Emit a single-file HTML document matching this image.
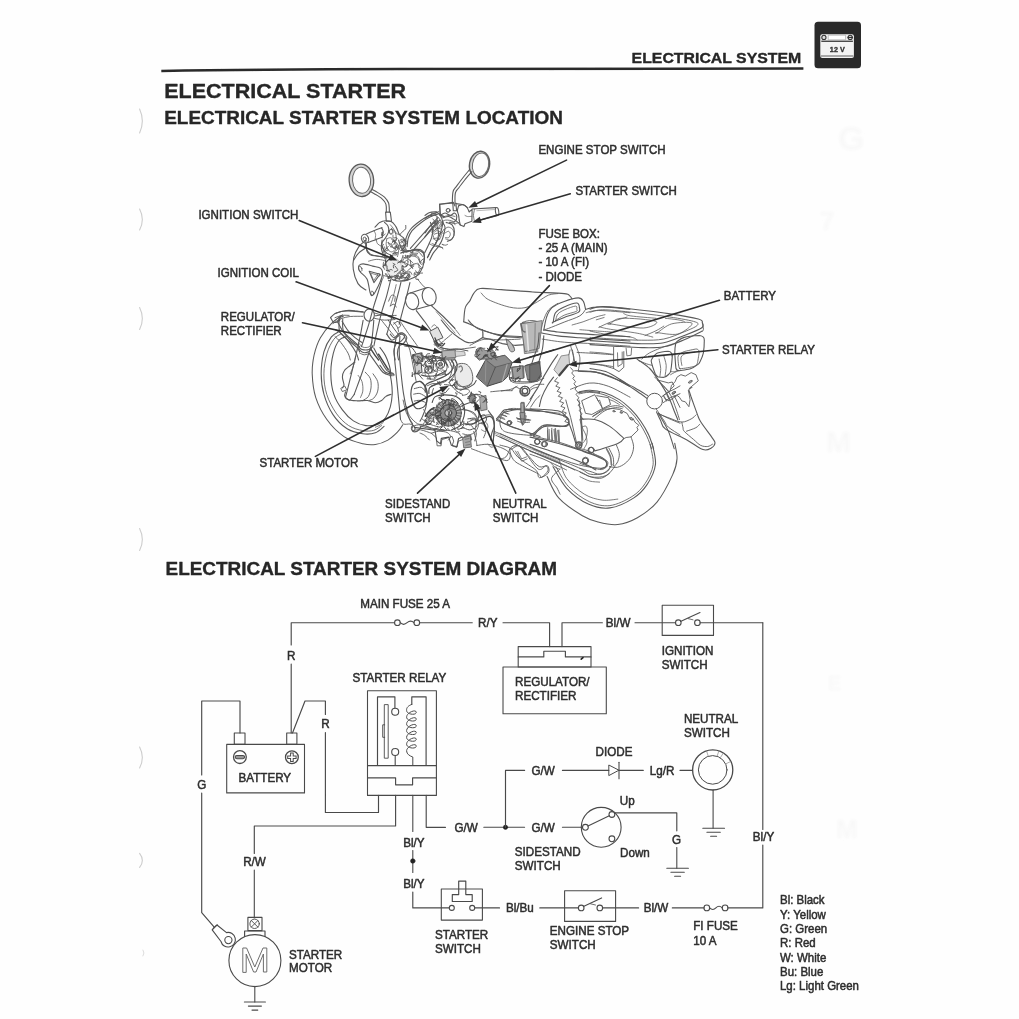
<!DOCTYPE html>
<html><head><meta charset="utf-8"><title>Electrical Starter</title>
<style>
html,body{margin:0;padding:0;background:#fff;}
body{width:1019px;height:1019px;overflow:hidden;font-family:"Liberation Sans",sans-serif;}
svg{display:block;font-family:"Liberation Sans",sans-serif;}
svg *{stroke-linecap:round;stroke-linejoin:round;}
</style></head><body>
<svg width="1019" height="1019" viewBox="0 0 1019 1019">
<defs><filter id="soft" x="-5%" y="-5%" width="110%" height="110%"><feGaussianBlur stdDeviation="0.35"/></filter><filter id="ghost" x="-30%" y="-30%" width="160%" height="160%"><feGaussianBlur stdDeviation="1.8"/></filter></defs>
<rect x="0" y="0" width="1019" height="1019" fill="#fefefe"/>
<g filter="url(#soft)">
<path d="M161.3,70.9 Q250,69.5 400,69.1 T803.4,68.5" stroke="#2a2a2a" stroke-width="2.5" fill="none" style="stroke-linecap:butt"/>
<text transform="translate(631.6,63.1) scale(1.0575,1)" font-size="15.0" font-weight="bold" fill="#262626" stroke="#262626" stroke-width="0.35" text-anchor="start">ELECTRICAL SYSTEM</text>
<text transform="translate(164.2,97.5) scale(1.0873,1)" font-size="19.8" font-weight="bold" fill="#262626" stroke="#262626" stroke-width="0.35" text-anchor="start">ELECTRICAL STARTER</text>
<text transform="translate(164.2,123.7) scale(1.0412,1)" font-size="18.2" font-weight="bold" fill="#262626" stroke="#262626" stroke-width="0.35" text-anchor="start">ELECTRICAL STARTER SYSTEM LOCATION</text>
<rect x="814.5" y="21.8" width="46.5" height="46.5" rx="3.5" fill="#2b2b2b"/>
<rect x="820.3" y="34.3" width="33.6" height="23.6" rx="2" fill="#f4f4f4"/>
<rect x="821.3" y="40.6" width="31.6" height="1.3" fill="#3a3a3a"/>
<rect x="820.8" y="55.4" width="32.6" height="1.2" fill="#777"/>
<rect x="828.6" y="35.2" width="17" height="4.6" fill="#fff" stroke="#999" stroke-width="0.6"/>
<circle cx="823.9" cy="37.4" r="2.1" fill="#ddd" stroke="#333" stroke-width="1.1"/>
<circle cx="850.2" cy="37.4" r="2.1" fill="#ddd" stroke="#333" stroke-width="1.1"/>
<rect x="847.5" y="36.9" width="5.4" height="1.1" fill="#333"/>
<text transform="translate(837.3,52.3) scale(0.95,1)" font-size="7.6" font-weight="bold" fill="#333" stroke="#333" stroke-width="0.35" text-anchor="middle">12 V</text>
<text transform="translate(165.5,575.0) scale(1.0407,1)" font-size="18.2" font-weight="bold" fill="#262626" stroke="#262626" stroke-width="0.35" text-anchor="start">ELECTRICAL STARTER SYSTEM DIAGRAM</text>
<path d="M139.6,109 q5.5,12 0,24" stroke="#cdcdcd" stroke-width="1.1" fill="none"/>
<path d="M139.6,209.0 q5.5,10.5 0,21.0" stroke="#cdcdcd" stroke-width="1.1" fill="none"/>
<path d="M139.6,307.5 q5.5,11 0,22" stroke="#cdcdcd" stroke-width="1.1" fill="none"/>
<path d="M139.6,528.5 q5.5,11 0,22" stroke="#cdcdcd" stroke-width="1.1" fill="none"/>
<path d="M139.6,747.0 q5.5,10.5 0,21.0" stroke="#cdcdcd" stroke-width="1.1" fill="none"/>
<path d="M139.6,853.4 q5.5,7 0,14" stroke="#cdcdcd" stroke-width="1.1" fill="none"/>
<path d="M143,950 q2,3 0,6" stroke="#dcdcdc" stroke-width="1" fill="none"/>
<text x="838" y="150" font-size="34" font-weight="bold" fill="#f8f8f8" filter="url(#ghost)">G</text>
<text x="820" y="230" font-size="26" font-weight="bold" fill="#f8f8f8" filter="url(#ghost)">7</text>
<text x="826" y="452" font-size="30" font-weight="bold" fill="#f8f8f8" filter="url(#ghost)">M</text>
<text x="836" y="838" font-size="26" font-weight="bold" fill="#f8f8f8" filter="url(#ghost)">M</text>
<text x="828" y="690" font-size="20" font-weight="bold" fill="#f8f8f8" filter="url(#ghost)">E</text>
<ellipse cx="361.5" cy="180.3" rx="10.6" ry="14.6" transform="rotate(-4 361.5 180.3)" stroke="#d4d4d4" stroke-width="3.2" fill="none"/>
<ellipse cx="361.4" cy="180.3" rx="12.25" ry="16.25" transform="rotate(-4 361.4 180.3)" stroke="#5a5a5a" stroke-width="1.3" fill="none"/>
<ellipse cx="361.6" cy="180.3" rx="9.07" ry="13.07" transform="rotate(-4 361.6 180.3)" stroke="#6a6a6a" stroke-width="1.0" fill="none"/>
<path d="M369.9,191.3 C370.7,191.8 373.0,192.9 375.0,194.2 C377.1,195.4 380.3,197.2 382.1,198.9 C383.9,200.5 385.2,202.0 385.9,204.2 C386.6,206.4 386.3,210.8 386.3,212.1" stroke="#5a5a5a" stroke-width="1.1" fill="none" />
<path d="M372.2,189.5 C373.1,190.0 375.4,191.1 377.4,192.4 C379.4,193.7 382.6,195.3 384.5,197.1 C386.3,198.9 387.8,200.5 388.6,203.0 C389.4,205.5 389.3,210.6 389.4,212.1" stroke="#5a5a5a" stroke-width="1.1" fill="none" />
<path d="M385.6,212.1 L386.3,221.3 L391.5,221.3 L390.3,212.1 L385.6,212.1" stroke="#5a5a5a" stroke-width="1.1" fill="none" />
<path d="M365.9,234.2 C367.2,233.6 371.2,231.8 373.9,230.7 C376.6,229.6 380.7,228.2 382.1,227.7" stroke="#5a5a5a" stroke-width="1.1" fill="none" />
<path d="M368.0,242.5 C369.2,242.0 372.8,240.7 375.0,239.9 C377.3,239.0 380.4,237.9 381.5,237.5" stroke="#5a5a5a" stroke-width="1.1" fill="none" />
<ellipse cx="365.0" cy="238.7" rx="3.53" ry="4.47" transform="rotate(-20 365.0 238.7)" stroke="#5a5a5a" stroke-width="1.1" fill="none"/>
<ellipse cx="364.7" cy="238.9" rx="1.53" ry="1.88" transform="rotate(-20 364.7 238.9)" stroke="#5a5a5a" stroke-width="0.8" fill="none"/>
<path d="M381.5,227.7 C381.8,228.4 383.2,230.2 383.3,231.9 C383.4,233.5 382.3,236.8 382.1,237.7" stroke="#5a5a5a" stroke-width="1.1" fill="none" />
<path d="M373.9,230.7 C374.2,231.3 375.4,232.7 375.6,234.2 C375.8,235.7 375.1,238.9 375.0,239.9" stroke="#5a5a5a" stroke-width="0.7" fill="none" />
<path d="M375.0,227.1 C375.8,226.4 378.0,223.5 379.7,222.4 C381.5,221.4 383.7,220.8 385.6,220.7 C387.6,220.6 389.8,220.8 391.5,221.8 C393.3,222.9 395.0,225.1 396.2,227.1 C397.5,229.2 398.0,232.4 399.2,234.2 C400.4,236.0 402.2,236.4 403.3,237.7 C404.4,239.1 405.5,240.9 405.7,242.5 C405.9,244.0 405.3,245.8 404.5,247.2 C403.7,248.5 401.5,250.1 400.9,250.7" stroke="#5a5a5a" stroke-width="1.1" fill="none" />
<path d="M384.5,222.4 C385.0,223.0 387.3,224.4 388.0,226.0 C388.7,227.5 389.0,229.9 388.6,231.9 C388.2,233.8 386.7,236.0 385.6,237.7 C384.6,239.5 382.6,240.7 382.1,242.5 C381.6,244.2 381.9,246.6 382.7,248.3 C383.5,250.1 385.1,251.8 386.8,253.1 C388.5,254.3 391.7,255.5 392.7,256.0" stroke="#5a5a5a" stroke-width="1.1" fill="none" />
<path d="M390.3,224.8 C390.9,225.6 392.9,227.5 393.9,229.5 C394.9,231.5 396.0,234.4 396.2,236.6 C396.4,238.7 395.8,240.9 395.1,242.5 C394.3,244.0 392.1,245.4 391.5,246.0" stroke="#5a5a5a" stroke-width="0.8" fill="none" />
<path d="M386.8,238.9 C387.4,238.7 389.2,237.5 390.3,237.7 C391.5,237.9 392.9,238.9 393.9,240.1 C394.9,241.3 396.0,243.2 396.2,244.8 C396.4,246.4 395.8,248.3 395.1,249.5 C394.3,250.7 392.7,251.9 391.5,251.9 C390.3,251.9 388.9,250.7 388.0,249.5 C387.1,248.3 386.4,246.6 386.2,244.8 C386.0,243.0 386.7,239.9 386.8,238.9" stroke="#5a5a5a" stroke-width="0.8" fill="none" />
<path d="M389.2,230.7 C389.6,230.5 390.8,229.3 391.5,229.5 C392.2,229.7 393.2,231.1 393.3,231.9 C393.4,232.6 392.7,233.9 392.1,234.2 C391.5,234.5 390.3,234.2 389.8,233.6 C389.3,233.0 389.3,231.2 389.2,230.7" stroke="#5a5a5a" stroke-width="0.7" fill="none" />
<path d="M376.2,238.9 C376.4,239.7 376.6,242.5 377.4,243.6 C378.2,244.8 380.3,245.6 380.9,246.0" stroke="#5a5a5a" stroke-width="0.8" fill="none" />
<path d="M382.1,246.0 C382.5,246.8 383.9,248.9 384.5,250.7 C385.0,252.5 385.0,255.0 385.6,256.6 C386.2,258.1 387.6,259.4 388.0,260.0" stroke="#5a5a5a" stroke-width="0.8" fill="none" />
<path d="M396.2,246.0 C396.6,246.8 398.4,248.9 398.6,250.7 C398.8,252.5 397.6,255.6 397.4,256.6" stroke="#5a5a5a" stroke-width="0.8" fill="none" />
<path d="M353.8,260.0 C354.6,258.8 356.6,255.1 358.6,253.1 C360.5,251.0 364.3,249.3 365.6,247.8 C366.9,246.2 366.1,244.3 366.2,243.6" stroke="#5a5a5a" stroke-width="1.1" fill="none" />
<path d="M366.2,243.6 C366.3,244.8 366.1,248.8 366.8,250.7 C367.5,252.6 368.8,253.9 370.3,254.8 C371.9,255.7 374.3,255.7 376.2,256.0 C378.2,256.3 381.1,256.5 382.1,256.6" stroke="#5a5a5a" stroke-width="1.1" fill="none" />
<path d="M405.2,246.0 C405.4,244.6 405.4,240.5 406.2,237.7 C407.1,235.0 408.1,232.2 410.4,229.5 C412.6,226.8 416.6,223.6 419.8,221.3 C422.9,218.9 426.1,216.9 429.2,215.4 C432.4,213.8 437.1,212.4 438.6,211.8" stroke="#5a5a5a" stroke-width="1.1" fill="none" />
<path d="M407.1,246.6 C407.3,245.2 407.4,241.0 408.2,238.3 C409.1,235.7 410.0,233.3 412.1,230.7 C414.3,228.1 417.9,225.0 421.0,222.7 C424.0,220.4 427.3,218.3 430.4,216.8 C433.4,215.3 437.7,214.1 439.2,213.6" stroke="#5a5a5a" stroke-width="1.1" fill="none" />
<path d="M402.7,250.7 C402.9,249.5 403.5,245.6 403.9,243.6 C404.3,241.7 405.0,239.7 405.2,238.9" stroke="#5a5a5a" stroke-width="0.8" fill="none" />
<path d="M410.4,248.3 C411.9,246.6 416.6,241.3 419.8,237.7 C422.9,234.2 426.3,230.1 429.2,227.1 C432.2,224.2 436.1,221.3 437.5,220.1" stroke="#5a5a5a" stroke-width="1.1" fill="none" />
<path d="M413.3,250.1 C414.9,248.3 419.7,242.9 422.7,239.5 C425.8,236.1 428.8,232.3 431.6,229.5 C434.3,226.7 437.9,223.6 439.2,222.4" stroke="#5a5a5a" stroke-width="1.1" fill="none" />
<path d="M439.6,204.2 L453.4,202.4 L455.0,205.9" stroke="#5a5a5a" stroke-width="1.1" fill="none" />
<path d="M439.6,204.2 L440.4,215.4 L444.5,216.5" stroke="#5a5a5a" stroke-width="1.1" fill="none" />
<circle cx="448.3" cy="210.4" r="1.88" stroke="#5a5a5a" stroke-width="0.8" fill="none"/>
<path d="M435.1,215.4 C435.7,215.8 437.6,216.5 438.6,217.7 C439.6,218.9 441.0,220.9 441.0,222.4 C441.0,224.0 439.0,226.4 438.6,227.1" stroke="#5a5a5a" stroke-width="0.8" fill="none" />
<path d="M444.5,216.5 C445.3,216.3 447.5,215.4 449.2,215.4 C451.0,215.4 454.0,216.3 455.0,216.5" stroke="#5a5a5a" stroke-width="0.8" fill="none" />
<path d="M441.0,222.4 C441.8,222.0 443.7,220.3 445.7,220.1 C447.7,219.9 451.2,220.5 452.8,221.3 C454.3,222.0 454.6,224.2 455.0,224.8" stroke="#5a5a5a" stroke-width="0.8" fill="none" />
<path d="M432.7,234.2 C433.3,233.6 434.9,230.9 436.3,230.7 C437.6,230.5 440.4,231.7 441.0,233.0 C441.6,234.4 440.8,237.7 439.8,238.9 C438.8,240.1 436.3,240.9 435.1,240.1 C433.9,239.3 433.1,235.2 432.7,234.2" stroke="#5a5a5a" stroke-width="0.8" fill="none" />
<path d="M429.2,243.6 C430.0,244.0 432.0,245.4 433.9,246.0 C435.9,246.6 439.5,246.7 441.0,247.2 C442.5,247.7 442.5,248.6 442.8,248.9" stroke="#5a5a5a" stroke-width="0.8" fill="none" />
<path d="M444.5,229.5 C445.1,229.1 446.7,227.1 448.1,227.1 C449.4,227.1 451.8,228.1 452.8,229.5 C453.7,230.9 454.3,233.6 453.9,235.4 C453.5,237.2 451.8,239.5 450.4,240.1 C449.0,240.7 446.5,239.1 445.7,238.9" stroke="#5a5a5a" stroke-width="0.8" fill="none" />
<path d="M430.4,222.4 C430.8,223.6 432.5,226.9 432.7,229.5 C432.9,232.1 432.4,235.0 431.6,237.7 C430.8,240.5 429.2,243.4 428.0,246.0 C426.9,248.5 425.1,251.9 424.5,253.1" stroke="#5a5a5a" stroke-width="1.1" fill="none" />
<path d="M437.5,227.1 C437.6,228.3 438.8,231.7 438.6,234.2 C438.4,236.8 437.5,239.9 436.3,242.5 C435.1,245.0 432.9,247.2 431.6,249.5 C430.2,251.9 428.6,255.4 428.0,256.6" stroke="#5a5a5a" stroke-width="1.1" fill="none" />
<path d="M400.9,253.1 C402.1,252.7 405.3,251.2 408.0,250.7 C410.8,250.2 414.9,249.7 417.4,250.1 C420.0,250.5 422.1,251.4 423.3,253.1 C424.5,254.7 424.3,258.8 424.5,260.0" stroke="#5a5a5a" stroke-width="1.1" fill="none" />
<path d="M405.7,256.6 C406.6,256.3 409.6,254.9 411.5,254.8 C413.5,254.7 416.1,255.1 417.4,256.0 C418.8,256.9 419.4,259.3 419.8,260.0" stroke="#5a5a5a" stroke-width="0.8" fill="none" />
<path d="M387.4,256.4 C387.0,256.7 385.5,257.9 384.6,257.8 C383.7,257.7 381.9,256.5 382.1,255.9 C382.3,255.2 385.2,254.0 385.9,253.7" stroke="#5a5a5a" stroke-width="0.9" fill="none" />
<path d="M397.2,238.7 C397.2,238.6 397.3,238.2 396.9,238.6 C396.4,239.0 395.5,241.0 394.5,241.1 C393.6,241.2 392.0,239.4 391.5,239.1" stroke="#5a5a5a" stroke-width="0.9" fill="none" />
<path d="M382.6,231.9 C382.5,232.4 382.2,234.9 382.1,234.9 C382.0,234.9 382.1,231.8 382.1,232.0 C382.1,232.1 382.1,235.1 382.1,235.7" stroke="#5a5a5a" stroke-width="0.9" fill="none" />
<path d="M383.6,244.3 C383.4,244.5 382.9,245.1 382.7,245.6 C382.4,246.0 382.2,246.6 382.1,247.0 C382.0,247.4 382.1,247.9 382.1,248.1" stroke="#5a5a5a" stroke-width="0.9" fill="none" />
<path d="M403.3,243.0 C402.9,242.4 400.5,240.3 400.6,239.7 C400.7,239.1 403.8,239.1 404.0,239.6 C404.2,240.2 402.1,242.4 401.7,243.0" stroke="#5a5a5a" stroke-width="0.9" fill="none" />
<path d="M395.7,248.2 C396.2,247.9 398.3,246.4 398.6,246.6 C398.9,246.8 398.2,248.6 397.5,249.4 C396.9,250.2 395.2,251.1 394.8,251.4" stroke="#5a5a5a" stroke-width="0.9" fill="none" />
<path d="M384.4,246.8 C384.7,247.4 385.2,249.6 385.9,250.2 C386.6,250.8 388.5,250.7 388.5,250.2 C388.6,249.8 386.6,248.0 386.2,247.6" stroke="#5a5a5a" stroke-width="0.9" fill="none" />
<path d="M394.6,240.4 C394.0,241.0 391.9,242.7 391.3,243.5 C390.8,244.2 391.7,245.1 391.4,245.0 C391.0,244.9 389.6,243.4 389.3,243.1" stroke="#5a5a5a" stroke-width="0.9" fill="none" />
<path d="M382.4,234.6 C382.3,234.5 382.2,233.7 382.1,234.0 C382.1,234.3 381.6,236.5 382.1,236.5 C382.6,236.5 384.6,234.5 385.1,234.1" stroke="#5a5a5a" stroke-width="0.9" fill="none" />
<path d="M391.4,228.3 C391.6,228.9 392.8,231.0 392.7,231.9 C392.5,232.8 391.0,234.2 390.4,233.9 C389.8,233.6 389.2,230.8 388.9,230.2" stroke="#5a5a5a" stroke-width="0.9" fill="none" />
<path d="M400.1,234.5 C399.7,234.4 398.4,234.2 397.6,234.0 C396.9,233.8 396.0,233.6 395.6,233.3 C395.2,233.1 395.3,232.8 395.2,232.7" stroke="#5a5a5a" stroke-width="0.9" fill="none" />
<path d="M396.0,232.6 C395.5,232.1 393.9,230.0 392.9,229.5 C391.9,229.0 390.6,229.3 389.9,229.7 C389.3,230.1 389.1,231.6 388.9,232.0" stroke="#5a5a5a" stroke-width="0.9" fill="none" />
<path d="M394.0,247.5 C394.6,246.9 397.6,245.2 397.6,244.2 C397.6,243.2 394.7,241.8 394.0,241.4 C393.2,241.1 393.3,241.9 393.1,242.0" stroke="#5a5a5a" stroke-width="0.9" fill="none" />
<path d="M399.6,234.8 C400.2,234.2 402.1,232.1 403.1,231.1 C404.1,230.1 405.2,229.9 405.7,228.9 C406.1,228.0 405.7,226.0 405.7,225.4" stroke="#5a5a5a" stroke-width="0.9" fill="none" />
<path d="M404.8,249.3 C405.0,249.4 405.9,249.2 405.7,249.9 C405.4,250.6 403.7,253.3 403.2,253.4 C402.8,253.5 402.9,250.8 402.8,250.3" stroke="#5a5a5a" stroke-width="0.9" fill="none" />
<path d="M396.4,240.0 C396.3,239.6 396.7,237.7 396.2,237.4 C395.7,237.1 393.8,238.4 393.3,238.0 C392.8,237.6 393.0,235.7 393.0,235.2" stroke="#5a5a5a" stroke-width="0.9" fill="none" />
<path d="M441.9,225.3 C441.5,225.8 440.3,227.6 439.2,228.1 C438.1,228.5 435.6,228.6 435.5,228.1 C435.4,227.6 438.0,225.5 438.5,224.9" stroke="#5a5a5a" stroke-width="0.9" fill="none" />
<path d="M444.0,233.3 C443.4,233.2 440.8,232.6 440.5,232.4 C440.2,232.2 441.5,232.6 442.0,232.1 C442.6,231.6 443.5,229.9 443.7,229.5" stroke="#5a5a5a" stroke-width="0.9" fill="none" />
<path d="M436.9,216.7 C436.9,217.2 436.8,219.0 436.9,219.9 C437.1,220.7 437.7,221.3 437.6,221.9 C437.6,222.6 436.9,223.5 436.7,223.8" stroke="#5a5a5a" stroke-width="0.9" fill="none" />
<path d="M433.8,222.6 C434.1,222.9 435.0,224.5 435.2,224.3 C435.3,224.1 435.0,222.1 434.6,221.2 C434.2,220.3 433.1,219.4 432.8,219.0" stroke="#5a5a5a" stroke-width="0.9" fill="none" />
<path d="M437.9,239.7 C437.5,240.2 435.5,242.7 435.6,242.6 C435.7,242.5 438.1,239.8 438.5,239.3 C438.8,238.7 437.7,239.2 437.5,239.2" stroke="#5a5a5a" stroke-width="0.9" fill="none" />
<path d="M432.1,227.0 C432.6,226.5 434.5,225.1 435.2,224.1 C435.8,223.1 435.7,221.2 435.9,221.2 C436.1,221.3 436.4,223.7 436.5,224.2" stroke="#5a5a5a" stroke-width="0.9" fill="none" />
<path d="M436.1,213.3 C435.6,213.3 433.7,213.6 433.0,213.6 C432.2,213.5 431.8,212.6 431.6,213.0 C431.3,213.4 431.6,215.7 431.6,216.2" stroke="#5a5a5a" stroke-width="0.9" fill="none" />
<path d="M441.0,226.1 C441.1,225.6 441.7,224.0 442.0,223.1 C442.3,222.2 442.4,220.4 442.6,220.6 C442.8,220.8 443.3,223.5 443.4,224.1" stroke="#5a5a5a" stroke-width="0.9" fill="none" />
<path d="M432.8,231.3 C432.9,230.9 433.7,228.5 433.6,228.7 C433.4,228.9 431.5,232.3 431.8,232.4 C432.2,232.5 435.0,230.0 435.6,229.5" stroke="#5a5a5a" stroke-width="0.9" fill="none" />
<path d="M447.4,244.4 C447.0,244.5 446.3,245.2 445.4,245.2 C444.5,245.2 442.3,244.3 441.9,244.2 C441.6,244.1 443.0,244.8 443.2,244.9" stroke="#5a5a5a" stroke-width="0.9" fill="none" />
<ellipse cx="480.0" cy="164.7" rx="9.19" ry="12.84" transform="rotate(10 480.0 164.7)" stroke="#d4d4d4" stroke-width="2.6" fill="none"/>
<ellipse cx="479.5" cy="164.7" rx="10.01" ry="13.54" transform="rotate(10 479.5 164.7)" stroke="#5a5a5a" stroke-width="1.3" fill="none"/>
<ellipse cx="480.6" cy="164.7" rx="8.13" ry="11.89" transform="rotate(10 480.6 164.7)" stroke="#6a6a6a" stroke-width="1.0" fill="none"/>
<path d="M469.7,169.4 C468.8,170.6 466.0,173.8 463.9,176.5 C461.7,179.3 458.6,183.4 456.8,185.9 C455.0,188.5 453.8,188.9 453.0,191.8 C452.3,194.8 452.4,201.6 452.3,203.6" stroke="#5a5a5a" stroke-width="1.1" fill="none" />
<path d="M471.9,171.6 C470.8,172.8 467.8,176.2 465.6,178.9 C463.5,181.6 460.6,185.3 458.9,187.7 C457.2,190.0 456.0,190.3 455.4,193.0 C454.7,195.6 455.1,201.8 455.0,203.6" stroke="#5a5a5a" stroke-width="1.1" fill="none" />
<path d="M452.8,203.0 L453.3,210.7 L456.6,210.7 L455.9,203.0" stroke="#5a5a5a" stroke-width="1.1" fill="none" />
<path d="M439.7,204.2 L453.3,203.0" stroke="#5a5a5a" stroke-width="1.1" fill="none" />
<path d="M439.7,204.2 L440.1,215.4 L443.8,216.5" stroke="#5a5a5a" stroke-width="1.1" fill="none" />
<path d="M455.9,203.6 L463.9,204.8 L467.4,207.7" stroke="#5a5a5a" stroke-width="1.1" fill="none" />
<circle cx="448.0" cy="210.3" r="1.88" stroke="#5a5a5a" stroke-width="0.8" fill="none"/>
<path d="M458.6,205.9 C459.2,205.8 461.3,204.6 462.7,204.8 C464.1,205.0 465.7,205.9 466.8,207.1 C467.9,208.3 468.8,211.1 469.2,211.8" stroke="#5a5a5a" stroke-width="1.1" fill="none" />
<path d="M469.2,211.8 L472.1,209.5 L471.9,221.3 L465.0,223.8 L463.9,226.6 L460.3,225.0 L459.2,220.1" stroke="#5a5a5a" stroke-width="1.1" fill="none" />
<path d="M458.6,205.9 C458.4,206.7 457.4,209.1 457.4,210.7 C457.4,212.2 458.3,213.8 458.6,215.4 C458.9,216.9 459.1,219.3 459.2,220.1" stroke="#5a5a5a" stroke-width="1.1" fill="none" />
<path d="M465.0,215.4 C465.4,215.6 466.3,216.4 467.4,216.5 C468.5,216.7 471.1,216.3 471.9,216.3" stroke="#5a5a5a" stroke-width="0.7" fill="none" />
<path d="M472.1,209.0 L495.7,207.6" stroke="#5a5a5a" stroke-width="1.1" fill="none" />
<path d="M474.5,221.5 L497.1,215.6" stroke="#5a5a5a" stroke-width="1.1" fill="none" />
<ellipse cx="497.1" cy="211.5" rx="1.65" ry="4.0" transform="rotate(-8 497.1 211.5)" stroke="#5a5a5a" stroke-width="1.1" fill="none"/>
<path d="M476.8,210.7 L494.5,209.5" stroke="#888" stroke-width="0.6" fill="none" />
<path d="M474.5,209.5 C474.3,210.5 473.5,213.4 473.5,215.4 C473.5,217.4 474.3,220.5 474.5,221.5" stroke="#5a5a5a" stroke-width="0.8" fill="none" />
<path d="M440.3,215.4 C441.1,215.0 443.4,213.0 445.0,213.0 C446.7,213.0 448.7,215.4 450.3,215.4 C451.9,215.4 453.4,212.8 454.4,213.0 C455.5,213.2 456.7,215.2 456.8,216.5 C456.9,217.9 456.2,220.3 455.0,221.3 C453.9,222.2 450.6,222.2 449.7,222.4" stroke="#5a5a5a" stroke-width="1.1" fill="none" />
<path d="M442.7,217.7 C443.6,217.5 446.8,216.3 448.6,216.5 C450.3,216.7 451.7,217.9 453.3,218.9 C454.8,219.9 456.8,221.4 458.0,222.4 C459.2,223.5 459.9,224.6 460.3,225.0" stroke="#5a5a5a" stroke-width="1.1" fill="none" />
<path d="M436.2,211.8 C436.9,212.4 439.2,213.6 440.3,215.4 C441.4,217.1 442.5,220.1 442.7,222.4 C442.9,224.8 442.1,227.1 441.5,229.5 C440.9,231.9 440.1,234.2 439.1,236.6 C438.2,238.9 437.0,241.3 435.6,243.6 C434.2,246.0 432.3,248.3 430.9,250.7 C429.5,253.1 427.9,256.6 427.4,257.8" stroke="#5a5a5a" stroke-width="1.1" fill="none" />
<path d="M442.7,222.4 C443.1,223.2 444.8,225.2 445.0,227.1 C445.2,229.1 444.4,231.9 443.8,234.2 C443.3,236.6 442.5,239.1 441.5,241.3 C440.5,243.4 439.3,245.2 438.0,247.2 C436.6,249.1 434.6,250.9 433.2,253.1 C431.9,255.2 430.3,258.8 429.7,260.0" stroke="#5a5a5a" stroke-width="1.1" fill="none" />
<path d="M446.2,222.4 C447.2,222.8 450.7,223.2 452.1,224.8 C453.5,226.4 454.4,229.5 454.4,231.9 C454.4,234.2 453.3,237.4 452.1,238.9 C450.9,240.5 448.2,240.9 447.4,241.3" stroke="#5a5a5a" stroke-width="1.1" fill="none" />
<path d="M445.0,233.0 C445.6,232.7 447.7,231.1 448.6,231.3 C449.4,231.5 450.3,233.1 450.3,234.2 C450.3,235.3 449.3,237.2 448.6,237.7 C447.8,238.3 446.1,237.5 445.6,237.5" stroke="#5a5a5a" stroke-width="0.8" fill="none" />
<path d="M435.6,229.5 C436.2,229.3 438.2,228.3 439.1,228.3 C440.1,228.3 441.1,229.3 441.5,229.5" stroke="#5a5a5a" stroke-width="0.8" fill="none" />
<path d="M434.4,234.2 C435.0,234.0 436.9,233.0 438.0,233.0 C439.0,233.0 440.4,234.0 440.9,234.2" stroke="#5a5a5a" stroke-width="0.8" fill="none" />
<path d="M433.2,238.9 C433.8,238.8 435.7,237.9 436.8,238.0 C437.9,238.0 439.2,239.0 439.7,239.2" stroke="#5a5a5a" stroke-width="0.8" fill="none" />
<path d="M432.1,243.6 C432.9,243.9 435.0,244.7 436.8,245.4 C438.5,246.1 441.7,247.4 442.7,247.8" stroke="#5a5a5a" stroke-width="0.9" fill="none" />
<path d="M425.0,215.4 C425.8,214.9 427.8,213.0 429.7,212.4 C431.6,211.8 435.1,211.9 436.2,211.8" stroke="#5a5a5a" stroke-width="1.1" fill="none" />
<path d="M425.0,218.3 C425.9,217.8 428.3,216.0 430.3,215.4 C432.3,214.8 435.7,214.9 436.8,214.8" stroke="#5a5a5a" stroke-width="1.1" fill="none" />
<path d="M425.0,233.0 C426.0,231.7 428.7,227.3 430.9,224.8 C433.0,222.2 436.8,218.9 438.0,217.7" stroke="#5a5a5a" stroke-width="1.1" fill="none" />
<path d="M425.0,236.6 C426.2,235.1 429.6,230.5 432.1,227.7 C434.5,225.0 438.4,221.4 439.7,220.1" stroke="#5a5a5a" stroke-width="1.1" fill="none" />
<path d="M449.7,222.4 C450.5,222.6 452.9,223.6 454.4,223.6 C456.0,223.6 458.4,222.6 459.2,222.4" stroke="#5a5a5a" stroke-width="0.8" fill="none" />
<path d="M365.9,240.0 C364.6,241.2 360.6,244.1 358.6,247.1 C356.6,250.0 354.7,253.9 353.8,257.7 C353.0,261.4 352.6,265.1 353.3,269.4 C353.9,273.8 355.9,280.1 358.0,283.6 C360.1,287.0 364.5,289.0 365.9,290.0" stroke="#5a5a5a" stroke-width="1.1" fill="none" />
<path d="M365.9,240.0 C365.9,241.4 365.5,245.9 366.2,248.2 C367.0,250.6 368.1,252.8 370.3,254.1 C372.6,255.5 376.8,255.9 379.7,256.5 C382.7,257.1 386.6,257.5 388.0,257.7" stroke="#5a5a5a" stroke-width="1.1" fill="none" />
<path d="M368.6,261.2 C369.8,260.9 373.6,259.5 376.2,259.4 C378.9,259.3 382.3,259.9 384.5,260.6 C386.6,261.3 388.4,263.1 389.2,263.6" stroke="#5a5a5a" stroke-width="0.8" fill="none" />
<path d="M359.1,265.3 C359.9,264.6 361.0,263.8 363.3,263.9 C365.5,264.0 369.8,265.4 372.7,266.1 C375.6,266.9 379.1,266.7 380.7,268.3 C382.3,269.8 383.2,271.5 382.3,275.3 C381.5,279.2 377.4,287.9 375.6,291.2 C373.9,294.6 372.7,295.5 371.7,295.6 C370.8,295.7 370.6,294.6 369.9,291.8 C369.1,289.0 368.6,282.2 367.0,278.9 C365.4,275.6 361.7,273.8 360.3,272.0 C358.9,270.3 358.7,269.4 358.6,268.3 C358.4,267.1 358.4,266.0 359.1,265.3Z" stroke="#5a5a5a" stroke-width="1.1" fill="none" />
<path d="M369.2,271.2 L380.0,274.2 L373.9,282.6Z" stroke="#5a5a5a" stroke-width="1.1" fill="none" />
<path d="M370.9,273.2 L377.4,275.1 L373.9,280.3Z" stroke="#5a5a5a" stroke-width="0.7" fill="none" />
<ellipse cx="360.3" cy="269.0" rx="1.65" ry="2.59" transform="rotate(-15 360.3 269.0)" stroke="#5a5a5a" stroke-width="0.8" fill="none"/>
<circle cx="378.7" cy="274.9" r="1.41" stroke="#5a5a5a" stroke-width="0.8" fill="none"/>
<ellipse cx="372.2" cy="293.2" rx="1.41" ry="2.12" transform="rotate(-10 372.2 293.2)" stroke="#5a5a5a" stroke-width="0.8" fill="none"/>
<path d="M382.1,240.0 C382.0,241.6 380.9,246.1 381.5,249.4 C382.1,252.8 384.6,256.5 385.6,260.0 C386.7,263.6 387.0,267.5 388.0,270.6 C389.0,273.8 389.4,277.1 391.5,278.9 C393.7,280.6 397.8,281.2 400.9,281.2 C404.1,281.2 407.6,279.8 410.4,278.9 C413.1,277.9 415.4,277.3 417.4,275.3 C419.5,273.4 421.6,270.2 422.7,267.1 C423.9,263.9 424.6,259.2 424.5,256.5 C424.4,253.7 423.7,251.8 422.1,250.6 C420.6,249.4 417.8,249.2 415.1,249.4 C412.3,249.6 408.0,252.2 405.7,251.8 C403.3,251.4 402.1,249.0 400.9,247.1 C399.8,245.1 399.0,241.2 398.6,240.0" stroke="#5a5a5a" stroke-width="1.1" fill="none" />
<path d="M398.7,270.1 C399.1,270.8 400.5,272.8 401.3,274.1 C402.1,275.4 403.8,277.3 403.5,277.9 C403.1,278.5 400.0,277.6 399.3,277.6" stroke="#555" stroke-width="0.9" fill="none" />
<path d="M406.6,266.4 C406.8,265.8 407.8,263.9 408.0,262.9 C408.2,261.9 407.7,260.9 407.7,260.6 C407.7,260.4 408.0,261.2 408.0,261.3" stroke="#555" stroke-width="0.9" fill="none" />
<path d="M383.6,248.8 C383.6,249.4 382.9,252.4 383.3,252.5 C383.6,252.6 384.8,250.5 385.7,249.5 C386.5,248.4 387.9,246.8 388.3,246.3" stroke="#555" stroke-width="0.9" fill="none" />
<path d="M398.6,245.1 C397.8,245.7 395.3,248.3 394.1,248.5 C392.9,248.6 391.2,245.8 391.5,245.9 C391.8,246.1 395.1,248.7 395.8,249.3" stroke="#555" stroke-width="0.9" fill="none" />
<path d="M390.4,279.1 C390.5,279.3 391.2,280.4 390.8,280.6 C390.4,280.9 388.3,280.6 388.1,280.6 C388.0,280.6 389.6,280.6 389.9,280.6" stroke="#555" stroke-width="0.9" fill="none" />
<path d="M405.4,252.1 C405.2,251.6 404.9,250.3 404.1,249.1 C403.4,248.0 401.8,245.8 401.0,245.3 C400.1,244.8 399.5,246.0 399.2,246.2" stroke="#555" stroke-width="0.9" fill="none" />
<path d="M383.4,267.5 C383.4,267.3 382.8,266.2 383.3,265.8 C383.7,265.5 385.9,265.7 386.1,265.7 C386.3,265.6 384.8,265.5 384.5,265.5" stroke="#555" stroke-width="0.9" fill="none" />
<path d="M400.7,242.3 C401.4,241.9 403.9,239.9 405.0,240.0 C406.0,240.1 407.5,242.1 407.2,243.1 C406.9,244.0 403.6,245.2 402.9,245.7" stroke="#555" stroke-width="0.9" fill="none" />
<path d="M392.3,263.5 C391.6,262.8 389.2,259.4 387.9,259.4 C386.7,259.5 385.9,262.5 385.1,263.5 C384.3,264.6 383.6,265.4 383.3,265.8" stroke="#555" stroke-width="0.9" fill="none" />
<path d="M406.3,278.3 C406.0,278.1 405.1,276.8 404.9,277.0 C404.7,277.2 405.6,278.8 405.1,279.4 C404.6,280.0 402.2,280.4 401.6,280.6" stroke="#555" stroke-width="0.9" fill="none" />
<path d="M403.0,274.9 C402.3,275.6 400.2,278.5 398.9,278.9 C397.6,279.3 395.6,277.2 395.2,277.5 C394.7,277.8 396.0,280.1 396.2,280.6" stroke="#555" stroke-width="0.9" fill="none" />
<path d="M391.7,277.5 C391.8,277.3 392.3,276.6 392.1,275.9 C391.9,275.1 391.4,274.0 390.5,273.0 C389.6,272.0 387.3,270.4 386.7,269.8" stroke="#555" stroke-width="0.9" fill="none" />
<path d="M400.3,280.5 C399.8,279.8 397.1,277.1 397.3,276.5 C397.5,275.8 401.1,277.1 401.7,276.8 C402.2,276.4 401.0,274.8 400.8,274.4" stroke="#555" stroke-width="0.9" fill="none" />
<path d="M398.0,273.6 C397.9,273.5 398.3,272.4 397.6,272.9 C396.8,273.4 395.0,276.0 393.6,276.6 C392.2,277.2 390.1,276.5 389.4,276.5" stroke="#555" stroke-width="0.9" fill="none" />
<path d="M404.0,245.3 C404.4,246.0 405.6,248.2 406.1,249.3 C406.6,250.4 407.6,251.6 407.3,251.9 C406.9,252.2 404.3,251.4 403.7,251.3" stroke="#555" stroke-width="0.9" fill="none" />
<path d="M387.0,274.3 C386.7,274.3 384.7,273.4 385.1,273.9 C385.6,274.4 388.2,276.6 389.6,277.1 C391.1,277.5 393.2,276.7 393.9,276.6" stroke="#555" stroke-width="0.9" fill="none" />
<path d="M395.4,269.6 C395.3,269.3 395.3,268.6 395.2,267.8 C395.0,266.9 394.6,264.4 394.3,264.6 C394.0,264.8 393.4,268.2 393.2,269.0" stroke="#555" stroke-width="0.9" fill="none" />
<path d="M407.0,265.5 C407.0,265.2 407.6,264.6 407.0,264.0 C406.4,263.4 403.5,261.8 403.3,262.0 C403.1,262.2 405.4,264.7 405.9,265.3" stroke="#555" stroke-width="0.9" fill="none" />
<path d="M392.2,271.9 C392.6,272.2 394.0,273.0 394.7,273.7 C395.3,274.4 396.1,275.3 396.1,276.0 C396.2,276.7 395.1,277.5 394.9,277.8" stroke="#555" stroke-width="0.9" fill="none" />
<path d="M390.2,259.7 C390.6,260.0 392.5,260.5 392.6,261.4 C392.7,262.4 390.9,264.6 390.8,265.4 C390.7,266.2 391.9,266.0 392.1,266.2" stroke="#555" stroke-width="0.9" fill="none" />
<path d="M383.6,262.2 C383.5,262.5 383.3,263.0 383.3,263.8 C383.2,264.5 383.1,265.7 383.3,266.6 C383.5,267.5 384.4,268.8 384.6,269.3" stroke="#555" stroke-width="0.9" fill="none" />
<path d="M391.9,266.2 C392.2,266.7 393.9,268.1 394.0,269.1 C394.1,270.1 392.3,271.4 392.7,272.2 C393.0,273.0 395.4,273.6 396.0,273.9" stroke="#555" stroke-width="0.9" fill="none" />
<path d="M407.4,278.9 C407.4,278.9 408.1,278.8 407.6,279.1 C407.1,279.4 404.5,280.4 404.6,280.6 C404.7,280.8 407.4,280.5 408.0,280.4" stroke="#555" stroke-width="0.9" fill="none" />
<path d="M400.4,269.2 C400.7,268.7 401.7,266.7 402.4,266.3 C403.2,265.9 404.3,267.0 405.0,267.0 C405.6,267.0 406.2,266.4 406.4,266.3" stroke="#555" stroke-width="0.9" fill="none" />
<path d="M398.7,271.5 C398.9,271.8 400.4,273.6 399.9,273.4 C399.4,273.3 396.5,270.7 395.7,270.4 C394.9,270.1 395.3,271.5 395.2,271.7" stroke="#555" stroke-width="0.9" fill="none" />
<path d="M388.7,267.9 C388.9,267.2 389.7,264.9 389.9,263.8 C390.0,262.7 390.3,262.3 389.6,261.3 C388.9,260.4 386.3,258.6 385.6,258.0" stroke="#555" stroke-width="0.9" fill="none" />
<path d="M391.1,247.4 C390.7,246.7 388.9,244.1 388.4,243.2 C387.9,242.3 388.0,242.2 388.1,242.1 C388.2,242.1 388.9,242.8 389.1,243.0" stroke="#555" stroke-width="0.9" fill="none" />
<path d="M389.2,276.7 C388.4,276.6 385.7,276.1 384.7,275.8 C383.7,275.6 383.5,274.7 383.3,275.0 C383.0,275.4 383.3,277.5 383.3,278.0" stroke="#555" stroke-width="0.9" fill="none" />
<path d="M392.5,241.5 C392.7,241.2 393.3,240.2 393.5,240.0 C393.8,239.8 393.8,239.3 393.9,240.0 C394.1,240.7 394.6,243.4 394.7,244.1" stroke="#555" stroke-width="0.9" fill="none" />
<path d="M403.5,257.0 C404.0,257.2 406.1,258.6 406.3,258.3 C406.6,258.0 405.2,255.5 405.2,255.1 C405.1,254.7 405.9,255.6 406.0,255.7" stroke="#555" stroke-width="0.9" fill="none" />
<path d="M407.0,279.3 C407.1,279.1 407.8,279.0 407.9,278.0 C408.1,277.0 408.6,274.2 408.0,273.5 C407.4,272.9 405.1,274.0 404.5,274.1" stroke="#555" stroke-width="0.9" fill="none" />
<path d="M398.5,245.7 C398.7,246.3 399.6,248.7 399.7,249.2 C399.7,249.7 399.1,249.0 398.5,248.6 C397.9,248.2 396.5,247.1 396.1,246.7" stroke="#555" stroke-width="0.9" fill="none" />
<path d="M407.3,255.4 C407.4,256.0 407.9,258.9 408.0,259.1 C408.1,259.4 408.0,257.3 408.0,257.0 C408.0,256.6 408.0,257.0 408.0,257.0" stroke="#555" stroke-width="0.9" fill="none" />
<path d="M393.6,253.0 C394.3,253.0 397.5,252.9 397.9,252.9 C398.3,252.8 396.9,252.5 396.0,252.7 C395.1,252.8 393.2,253.6 392.6,253.8" stroke="#555" stroke-width="0.9" fill="none" />
<path d="M394.2,251.9 C394.7,252.4 397.1,254.3 396.8,254.8 C396.5,255.4 393.5,254.4 392.4,255.1 C391.4,255.8 390.7,258.4 390.4,259.0" stroke="#555" stroke-width="0.9" fill="none" />
<path d="M402.6,250.0 C402.3,249.5 400.2,247.7 400.5,246.9 C400.9,246.1 404.0,245.4 404.9,245.0 C405.8,244.7 405.7,244.9 405.9,244.8" stroke="#555" stroke-width="0.9" fill="none" />
<path d="M399.2,264.5 C399.6,264.0 400.7,262.0 401.4,261.1 C402.2,260.2 403.3,259.9 403.7,259.3 C404.2,258.8 404.0,258.1 404.0,257.9" stroke="#555" stroke-width="0.9" fill="none" />
<path d="M390.6,261.5 C390.6,261.3 390.0,260.4 390.3,260.3 C390.6,260.2 392.8,261.3 392.5,261.1 C392.2,260.9 389.0,259.2 388.3,258.9" stroke="#555" stroke-width="0.9" fill="none" />
<path d="M394.6,277.2 C395.1,277.3 398.2,277.2 398.0,277.6 C397.9,278.1 394.5,279.6 393.7,280.1 C392.8,280.6 393.1,280.5 393.0,280.6" stroke="#555" stroke-width="0.9" fill="none" />
<path d="M400.8,265.7 C400.8,266.3 400.8,268.9 400.6,269.4 C400.4,269.8 399.3,269.0 399.6,268.4 C400.0,267.8 402.2,266.1 402.8,265.7" stroke="#555" stroke-width="0.9" fill="none" />
<path d="M419.2,274.3 C419.1,274.0 419.8,272.3 419.0,272.2 C418.3,272.1 415.3,273.0 414.6,273.6 C413.8,274.3 414.3,275.6 414.3,276.0" stroke="#5a5a5a" stroke-width="0.9" fill="none" />
<path d="M409.5,272.8 C409.2,273.3 407.5,275.2 407.5,275.5 C407.5,275.8 409.1,274.6 409.5,274.8 C409.9,274.9 409.8,276.1 409.9,276.4" stroke="#5a5a5a" stroke-width="0.9" fill="none" />
<path d="M405.4,266.6 C405.8,266.2 407.2,264.5 408.1,264.5 C409.0,264.4 409.9,266.1 410.8,266.1 C411.8,266.2 413.4,264.9 413.9,264.7" stroke="#5a5a5a" stroke-width="0.9" fill="none" />
<path d="M403.1,273.7 C403.5,273.6 406.0,273.7 405.8,273.2 C405.7,272.7 402.6,271.3 402.2,270.5 C401.8,269.7 403.2,268.9 403.4,268.6" stroke="#5a5a5a" stroke-width="0.9" fill="none" />
<path d="M422.8,267.6 C422.3,267.8 420.8,268.1 420.1,269.0 C419.5,269.8 418.5,272.2 418.9,272.8 C419.3,273.5 421.9,273.0 422.5,273.0" stroke="#5a5a5a" stroke-width="0.9" fill="none" />
<path d="M415.7,270.7 C416.2,271.4 418.7,274.5 418.5,275.0 C418.2,275.5 414.8,274.3 414.3,273.8 C413.7,273.3 415.0,272.3 415.2,272.0" stroke="#5a5a5a" stroke-width="0.9" fill="none" />
<path d="M414.5,253.2 C415.0,253.2 417.9,253.1 417.9,253.4 C417.9,253.7 415.3,255.1 414.4,254.9 C413.6,254.7 413.0,252.6 412.8,252.2" stroke="#5a5a5a" stroke-width="0.9" fill="none" />
<path d="M412.1,254.6 C411.6,255.1 409.6,258.0 409.5,257.9 C409.3,257.7 410.5,254.7 411.2,253.5 C411.9,252.3 413.3,251.1 413.7,250.6" stroke="#5a5a5a" stroke-width="0.9" fill="none" />
<path d="M408.6,276.7 C408.8,276.4 409.7,275.4 409.7,275.0 C409.7,274.5 409.3,273.4 408.6,274.0 C407.8,274.5 405.8,277.7 405.2,278.4" stroke="#5a5a5a" stroke-width="0.9" fill="none" />
<path d="M402.2,262.8 C402.6,262.6 403.3,262.4 404.4,261.9 C405.5,261.4 407.3,259.4 408.7,259.6 C410.1,259.8 412.3,262.5 413.0,263.1" stroke="#5a5a5a" stroke-width="0.9" fill="none" />
<path d="M416.3,276.3 C416.3,276.8 415.5,278.7 415.9,279.2 C416.2,279.7 418.1,279.3 418.5,279.4 C418.9,279.4 418.3,279.4 418.3,279.5" stroke="#5a5a5a" stroke-width="0.9" fill="none" />
<path d="M410.3,253.1 C410.7,252.7 412.2,250.9 412.5,251.0 C412.9,251.1 412.9,253.6 412.4,253.5 C411.9,253.5 410.0,251.1 409.5,250.6" stroke="#5a5a5a" stroke-width="0.9" fill="none" />
<path d="M403.8,267.6 C403.6,267.2 402.8,265.1 402.5,265.4 C402.3,265.7 402.4,268.7 402.1,269.3 C401.8,269.8 401.1,268.6 400.9,268.4" stroke="#5a5a5a" stroke-width="0.9" fill="none" />
<path d="M421.1,268.3 C420.8,268.2 419.4,268.6 419.1,268.0 C418.7,267.5 419.1,265.7 418.9,264.8 C418.7,264.0 418.0,263.4 417.8,263.1" stroke="#5a5a5a" stroke-width="0.9" fill="none" />
<path d="M419.4,259.9 C419.7,260.6 420.1,263.6 420.9,264.1 C421.6,264.7 423.4,263.5 423.9,263.0 C424.4,262.6 423.9,261.7 423.9,261.4" stroke="#5a5a5a" stroke-width="0.9" fill="none" />
<path d="M410.1,264.7 C410.5,265.3 412.6,268.7 412.7,268.6 C412.8,268.5 411.2,265.6 410.8,264.2 C410.5,262.8 410.5,260.9 410.4,260.2" stroke="#5a5a5a" stroke-width="0.9" fill="none" />
<path d="M401.6,272.9 C401.5,273.2 401.1,273.9 400.9,274.9 C400.8,275.9 400.4,278.8 400.9,278.8 C401.5,278.8 403.6,275.5 404.1,274.9" stroke="#5a5a5a" stroke-width="0.9" fill="none" />
<path d="M405.4,277.9 C405.5,277.8 405.8,277.0 406.4,277.2 C407.0,277.5 408.5,279.1 408.9,279.5 C409.3,279.8 408.9,279.2 408.8,279.2" stroke="#5a5a5a" stroke-width="0.9" fill="none" />
<path d="M403.2,261.0 C402.9,261.2 401.2,262.5 400.9,262.2 C400.7,261.8 401.6,260.1 401.9,259.0 C402.3,257.9 402.9,256.0 403.0,255.4" stroke="#5a5a5a" stroke-width="0.9" fill="none" />
<path d="M403.4,269.2 C403.3,269.8 402.9,271.9 403.0,272.8 C403.2,273.7 404.5,273.8 404.2,274.6 C403.8,275.4 401.5,277.1 400.9,277.6" stroke="#5a5a5a" stroke-width="0.9" fill="none" />
<path d="M402.9,268.4 C403.5,269.0 405.3,271.5 406.5,272.1 C407.7,272.6 409.2,271.3 410.1,271.7 C410.9,272.0 411.5,273.8 411.8,274.3" stroke="#5a5a5a" stroke-width="0.9" fill="none" />
<path d="M404.1,277.8 C404.7,277.7 406.7,277.5 407.8,277.3 C408.8,277.1 410.2,276.6 410.2,276.8 C410.3,277.1 408.6,278.4 408.2,278.7" stroke="#5a5a5a" stroke-width="0.9" fill="none" />
<path d="M402.4,273.7 C403.1,273.4 405.3,272.7 406.7,271.8 C408.1,270.8 409.4,269.0 410.6,268.0 C411.8,267.1 413.3,266.4 413.8,266.1" stroke="#5a5a5a" stroke-width="0.9" fill="none" />
<path d="M423.1,263.0 C423.3,262.3 424.4,259.1 423.9,258.8 C423.4,258.6 420.6,261.1 420.2,261.7 C419.8,262.2 421.2,261.9 421.4,262.0" stroke="#5a5a5a" stroke-width="0.9" fill="none" />
<path d="M385.6,260.0 C386.2,257.9 388.6,257.9 390.3,257.7 C392.1,257.5 394.5,257.9 396.2,258.8 C398.0,259.8 400.2,261.6 400.9,263.6 C401.7,265.5 401.7,268.7 400.9,270.6 C400.2,272.6 398.0,274.5 396.2,275.3 C394.5,276.1 391.9,276.1 390.3,275.3 C388.8,274.5 387.6,273.2 386.8,270.6 C386.0,268.1 385.0,262.2 385.6,260.0Z" stroke="#999" stroke-width="0.5" fill="#ececec" />
<path d="M391.0,260.5 C391.2,260.0 391.8,258.1 392.0,257.7 C392.3,257.2 392.8,257.7 392.3,257.7 C391.8,257.7 389.7,257.7 389.2,257.7" stroke="#4a4a4a" stroke-width="0.9" fill="none" />
<path d="M386.3,265.8 C386.2,265.4 385.7,263.0 385.6,262.9 C385.5,262.8 385.6,265.2 385.6,265.3 C385.6,265.3 385.6,263.6 385.6,263.3" stroke="#4a4a4a" stroke-width="0.9" fill="none" />
<path d="M396.0,275.5 C396.1,275.4 395.9,275.4 396.5,274.8 C397.2,274.1 399.0,272.4 399.9,271.6 C400.8,270.8 401.8,270.3 402.1,270.1" stroke="#4a4a4a" stroke-width="0.9" fill="none" />
<path d="M388.0,259.9 C387.8,260.3 387.1,261.6 386.7,262.1 C386.3,262.6 385.6,262.7 385.6,262.7 C385.6,262.6 386.5,261.9 386.6,261.8" stroke="#4a4a4a" stroke-width="0.9" fill="none" />
<path d="M394.7,258.8 C394.1,258.7 391.9,257.9 391.6,257.7 C391.3,257.5 392.8,257.6 392.8,257.7 C392.8,257.8 391.7,258.2 391.5,258.3" stroke="#4a4a4a" stroke-width="0.9" fill="none" />
<path d="M393.1,263.3 C393.5,263.5 395.1,264.4 395.2,264.7 C395.2,265.0 393.7,264.7 393.4,265.2 C393.1,265.8 393.5,267.5 393.6,267.9" stroke="#4a4a4a" stroke-width="0.9" fill="none" />
<path d="M397.7,263.1 C398.2,262.6 400.6,260.5 401.1,260.4 C401.5,260.2 401.0,261.9 400.5,262.2 C400.0,262.5 398.4,262.1 398.0,262.1" stroke="#4a4a4a" stroke-width="0.9" fill="none" />
<path d="M386.3,270.3 C386.6,270.3 387.4,270.9 388.2,270.8 C388.9,270.6 390.1,269.6 390.8,269.5 C391.5,269.3 392.0,270.0 392.2,270.1" stroke="#4a4a4a" stroke-width="0.9" fill="none" />
<path d="M395.2,266.3 C395.6,266.8 397.2,268.7 397.6,269.4 C398.0,270.1 398.0,270.1 397.4,270.6 C396.9,271.0 394.8,271.7 394.3,272.0" stroke="#4a4a4a" stroke-width="0.9" fill="none" />
<path d="M396.3,276.4 C396.7,276.1 398.3,274.9 398.6,274.9 C398.8,274.8 398.5,275.9 397.8,276.0 C397.1,276.2 395.0,275.8 394.4,275.8" stroke="#4a4a4a" stroke-width="0.9" fill="none" />
<path d="M388.4,259.9 C387.9,260.2 386.1,261.7 385.6,261.8 C385.2,261.8 385.6,259.8 385.6,260.0 C385.6,260.1 385.6,262.2 385.6,262.6" stroke="#4a4a4a" stroke-width="0.9" fill="none" />
<path d="M387.0,266.1 C387.0,266.6 386.9,268.0 387.3,268.8 C387.7,269.7 389.5,271.1 389.6,271.4 C389.7,271.7 388.3,270.9 388.0,270.8" stroke="#4a4a4a" stroke-width="0.9" fill="none" />
<path d="M400.9,253.0 C402.1,252.6 405.3,250.9 408.0,250.6 C410.8,250.3 415.0,250.2 417.4,251.2 C419.9,252.2 421.8,255.6 422.7,256.5" stroke="#5a5a5a" stroke-width="0.9" fill="none" />
<path d="M405.7,257.7 C406.6,257.4 409.6,255.9 411.5,255.9 C413.5,255.9 416.1,256.6 417.4,257.7 C418.8,258.7 419.4,261.6 419.8,262.4" stroke="#5a5a5a" stroke-width="0.9" fill="none" />
<path d="M410.4,265.9 C411.3,265.5 414.5,263.4 416.3,263.6 C418.0,263.7 420.2,266.5 421.0,267.1" stroke="#5a5a5a" stroke-width="0.9" fill="none" />
<circle cx="388.6" cy="277.9" r="1.06" stroke="#5a5a5a" stroke-width="0.5" fill="#555"/>
<path d="M382.3,278.9 C381.6,281.2 379.4,288.5 378.0,293.0 C376.6,297.5 375.4,300.6 373.9,305.9 C372.3,311.2 370.3,318.9 368.6,324.8 C366.8,330.7 364.4,337.6 363.3,341.3 C362.1,344.9 361.8,345.7 361.5,346.6" stroke="#5a5a5a" stroke-width="1.1" fill="none" />
<path d="M390.6,280.0 C390.0,282.6 388.2,290.2 386.8,295.3 C385.4,300.5 383.6,305.4 382.1,310.7 C380.6,316.0 379.4,321.3 378.0,327.1 C376.6,333.0 374.5,342.8 373.9,346.0" stroke="#5a5a5a" stroke-width="1.1" fill="none" />
<path d="M400.9,282.4 C400.4,284.7 398.6,292.0 397.4,296.5 C396.2,301.0 395.1,305.2 393.9,309.5 C392.7,313.8 391.5,318.3 390.3,322.4 C389.2,326.6 387.4,332.2 386.8,334.2" stroke="#5a5a5a" stroke-width="1.1" fill="none" />
<path d="M409.9,282.6 C409.4,284.7 408.0,290.7 406.8,295.3 C405.6,300.0 404.0,305.8 402.7,310.7 C401.4,315.5 399.8,321.9 399.2,324.2" stroke="#5a5a5a" stroke-width="1.1" fill="none" />
<path d="M396.2,284.7 C395.7,286.7 394.3,293.0 393.3,296.5 C392.3,300.1 390.8,304.4 390.3,305.9" stroke="#5a5a5a" stroke-width="0.8" fill="none" />
<path d="M388.6,301.2 C389.1,300.3 390.4,296.1 391.5,295.3 C392.6,294.6 394.6,295.5 395.1,296.5 C395.5,297.5 394.6,300.5 394.5,301.2" stroke="#5a5a5a" stroke-width="0.9" fill="none" />
<path d="M390.3,305.9 C390.9,305.7 392.9,304.0 393.9,304.2 C394.9,304.4 395.8,306.6 396.2,307.1" stroke="#5a5a5a" stroke-width="0.9" fill="none" />
<ellipse cx="369.2" cy="315.1" rx="5.18" ry="6.12" transform="rotate(0 369.2 315.1)" stroke="#5a5a5a" stroke-width="1.1" fill="none"/>
<path d="M374.5,313.0 C376.1,313.4 380.8,315.0 384.5,315.4 C388.1,315.8 394.3,315.4 396.2,315.4" stroke="#5a5a5a" stroke-width="0.9" fill="none" />
<path d="M374.5,318.3 C376.1,318.6 381.0,319.9 384.5,320.1 C387.9,320.3 393.3,319.6 395.1,319.5" stroke="#5a5a5a" stroke-width="0.9" fill="none" />
<ellipse cx="412.1" cy="301.2" rx="6.48" ry="8.48" transform="rotate(-15 412.1 301.2)" stroke="#5a5a5a" stroke-width="1.1" fill="none"/>
<ellipse cx="429.2" cy="296.5" rx="6.83" ry="9.19" transform="rotate(-15 429.2 296.5)" stroke="#5a5a5a" stroke-width="1.1" fill="none"/>
<path d="M410.4,293.0 L425.7,288.0" stroke="#5a5a5a" stroke-width="1.1" fill="none" />
<path d="M416.3,309.2 L432.7,304.8" stroke="#5a5a5a" stroke-width="1.1" fill="none" />
<path d="M417.4,278.9 C418.2,279.8 420.8,283.2 422.1,284.7 C423.5,286.3 425.1,287.7 425.7,288.3" stroke="#5a5a5a" stroke-width="0.9" fill="none" />
<path d="M416.3,310.7 L424.5,321.3 L432.7,333.0" stroke="#5a5a5a" stroke-width="1.1" fill="none" />
<path d="M431.6,305.9 L443.3,316.5 L455.0,328.3" stroke="#5a5a5a" stroke-width="1.1" fill="none" />
<path d="M436.3,311.8 L455.0,333.0" stroke="#5a5a5a" stroke-width="0.7" fill="none" />
<path d="M432.7,333.0 C433.5,333.8 436.1,336.2 437.5,337.7 C438.8,339.3 439.8,342.1 441.0,342.5 C442.2,342.8 442.8,341.5 444.5,340.1 C446.3,338.7 450.4,335.2 451.6,334.2" stroke="#5a5a5a" stroke-width="0.9" fill="none" />
<path d="M431.6,333.0 C432.2,334.2 433.9,337.9 435.1,340.1 C436.3,342.3 438.0,345.0 438.6,346.0" stroke="#444" stroke-width="1.6" fill="none" />
<path d="M435.1,343.6 C435.7,344.4 437.3,347.4 438.6,348.3 C440.0,349.3 442.6,349.3 443.3,349.5" stroke="#5a5a5a" stroke-width="0.9" fill="none" />
<path d="M335.0,313.6 C336.6,313.1 341.1,311.1 344.4,310.7 C347.8,310.2 351.8,310.4 355.0,310.7 C358.3,310.9 362.4,311.8 363.9,312.1" stroke="#5a5a5a" stroke-width="1.1" fill="none" />
<path d="M335.0,317.7 C336.2,317.3 339.7,315.8 342.1,315.4 C344.4,315.0 348.0,315.4 349.1,315.4" stroke="#5a5a5a" stroke-width="0.9" fill="none" />
<path d="M337.9,322.4 C338.2,321.6 338.8,318.7 339.7,317.7 C340.6,316.7 342.7,316.7 343.2,316.5" stroke="#5a5a5a" stroke-width="1.1" fill="none" />
<path d="M337.9,322.4 C338.8,324.0 341.0,328.7 343.2,331.9 C345.5,335.0 348.7,338.8 351.5,341.3 C354.2,343.7 358.4,345.7 359.7,346.6" stroke="#5a5a5a" stroke-width="1.1" fill="none" />
<path d="M342.1,321.3 C343.0,322.8 345.8,327.9 348.0,330.7 C350.1,333.4 352.7,335.8 355.0,337.7 C357.4,339.7 360.9,341.7 362.1,342.5" stroke="#5a5a5a" stroke-width="1.1" fill="none" />
<path d="M335.0,329.5 C336.2,330.3 339.5,331.9 342.1,334.2 C344.6,336.6 348.0,340.5 350.3,343.6 C352.7,346.8 354.8,350.3 356.2,353.1 C357.6,355.8 358.2,358.8 358.6,360.0" stroke="#5a5a5a" stroke-width="1.1" fill="none" />
<path d="M335.0,336.6 C336.0,337.5 338.7,339.7 340.9,342.5 C343.0,345.2 346.4,350.1 348.0,353.1 C349.5,356.0 349.9,358.8 350.3,360.0" stroke="#5a5a5a" stroke-width="0.9" fill="none" />
<path d="M358.6,346.6 C359.1,347.1 360.3,349.0 362.1,349.5 C363.9,350.0 367.4,350.0 369.2,349.5 C370.9,349.0 372.1,347.1 372.7,346.6" stroke="#5a5a5a" stroke-width="1.1" fill="none" />
<path d="M359.7,353.1 C360.5,353.3 362.7,354.8 364.4,354.8 C366.2,354.8 369.3,353.3 370.3,353.1" stroke="#5a5a5a" stroke-width="0.9" fill="none" />
<path d="M386.8,334.2 C387.6,335.2 390.0,339.5 391.5,340.1 C393.1,340.7 394.7,338.7 396.2,337.7 C397.8,336.8 399.6,334.4 400.9,334.2 C402.3,334.0 404.5,335.4 404.5,336.6 C404.5,337.7 402.3,340.1 400.9,341.3 C399.6,342.5 397.4,342.1 396.2,343.6 C395.1,345.2 394.1,348.0 393.9,350.7 C393.7,353.4 394.9,358.4 395.1,360.0" stroke="#5a5a5a" stroke-width="1.1" fill="none" />
<path d="M390.3,334.2 C390.9,334.8 392.5,337.7 393.9,337.7 C395.3,337.7 397.1,335.0 398.6,334.2 C400.1,333.4 401.3,332.4 402.7,333.0 C404.1,333.6 406.7,336.0 406.8,337.7 C406.9,339.5 404.6,342.3 403.3,343.6 C402.0,345.0 400.2,344.4 399.2,346.0 C398.2,347.6 397.5,350.7 397.4,353.1 C397.3,355.4 398.4,358.8 398.6,360.0" stroke="#5a5a5a" stroke-width="1.1" fill="none" />
<path d="M370.3,348.3 C371.1,349.5 373.7,353.5 375.0,355.4 C376.4,357.4 378.0,359.2 378.6,360.0" stroke="#444" stroke-width="1.4" fill="none" />
<path d="M400.9,322.4 C401.7,323.6 403.9,326.9 405.7,329.5 C407.4,332.1 409.6,335.0 411.5,337.7 C413.5,340.5 416.5,344.6 417.4,346.0" stroke="#5a5a5a" stroke-width="0.9" fill="none" />
<path d="M393.9,322.4 C394.5,323.2 396.6,325.6 397.4,327.1 C398.2,328.7 398.4,331.1 398.6,331.9" stroke="#5a5a5a" stroke-width="0.9" fill="none" />
<path d="M441.0,351.3 L455.0,349.5 L455.0,360.0 L442.8,360.0Z" stroke="#666" stroke-width="0.6" fill="#9a9a9a" />
<path d="M412.7,354.8 L422.1,352.5 L424.5,360.0 L413.9,360.0Z" stroke="#777" stroke-width="0.6" fill="#bbb" />
<path d="M342.4,314.9 C340.6,316.4 335.1,319.8 331.4,323.6 C327.7,327.3 323.3,332.5 320.4,337.7 C317.5,342.9 315.5,348.9 314.1,355.0 C312.8,361.0 312.0,366.7 312.2,373.8 C312.5,380.9 313.3,389.8 315.7,397.4 C318.1,404.9 322.0,412.8 326.7,419.3 C331.4,425.9 337.9,432.5 344.0,436.6 C350.0,440.7 357.6,442.4 362.8,443.7 C368.0,445.0 371.2,445.1 375.4,444.5 C379.6,443.9 384.3,442.1 387.9,440.1 C391.6,438.0 394.9,434.7 397.4,432.2 C399.8,429.7 401.9,426.1 402.8,424.8" stroke="#5a5a5a" stroke-width="1.05" fill="none" />
<path d="M339.3,331.4 C337.9,332.3 334.0,333.5 331.4,336.9 C328.8,340.3 325.6,345.7 323.9,351.8 C322.2,358.0 321.2,366.7 321.2,373.8 C321.2,380.9 321.9,387.4 323.9,394.2 C325.8,401.0 329.1,408.9 333.0,414.6 C336.8,420.4 342.1,425.6 347.1,428.8 C352.1,431.9 358.1,433.1 362.8,433.8 C367.5,434.5 371.8,434.1 375.4,432.8 C378.9,431.6 382.6,427.5 384.0,426.4" stroke="#5a5a5a" stroke-width="1.1" fill="none" />
<path d="M341.1,333.8 C339.9,334.7 336.1,336.0 333.8,339.3 C331.4,342.5 328.7,347.6 327.0,353.4 C325.4,359.1 323.9,367.0 323.9,373.8 C323.8,380.6 324.7,387.7 326.7,394.2 C328.7,400.8 332.5,407.8 336.1,413.1 C339.8,418.3 344.2,422.7 348.7,425.6 C353.1,428.5 358.6,429.9 362.8,430.6 C367.0,431.4 370.7,431.2 373.8,430.3 C376.9,429.5 380.3,426.4 381.6,425.6" stroke="#5a5a5a" stroke-width="0.85" fill="none" />
<path d="M347.1,336.4 C345.8,337.0 341.6,337.2 339.3,340.0 C337.0,342.9 334.7,347.8 333.3,353.4 C331.9,359.0 330.7,367.0 330.8,373.8 C330.9,380.6 331.8,388.2 333.8,394.2 C335.7,400.2 339.1,405.5 342.4,409.9 C345.7,414.4 349.5,418.3 353.4,420.9 C357.3,423.5 361.8,425.1 365.9,425.6 C370.1,426.1 375.2,425.4 378.5,424.0 C381.8,422.7 383.6,420.6 385.6,417.8 C387.5,414.9 389.2,410.7 390.3,406.8 C391.4,402.8 392.0,398.4 392.2,394.2 C392.4,390.0 392.0,385.8 391.4,381.6 C390.8,377.5 389.2,371.2 388.7,369.1" stroke="#5a5a5a" stroke-width="1.1" fill="none" />
<path d="M385.6,417.8 C384.9,418.8 383.3,422.5 381.6,424.0 C379.9,425.6 376.4,426.7 375.4,427.2" stroke="#5a5a5a" stroke-width="0.8" fill="none" />
<path d="M355.0,362.0 C353.9,362.8 350.5,365.3 348.7,366.7 C346.9,368.2 345.3,369.0 344.3,370.7 C343.2,372.4 342.4,374.6 342.4,376.9 C342.3,379.3 344.0,383.0 344.0,384.8 C344.0,386.6 342.7,387.4 342.4,387.9" stroke="#5a5a5a" stroke-width="1.1" fill="none" />
<path d="M345.5,391.9 C345.4,392.5 344.5,394.6 344.7,395.8 C345.0,397.0 345.1,398.4 347.1,399.2 C349.1,400.1 353.1,400.6 356.5,400.8 C359.9,401.0 364.4,400.2 367.5,400.5 C370.7,400.8 373.0,402.8 375.4,402.8 C377.7,402.8 379.9,401.5 381.6,400.5 C383.3,399.4 384.0,397.6 385.6,396.6 C387.1,395.5 390.2,394.6 391.1,394.2" stroke="#5a5a5a" stroke-width="1.1" fill="none" />
<path d="M365.2,372.2 C366.0,373.3 369.4,375.9 370.3,378.5 C371.3,381.1 371.3,384.9 371.0,387.9 C370.6,390.9 369.7,394.5 368.3,396.6 C366.9,398.7 363.7,399.8 362.8,400.5" stroke="#5a5a5a" stroke-width="0.9" fill="none" />
<path d="M373.0,373.8 C373.8,375.1 376.9,378.8 377.7,381.6 C378.5,384.5 378.4,388.3 377.7,391.1 C377.1,393.8 375.2,396.6 373.8,398.1 C372.4,399.7 369.9,400.1 369.1,400.5" stroke="#5a5a5a" stroke-width="0.9" fill="none" />
<path d="M358.1,375.4 C358.8,376.4 361.2,379.0 362.0,381.6 C362.8,384.3 363.1,388.5 362.8,391.1 C362.5,393.7 360.8,396.3 360.5,397.4" stroke="#5a5a5a" stroke-width="0.8" fill="none" />
<path d="M341.1,388.2 L344.7,386.0 L346.8,389.8 L342.7,391.4Z" stroke="#5a5a5a" stroke-width="0.9" fill="none" />
<path d="M363.1,320.4 C362.7,322.8 361.3,330.1 360.5,334.5 C359.6,339.0 359.2,340.8 357.8,347.1 C356.3,353.4 353.9,363.9 351.8,372.2 C349.8,380.6 346.6,393.2 345.5,397.4" stroke="#5a5a5a" stroke-width="1.1" fill="none" />
<path d="M373.8,320.4 C373.6,322.8 373.1,330.1 372.5,334.5 C372.0,339.0 372.3,341.1 370.7,347.1 C369.0,353.1 365.6,362.8 362.8,370.7 C360.1,378.6 355.6,390.5 354.2,394.5" stroke="#5a5a5a" stroke-width="1.1" fill="none" />
<path d="M345.5,397.4 C346.2,397.8 348.0,400.6 349.5,400.2 C350.9,399.7 353.4,395.5 354.2,394.5" stroke="#5a5a5a" stroke-width="1.1" fill="none" />
<path d="M357.8,347.1 C358.5,347.9 360.1,351.4 362.0,352.1 C363.9,352.9 367.3,352.5 369.1,351.5 C370.8,350.5 372.0,346.8 372.5,345.8" stroke="#5a5a5a" stroke-width="1.1" fill="none" />
<path d="M358.4,342.4 C359.1,343.2 361.0,346.4 362.8,347.1 C364.6,347.8 367.6,347.6 369.1,346.8 C370.6,346.0 371.4,342.9 371.9,342.1" stroke="#5a5a5a" stroke-width="0.8" fill="none" />
<path d="M355.7,356.5 C355.3,358.1 354.3,363.1 353.4,365.9 C352.5,368.8 350.8,372.5 350.2,373.8" stroke="#5a5a5a" stroke-width="0.8" fill="none" />
<path d="M373.8,347.9 C374.8,349.9 377.9,355.9 380.1,359.7 C382.3,363.5 385.0,368.4 387.1,370.7 C389.3,372.9 392.0,372.8 393.0,373.2" stroke="#5a5a5a" stroke-width="1.1" fill="none" />
<path d="M369.1,353.4 C370.4,355.2 374.6,361.2 376.9,364.4 C379.3,367.6 380.9,370.7 383.2,372.5 C385.6,374.4 389.8,375.2 391.1,375.7" stroke="#5a5a5a" stroke-width="1.1" fill="none" />
<path d="M393.0,373.2 C393.2,373.5 394.5,374.9 394.2,375.4 C393.9,375.8 391.6,375.6 391.1,375.7" stroke="#5a5a5a" stroke-width="0.9" fill="none" />
<path d="M378.5,354.2 C379.4,355.6 382.4,360.3 384.0,362.8 C385.6,365.3 387.3,368.0 387.9,369.1" stroke="#444" stroke-width="1.5" fill="none" />
<path d="M330.6,317.6 C331.5,316.8 333.4,314.0 336.1,312.9 C338.9,311.8 342.7,311.1 347.1,311.0 C351.6,310.8 360.2,311.8 362.8,311.9" stroke="#5a5a5a" stroke-width="1.1" fill="none" />
<path d="M330.6,317.6 C331.1,318.4 332.3,321.8 333.8,322.3 C335.2,322.8 338.2,321.8 339.3,320.7 C340.3,319.7 340.0,316.8 340.2,316.0" stroke="#5a5a5a" stroke-width="1.1" fill="none" />
<path d="M333.0,323.6 C334.3,322.8 337.9,320.0 340.8,318.8 C343.7,317.7 346.6,316.9 350.2,316.5 C353.9,316.1 360.7,316.4 362.8,316.3" stroke="#5a5a5a" stroke-width="0.9" fill="none" />
<path d="M339.3,317.6 C339.3,319.9 338.3,327.8 339.6,331.4 C340.9,335.0 344.3,336.6 347.1,339.3 C349.9,341.9 354.4,345.0 356.5,347.1 C358.6,349.2 359.1,351.0 359.7,351.8" stroke="#5a5a5a" stroke-width="1.1" fill="none" />
<path d="M342.7,319.2 C342.8,321.1 342.1,327.5 343.3,330.6 C344.5,333.8 347.4,335.6 349.9,338.0 C352.4,340.4 357.0,344.0 358.4,345.2" stroke="#5a5a5a" stroke-width="1.1" fill="none" />
<path d="M375.4,315.7 C376.9,315.6 381.6,314.4 384.8,314.9 C387.9,315.4 392.6,318.2 394.2,318.8" stroke="#5a5a5a" stroke-width="1.1" fill="none" />
<path d="M381.6,320.4 C382.7,321.7 385.8,325.6 387.9,328.3 C390.0,330.9 393.2,334.8 394.2,336.1" stroke="#5a5a5a" stroke-width="0.9" fill="none" />
<path d="M396.1,337.7 C395.8,340.0 394.3,346.3 394.2,351.8 C394.2,357.3 395.1,363.6 395.8,370.7 C396.4,377.7 397.4,386.1 398.1,394.2 C398.9,402.3 400.1,415.1 400.5,419.3" stroke="#5a5a5a" stroke-width="1.1" fill="none" />
<path d="M399.9,336.4 C399.8,339.0 399.1,346.1 399.2,351.8 C399.4,357.5 400.1,363.6 400.8,370.7 C401.5,377.7 402.4,386.6 403.6,394.2 C404.9,401.8 406.8,411.0 408.3,416.2 C409.9,421.4 412.3,424.0 413.1,425.6" stroke="#5a5a5a" stroke-width="1.1" fill="none" />
<path d="M396.1,337.7 C396.6,337.0 397.7,333.9 398.9,333.3 C400.2,332.6 402.6,333.0 403.6,333.8 C404.6,334.5 404.7,337.0 404.9,337.7" stroke="#5a5a5a" stroke-width="0.9" fill="none" />
<path d="M400.5,419.3 C401.0,420.1 402.1,423.3 403.6,424.0 C405.2,424.8 408.3,423.8 409.9,424.0 C411.5,424.3 412.5,425.4 413.1,425.6" stroke="#5a5a5a" stroke-width="0.9" fill="none" />
<path d="M404.9,337.7 C405.7,339.8 408.6,345.5 409.9,350.2 C411.3,355.0 412.0,360.7 413.1,365.9 C414.1,371.2 415.7,379.0 416.2,381.6" stroke="#5a5a5a" stroke-width="0.9" fill="none" />
<path d="M413.1,425.6 C412.8,426.3 411.5,428.5 411.8,429.5 C412.1,430.6 413.4,431.9 414.6,431.9 C415.9,431.9 418.3,430.5 419.3,429.5 C420.4,428.6 420.6,426.9 420.9,426.4" stroke="#5a5a5a" stroke-width="1.1" fill="none" />
<path d="M420.9,426.4 C421.7,426.3 424.1,425.4 425.6,425.6 C427.1,425.9 429.3,427.6 430.0,428.0" stroke="#5a5a5a" stroke-width="0.9" fill="none" />
<path d="M468.3,320.0 C469.1,320.9 470.8,323.6 473.0,325.3 C475.2,327.0 476.3,328.3 481.2,330.0 C486.1,331.7 495.4,334.2 502.4,335.3 C509.5,336.4 520.1,336.5 523.6,336.7" stroke="#5a5a5a" stroke-width="1.1" fill="none" />
<path d="M441.2,320.0 C442.8,321.9 447.7,328.2 450.6,331.2 C453.6,334.1 456.1,335.8 458.9,337.7 C461.6,339.5 464.4,341.7 467.1,342.4 C469.9,343.1 472.8,342.6 475.3,341.8 C477.9,341.0 481.2,338.4 482.4,337.7" stroke="#5a5a5a" stroke-width="1.1" fill="none" />
<path d="M447.1,320.0 C448.5,321.6 453.2,326.9 455.3,329.4 C457.5,332.0 459.3,334.3 460.0,335.3" stroke="#5a5a5a" stroke-width="0.8" fill="none" />
<path d="M482.4,329.4 C482.5,330.2 483.0,332.8 483.0,334.1 C483.0,335.5 482.5,337.1 482.4,337.7" stroke="#5a5a5a" stroke-width="0.8" fill="none" />
<path d="M482.4,337.7 C483.8,338.0 487.3,338.4 490.7,339.4 C494.0,340.4 498.5,342.6 502.4,343.6 C506.4,344.5 510.7,345.1 514.2,345.3 C517.7,345.5 522.1,344.8 523.6,344.7" stroke="#5a5a5a" stroke-width="1.1" fill="none" />
<path d="M434.1,344.7 C435.7,345.3 440.0,347.5 443.6,348.3 C447.1,349.0 451.4,349.4 455.3,349.4 C459.3,349.4 463.8,348.7 467.1,348.3 C470.4,347.9 474.0,347.3 475.3,347.1" stroke="#5a5a5a" stroke-width="0.9" fill="none" />
<path d="M420.0,358.9 C421.6,358.7 425.9,357.7 429.4,357.7 C433.0,357.7 439.2,358.7 441.2,358.9" stroke="#5a5a5a" stroke-width="0.8" fill="none" />
<path d="M430.0,331.2 L437.7,327.1 L443.0,337.7 L434.7,341.2Z" stroke="#555" stroke-width="1.0" fill="#e2e2e2" />
<path d="M434.1,341.2 C434.5,341.8 435.1,344.3 436.5,344.7 C437.9,345.1 441.4,343.7 442.4,343.6" stroke="#555" stroke-width="1.5" fill="none" />
<path d="M431.8,327.1 C432.2,326.7 433.3,324.8 434.1,324.7 C434.9,324.6 436.1,326.2 436.5,326.5" stroke="#5a5a5a" stroke-width="0.8" fill="none" />
<path d="M442.1,350.9 L455.3,350.0 L455.9,357.4 L443.0,358.3Z" stroke="#666" stroke-width="0.8" fill="#b5b5b5" />
<path d="M455.3,350.9 L464.7,351.8 L465.3,355.3 L455.9,356.5Z" stroke="#777" stroke-width="0.7" fill="#d8d8d8" />
<path d="M455.3,367.1 C456.1,364.6 458.1,364.0 460.0,363.6 C462.0,363.2 465.1,363.4 467.1,364.7 C469.1,366.1 470.9,369.1 471.8,371.8 C472.7,374.6 473.2,378.9 472.4,381.2 C471.6,383.6 469.4,385.2 467.1,385.9 C464.8,386.7 460.8,387.1 458.9,385.9 C456.9,384.8 455.9,382.0 455.3,378.9 C454.7,375.7 454.5,369.7 455.3,367.1Z" stroke="#666" stroke-width="1.0" fill="#ebebeb" />
<path d="M458.9,367.1 C459.3,366.9 460.6,365.5 461.2,365.9 C461.8,366.3 462.5,368.5 462.4,369.5 C462.3,370.4 460.9,371.4 460.6,371.8" stroke="#777" stroke-width="1.2" fill="none" />
<path d="M457.7,383.6 C458.9,384.3 462.4,387.7 464.7,387.7 C467.1,387.7 470.6,384.3 471.8,383.6" stroke="#666" stroke-width="1.0" fill="none" />
<path d="M476.5,376.5 L485.9,359.5 L504.8,355.3 L512.1,362.6 L507.4,376.8 L502.4,381.5 L487.4,386.2Z" stroke="#444" stroke-width="1.0" fill="#7d7d7d" />
<path d="M485.9,359.5 L504.8,355.3 L512.1,362.6 L495.4,367.1Z" stroke="#555" stroke-width="0.7" fill="#8e8e8e" />
<path d="M495.4,367.1 L487.4,386.2" stroke="#4a4a4a" stroke-width="0.8" fill="none" />
<path d="M507.1,364.7 L502.4,381.2" stroke="#aaa" stroke-width="1.2" fill="none" />
<path d="M485.9,360.0 L485.4,381.2" stroke="#999" stroke-width="0.8" fill="none" />
<path d="M476.5,349.4 C477.3,348.2 479.7,347.5 481.2,347.7 C482.8,347.9 484.4,350.3 485.9,350.6 C487.5,350.9 489.1,349.0 490.7,349.4 C492.2,349.8 495.0,351.6 495.4,353.0 C495.8,354.3 494.6,356.7 493.0,357.7 C491.4,358.7 488.3,358.7 485.9,358.9 C483.6,359.1 480.5,359.5 478.9,358.9 C477.3,358.3 476.9,356.9 476.5,355.3 C476.1,353.8 475.7,350.7 476.5,349.4Z" stroke="#555" stroke-width="0.8" fill="#9c9c9c" />
<path d="M484.9,354.9 C485.4,354.8 487.4,354.5 487.9,354.6 C488.4,354.7 488.4,355.1 488.0,355.2 C487.6,355.3 486.1,355.3 485.8,355.3" stroke="#555" stroke-width="0.8" fill="none" />
<path d="M488.7,357.6 C488.2,357.4 486.8,356.1 485.8,356.2 C484.9,356.3 483.2,358.6 482.9,358.4 C482.7,358.2 484.1,355.7 484.3,355.2" stroke="#555" stroke-width="0.8" fill="none" />
<path d="M496.2,359.6 C496.2,359.7 496.9,360.5 496.5,360.0 C496.2,359.5 494.5,357.7 494.1,356.6 C493.8,355.5 494.3,354.0 494.3,353.5" stroke="#555" stroke-width="0.8" fill="none" />
<path d="M479.4,351.1 C478.8,351.1 476.7,350.5 476.1,350.9 C475.4,351.2 475.7,352.7 475.6,353.3 C475.6,353.8 475.8,354.1 475.8,354.3" stroke="#555" stroke-width="0.8" fill="none" />
<path d="M485.9,356.1 C485.9,355.8 485.1,354.2 485.6,354.5 C486.2,354.8 488.2,357.2 489.2,358.0 C490.1,358.8 491.2,359.2 491.6,359.5" stroke="#555" stroke-width="0.8" fill="none" />
<path d="M482.0,351.0 C481.8,350.5 480.5,348.7 480.5,348.3 C480.6,347.8 481.7,348.3 482.4,348.3 C483.1,348.3 484.5,348.3 484.9,348.3" stroke="#555" stroke-width="0.8" fill="none" />
<path d="M495.7,358.2 C495.1,357.9 492.2,356.6 492.1,356.2 C492.0,355.8 494.3,356.1 495.0,356.0 C495.8,355.8 496.3,355.4 496.5,355.3" stroke="#555" stroke-width="0.8" fill="none" />
<path d="M526.0,365.3 L540.0,361.2 L540.0,378.9 L529.5,381.8Z" stroke="#444" stroke-width="0.8" fill="#858585" />
<path d="M511.9,367.1 L523.6,365.9 L524.2,377.7 L513.0,378.9Z" stroke="#555" stroke-width="0.8" fill="#9a9a9a" />
<path d="M509.5,378.9 C510.3,379.3 511.5,380.7 514.2,381.2 C517.0,381.7 522.1,381.8 526.0,381.8 C529.9,381.8 535.8,381.3 537.8,381.2" stroke="#5a5a5a" stroke-width="0.9" fill="none" />
<path d="M510.7,371.8 C510.5,372.6 509.5,375.0 509.5,376.5 C509.5,378.1 510.5,380.5 510.7,381.2" stroke="#5a5a5a" stroke-width="0.9" fill="none" />
<path d="M522.7,323.5 L536.6,321.8 L537.8,351.8 L524.8,353.6Z" stroke="#666" stroke-width="0.8" fill="#b9b9b9" />
<path d="M526.6,324.7 L527.8,351.8" stroke="#e8e8e8" stroke-width="1.5" fill="none" />
<path d="M533.1,323.5 L534.0,350.6" stroke="#8a8a8a" stroke-width="1.2" fill="none" />
<path d="M521.3,323.5 C522.1,323.1 524.0,321.7 526.0,321.2 C527.9,320.7 530.7,320.4 533.1,320.6 C535.4,320.8 538.8,322.1 540.0,322.4" stroke="#5a5a5a" stroke-width="0.9" fill="none" />
<path d="M523.7,329.8 C524.0,329.5 525.8,328.6 525.6,328.1 C525.5,327.7 522.6,326.9 522.7,327.0 C522.8,327.1 525.4,328.5 526.0,328.8" stroke="#555" stroke-width="0.8" fill="none" />
<path d="M524.4,325.3 C524.1,324.8 522.4,322.8 522.5,322.4 C522.5,321.9 524.1,322.4 524.6,322.4 C525.0,322.4 524.9,322.4 525.0,322.4" stroke="#555" stroke-width="0.8" fill="none" />
<path d="M525.6,331.0 C525.2,331.1 523.5,331.9 523.0,332.0 C522.5,332.1 522.5,331.8 522.5,331.4 C522.4,331.1 522.5,330.1 522.5,329.8" stroke="#555" stroke-width="0.8" fill="none" />
<path d="M538.5,331.8 C538.2,332.2 537.6,333.9 537.1,334.1 C536.5,334.4 535.0,333.4 535.0,333.4 C535.1,333.4 537.1,334.0 537.5,334.1" stroke="#555" stroke-width="0.8" fill="none" />
<path d="M506.6,339.4 C507.2,339.9 509.4,340.9 510.7,342.4 C512.0,343.8 514.2,346.9 514.2,348.3 C514.2,349.6 511.7,351.0 510.7,350.6 C509.7,350.2 509.0,347.8 508.3,345.9 C507.6,344.0 506.8,340.5 506.6,339.4" stroke="#5a5a5a" stroke-width="0.8" fill="#bbb" />
<circle cx="524.8" cy="391.2" r="4.95" stroke="#5a5a5a" stroke-width="1.1" fill="none"/>
<circle cx="524.8" cy="391.2" r="2.94" stroke="#5a5a5a" stroke-width="1.1" fill="none"/>
<path d="M511.9,390.7 C512.4,390.1 514.1,387.4 515.4,387.1 C516.7,386.8 519.1,388.6 519.9,388.9" stroke="#5a5a5a" stroke-width="0.9" fill="none" />
<path d="M529.8,390.7 C530.3,390.3 531.7,388.9 533.1,388.3 C534.4,387.7 537.0,387.3 537.8,387.1" stroke="#5a5a5a" stroke-width="0.9" fill="none" />
<path d="M490.7,391.8 C492.6,391.6 498.9,390.9 502.4,390.7 C506.0,390.5 510.3,390.7 511.9,390.7" stroke="#5a5a5a" stroke-width="0.9" fill="none" />
<path d="M469.5,395.4 C470.0,394.3 471.4,393.4 472.4,393.6 C473.4,393.8 475.0,395.1 475.3,396.5 C475.7,398.0 475.4,401.4 474.8,402.4 C474.1,403.5 472.1,403.4 471.2,403.0 C470.3,402.6 469.5,401.4 469.2,400.1 C468.9,398.8 468.9,396.4 469.5,395.4Z" stroke="#555" stroke-width="0.8" fill="#888" />
<path d="M480.1,397.1 L485.9,395.4 L487.1,409.5 L481.2,410.7Z" stroke="#555" stroke-width="0.8" fill="#aaa" />
<path d="M521.5,402.4 L524.2,402.4 L524.6,413.0 L521.3,413.0Z" stroke="#5a5a5a" stroke-width="0.8" fill="#bbb" />
<path d="M520.7,413.0 L525.0,413.0 L524.2,422.5 L522.5,425.4 L521.3,422.5Z" stroke="#5a5a5a" stroke-width="0.8" fill="#999" />
<path d="M516.6,417.7 C517.4,418.0 518.9,419.1 521.3,419.5 C523.6,419.9 529.1,420.0 530.7,420.1" stroke="#5a5a5a" stroke-width="0.9" fill="none" />
<path d="M517.7,421.3 C518.5,421.5 520.5,422.3 522.5,422.5 C524.4,422.6 528.3,422.3 529.5,422.2" stroke="#5a5a5a" stroke-width="0.9" fill="none" />
<path d="M496.5,418.9 C497.3,417.9 499.9,414.6 501.3,413.0 C502.6,411.5 502.6,410.3 504.8,409.7 C506.9,409.1 510.7,409.4 514.2,409.5 C517.7,409.6 521.7,409.8 526.0,410.1 C530.3,410.4 537.7,411.1 540.0,411.3" stroke="#5a5a5a" stroke-width="1.1" fill="none" />
<path d="M496.5,418.9 C497.5,419.5 500.3,421.3 502.4,422.5 C504.6,423.6 505.6,424.4 509.5,426.0 C513.4,427.6 520.9,430.1 526.0,431.9 C531.1,433.6 537.7,435.8 540.0,436.6" stroke="#5a5a5a" stroke-width="1.1" fill="none" />
<circle cx="509.7" cy="422.7" r="2.12" stroke="#5a5a5a" stroke-width="0.9" fill="none"/>
<path d="M501.3,414.2 L506.0,416.0" stroke="#5a5a5a" stroke-width="0.8" fill="none" />
<path d="M499.5,416.6 L504.2,418.3" stroke="#5a5a5a" stroke-width="0.8" fill="none" />
<path d="M503.0,412.1 L507.7,413.9" stroke="#5a5a5a" stroke-width="0.8" fill="none" />
<path d="M530.7,407.1 C531.5,406.0 533.9,402.0 535.4,400.1 C537.0,398.1 539.2,396.2 540.0,395.4" stroke="#5a5a5a" stroke-width="0.9" fill="none" />
<path d="M526.0,407.1 C526.7,406.2 528.9,403.2 530.1,401.3 C531.3,399.3 532.6,396.3 533.1,395.4" stroke="#5a5a5a" stroke-width="0.9" fill="none" />
<circle cx="448.3" cy="413.0" r="13.19" stroke="#555" stroke-width="1.0" fill="#a9a9a9"/>
<circle cx="448.3" cy="413.0" r="8.24" stroke="#444" stroke-width="1.0" fill="#8a8a8a"/>
<circle cx="448.3" cy="413.0" r="3.53" stroke="#444" stroke-width="1.0" fill="#c0c0c0"/>
<path d="M457.1,413.0 L461.5,413.0" stroke="#555" stroke-width="0.9" fill="none" />
<path d="M456.8,415.3 L461.0,416.4" stroke="#555" stroke-width="0.9" fill="none" />
<path d="M455.9,417.4 L459.7,419.6" stroke="#555" stroke-width="0.9" fill="none" />
<path d="M454.5,419.3 L457.6,422.4" stroke="#555" stroke-width="0.9" fill="none" />
<path d="M452.7,420.7 L454.9,424.5" stroke="#555" stroke-width="0.9" fill="none" />
<path d="M450.5,421.6 L451.7,425.8" stroke="#555" stroke-width="0.9" fill="none" />
<path d="M448.3,421.9 L448.3,426.2" stroke="#555" stroke-width="0.9" fill="none" />
<path d="M446.0,421.6 L444.8,425.8" stroke="#555" stroke-width="0.9" fill="none" />
<path d="M443.8,420.7 L441.7,424.5" stroke="#555" stroke-width="0.9" fill="none" />
<path d="M442.0,419.3 L438.9,422.4" stroke="#555" stroke-width="0.9" fill="none" />
<path d="M440.6,417.4 L436.8,419.6" stroke="#555" stroke-width="0.9" fill="none" />
<path d="M439.7,415.3 L435.5,416.4" stroke="#555" stroke-width="0.9" fill="none" />
<path d="M439.4,413.0 L435.1,413.0" stroke="#555" stroke-width="0.9" fill="none" />
<path d="M439.7,410.7 L435.5,409.6" stroke="#555" stroke-width="0.9" fill="none" />
<path d="M440.6,408.6 L436.8,406.4" stroke="#555" stroke-width="0.9" fill="none" />
<path d="M442.0,406.8 L438.9,403.7" stroke="#555" stroke-width="0.9" fill="none" />
<path d="M443.8,405.4 L441.7,401.6" stroke="#555" stroke-width="0.9" fill="none" />
<path d="M446.0,404.5 L444.8,400.3" stroke="#555" stroke-width="0.9" fill="none" />
<path d="M448.3,404.2 L448.3,399.8" stroke="#555" stroke-width="0.9" fill="none" />
<path d="M450.5,404.5 L451.7,400.3" stroke="#555" stroke-width="0.9" fill="none" />
<path d="M452.7,405.4 L454.9,401.6" stroke="#555" stroke-width="0.9" fill="none" />
<path d="M454.5,406.8 L457.6,403.7" stroke="#555" stroke-width="0.9" fill="none" />
<path d="M455.9,408.6 L459.7,406.4" stroke="#555" stroke-width="0.9" fill="none" />
<path d="M456.8,410.7 L461.0,409.6" stroke="#555" stroke-width="0.9" fill="none" />
<path d="M438.8,424.6 C438.5,424.2 436.5,423.1 436.5,422.6 C436.5,422.0 438.6,422.0 438.7,421.2 C438.8,420.3 437.3,418.2 437.1,417.6" stroke="#4a4a4a" stroke-width="0.8" fill="none" />
<path d="M438.6,415.0 C438.3,415.1 436.8,415.7 436.5,415.8 C436.1,415.9 435.9,415.5 436.5,415.4 C437.1,415.3 439.6,415.3 440.3,415.3" stroke="#4a4a4a" stroke-width="0.8" fill="none" />
<path d="M450.0,421.7 C449.6,421.2 447.3,418.9 447.4,418.8 C447.5,418.8 450.6,421.4 450.8,421.4 C451.0,421.4 449.1,419.3 448.7,418.9" stroke="#4a4a4a" stroke-width="0.8" fill="none" />
<path d="M453.9,423.4 C453.5,423.6 451.3,424.6 451.4,424.8 C451.5,425.0 454.1,425.4 454.6,424.8 C455.0,424.3 454.0,422.1 453.9,421.5" stroke="#4a4a4a" stroke-width="0.8" fill="none" />
<path d="M437.4,423.9 C437.2,424.1 436.6,424.7 436.5,424.8 C436.3,425.0 436.4,425.1 436.5,424.8 C436.6,424.5 437.1,423.4 437.3,423.1" stroke="#4a4a4a" stroke-width="0.8" fill="none" />
<path d="M440.6,418.2 C440.0,417.8 437.6,415.9 437.1,416.0 C436.6,416.1 437.3,418.7 437.6,418.9 C437.8,419.1 438.3,417.4 438.5,417.1" stroke="#4a4a4a" stroke-width="0.8" fill="none" />
<path d="M458.1,406.1 C457.4,405.7 454.8,405.0 454.1,404.2 C453.4,403.4 454.2,401.7 453.7,401.3 C453.1,400.8 451.4,401.3 451.0,401.3" stroke="#4a4a4a" stroke-width="0.8" fill="none" />
<path d="M450.0,404.4 C449.8,404.9 448.4,406.8 448.8,407.6 C449.3,408.3 451.9,408.5 452.8,408.9 C453.7,409.2 454.1,409.5 454.4,409.6" stroke="#4a4a4a" stroke-width="0.8" fill="none" />
<path d="M439.8,402.1 C439.2,402.6 436.8,404.3 436.5,405.5 C436.2,406.7 438.1,408.5 438.1,409.3 C438.1,410.1 436.8,410.2 436.5,410.4" stroke="#4a4a4a" stroke-width="0.8" fill="none" />
<path d="M447.8,418.5 C447.6,419.1 447.2,421.8 446.4,422.6 C445.5,423.3 443.1,422.6 442.9,423.0 C442.6,423.3 444.5,424.5 444.8,424.8" stroke="#4a4a4a" stroke-width="0.8" fill="none" />
<path d="M453.8,417.8 C454.2,418.4 456.1,420.4 456.3,421.3 C456.5,422.1 454.7,422.2 455.0,422.8 C455.4,423.4 457.8,424.5 458.3,424.8" stroke="#4a4a4a" stroke-width="0.8" fill="none" />
<path d="M446.3,419.9 C446.8,420.0 448.6,420.5 449.3,420.5 C450.0,420.4 450.1,419.5 450.3,419.5 C450.6,419.5 450.9,420.3 451.0,420.4" stroke="#4a4a4a" stroke-width="0.8" fill="none" />
<path d="M438.4,416.3 C439.1,416.8 441.5,419.1 442.4,419.4 C443.4,419.8 443.7,418.6 444.3,418.5 C445.0,418.5 445.9,419.1 446.3,419.2" stroke="#4a4a4a" stroke-width="0.8" fill="none" />
<path d="M446.9,421.0 C446.3,421.3 444.6,422.6 443.4,423.1 C442.2,423.5 440.2,424.1 439.6,423.9 C438.9,423.7 439.4,422.0 439.4,421.7" stroke="#4a4a4a" stroke-width="0.8" fill="none" />
<path d="M420.0,381.2 C420.8,382.0 423.5,383.6 424.7,385.9 C425.9,388.3 426.9,391.8 427.1,395.4 C427.3,398.9 426.7,403.6 425.9,407.1 C425.1,410.7 423.3,414.2 422.4,416.6 C421.4,418.9 420.4,420.5 420.0,421.3" stroke="#5a5a5a" stroke-width="1.1" fill="none" />
<path d="M427.1,385.9 C428.0,385.6 430.6,383.9 433.0,383.6 C435.3,383.3 439.8,384.1 441.2,384.2" stroke="#5a5a5a" stroke-width="0.9" fill="none" />
<path d="M420.0,367.1 C420.6,366.7 422.2,364.7 423.5,364.7 C424.9,364.7 427.7,365.9 428.2,367.1 C428.8,368.3 428.0,370.8 427.1,371.8 C426.1,372.8 423.1,372.8 422.4,373.0" stroke="#5a5a5a" stroke-width="0.9" fill="none" />
<path d="M431.8,358.9 C432.6,358.7 434.5,357.5 436.5,357.7 C438.4,357.9 441.8,358.5 443.6,360.0 C445.3,361.6 447.1,364.7 447.1,367.1 C447.1,369.5 445.3,372.8 443.6,374.2 C441.8,375.5 437.7,375.2 436.5,375.3" stroke="#5a5a5a" stroke-width="0.9" fill="none" />
<path d="M435.3,364.7 C435.9,364.6 437.7,363.4 438.8,363.6 C440.0,363.8 442.0,364.9 442.4,365.9 C442.8,366.9 442.0,368.8 441.2,369.5 C440.4,370.1 438.6,370.8 437.7,370.0 C436.7,369.3 435.7,365.6 435.3,364.7" stroke="#5a5a5a" stroke-width="0.8" fill="none" />
<path d="M448.3,360.0 C448.9,361.2 451.4,364.6 451.8,367.1 C452.2,369.7 451.6,373.0 450.6,375.3 C449.6,377.7 447.9,379.9 445.9,381.2 C443.9,382.6 441.2,382.8 438.8,383.6 C436.5,384.4 433.0,385.6 431.8,385.9" stroke="#5a5a5a" stroke-width="0.9" fill="none" />
<path d="M451.8,361.2 C452.4,362.4 455.0,365.7 455.3,368.3 C455.6,370.8 454.6,374.2 453.6,376.5 C452.5,378.9 449.6,381.4 448.9,382.4" stroke="#5a5a5a" stroke-width="0.9" fill="none" />
<path d="M444.7,370.6 C444.9,371.3 446.1,375.1 445.9,375.0 C445.7,374.9 444.1,370.4 443.3,369.8 C442.5,369.3 441.5,371.4 441.2,371.7" stroke="#666" stroke-width="0.8" fill="none" />
<path d="M427.2,360.5 C427.9,360.8 430.8,361.2 431.5,362.2 C432.1,363.2 431.2,365.4 430.8,366.4 C430.4,367.4 429.3,367.8 429.0,368.1" stroke="#666" stroke-width="0.8" fill="none" />
<path d="M427.0,368.5 C427.6,369.3 429.0,372.4 430.3,372.9 C431.5,373.4 433.5,372.2 434.3,371.7 C435.1,371.2 435.0,370.1 435.2,369.7" stroke="#666" stroke-width="0.8" fill="none" />
<path d="M424.8,370.5 C425.4,371.1 427.4,372.8 428.4,374.2 C429.4,375.6 430.6,378.8 430.6,379.0 C430.6,379.2 428.7,376.1 428.3,375.5" stroke="#666" stroke-width="0.8" fill="none" />
<path d="M435.9,363.8 C435.4,363.6 433.2,363.0 432.9,362.8 C432.6,362.7 434.3,362.2 434.2,362.8 C434.1,363.4 432.6,365.8 432.3,366.4" stroke="#666" stroke-width="0.8" fill="none" />
<path d="M454.7,369.2 C453.9,368.4 450.3,365.9 450.2,364.2 C450.1,362.6 453.3,360.0 454.1,359.4 C455.0,358.7 455.1,360.0 455.3,360.1" stroke="#666" stroke-width="0.8" fill="none" />
<path d="M430.9,379.6 C430.1,378.9 426.8,377.2 425.8,375.7 C424.9,374.2 424.8,372.0 425.3,370.7 C425.8,369.4 428.3,368.3 428.8,367.9" stroke="#666" stroke-width="0.8" fill="none" />
<path d="M425.0,356.8 C425.2,356.7 425.9,356.0 426.3,356.2 C426.8,356.4 427.0,356.8 427.7,357.8 C428.5,358.9 430.4,361.9 431.0,362.7" stroke="#666" stroke-width="0.8" fill="none" />
<path d="M444.2,361.4 C444.1,360.9 444.8,358.6 443.9,358.0 C443.0,357.4 439.2,358.2 438.7,357.7 C438.2,357.3 440.6,355.7 441.0,355.3" stroke="#666" stroke-width="0.8" fill="none" />
<path d="M429.6,365.9 C430.0,366.0 431.2,365.6 431.7,366.1 C432.3,366.6 432.9,367.9 432.9,368.8 C432.9,369.8 432.0,371.4 431.8,371.9" stroke="#666" stroke-width="0.8" fill="none" />
<path d="M460.0,390.7 C460.8,390.4 463.2,388.9 464.7,388.9 C466.3,388.9 469.1,389.8 469.5,390.7 C469.9,391.5 468.3,393.4 467.1,394.2 C465.9,395.0 463.2,395.2 462.4,395.4" stroke="#5a5a5a" stroke-width="0.9" fill="none" />
<path d="M462.4,409.5 C463.6,409.7 467.3,409.9 469.5,410.7 C471.6,411.5 474.2,412.4 475.3,414.2 C476.5,416.0 476.5,418.9 476.5,421.3 C476.5,423.6 475.5,427.2 475.3,428.3" stroke="#5a5a5a" stroke-width="0.9" fill="none" />
<path d="M460.0,426.0 C460.8,425.6 463.0,423.8 464.7,423.6 C466.5,423.4 469.1,423.8 470.6,424.8 C472.2,425.8 473.6,428.7 474.2,429.5" stroke="#5a5a5a" stroke-width="0.9" fill="none" />
<path d="M470.6,420.1 C471.4,419.9 474.4,418.5 475.3,418.9 C476.3,419.3 477.0,421.6 476.5,422.5 C476.0,423.3 473.1,423.9 472.4,424.2" stroke="#5a5a5a" stroke-width="0.9" fill="none" />
<path d="M488.3,410.7 C489.1,411.9 492.0,415.2 493.0,417.7 C494.0,420.3 494.4,423.4 494.2,426.0 C494.0,428.5 492.4,430.7 491.8,433.1 C491.2,435.4 490.9,438.8 490.7,440.0" stroke="#5a5a5a" stroke-width="1.1" fill="none" />
<path d="M475.3,428.3 C475.9,427.6 477.5,424.2 478.9,423.6 C480.3,423.0 482.4,423.6 483.6,424.8 C484.8,426.0 485.9,428.5 485.9,430.7 C485.9,432.9 484.0,436.6 483.6,437.8" stroke="#5a5a5a" stroke-width="0.9" fill="none" />
<path d="M420.0,426.0 C421.6,426.4 426.3,427.7 429.4,428.3 C432.6,429.0 435.3,429.7 438.8,430.1 C442.4,430.5 447.3,430.2 450.6,430.7 C454.0,431.2 457.5,432.7 458.9,433.1" stroke="#5a5a5a" stroke-width="0.9" fill="none" />
<path d="M431.8,433.1 C433.0,432.8 436.3,431.4 438.8,431.3 C441.4,431.2 445.1,431.6 447.1,432.5 C449.0,433.3 450.4,435.3 450.6,436.6 C450.8,437.8 448.7,439.4 448.3,440.0" stroke="#5a5a5a" stroke-width="0.9" fill="none" />
<path d="M420.0,433.1 C420.8,433.4 423.1,434.2 424.7,435.4 C426.3,436.6 428.6,439.2 429.4,440.0" stroke="#5a5a5a" stroke-width="0.9" fill="none" />
<path d="M458.9,433.1 C459.5,433.8 460.6,436.6 462.4,437.8 C464.2,438.9 468.3,439.6 469.5,440.0" stroke="#5a5a5a" stroke-width="0.9" fill="none" />
<path d="M464.7,436.0 L470.6,434.8 L471.8,440.0 L465.3,440.0Z" stroke="#555" stroke-width="0.7" fill="#999" />
<path d="M427.1,415.4 C427.7,414.8 429.6,412.1 430.6,411.9 C431.6,411.7 433.2,413.0 433.0,414.2 C432.8,415.4 430.4,418.7 429.4,418.9 C428.4,419.1 427.5,416.0 427.1,415.4" stroke="#5a5a5a" stroke-width="0.8" fill="#999" />
<path d="M434.1,410.5 C434.3,410.8 435.5,411.9 435.3,412.1 C435.1,412.3 433.0,411.3 432.7,411.8 C432.4,412.2 433.4,414.2 433.6,414.7" stroke="#555" stroke-width="0.8" fill="none" />
<path d="M427.2,416.2 C427.7,416.5 428.9,418.0 429.9,418.3 C430.9,418.6 432.4,418.4 433.1,418.0 C433.8,417.6 433.9,416.3 434.1,416.0" stroke="#555" stroke-width="0.8" fill="none" />
<path d="M431.7,419.1 C431.9,419.4 432.9,420.3 432.7,420.7 C432.5,421.0 430.5,421.2 430.7,421.3 C430.9,421.4 433.5,421.3 434.1,421.3" stroke="#555" stroke-width="0.8" fill="none" />
<path d="M429.3,418.8 C429.1,419.2 427.8,421.0 428.0,421.3 C428.2,421.5 430.6,420.5 430.6,420.2 C430.5,420.0 428.1,419.9 427.6,419.8" stroke="#555" stroke-width="0.8" fill="none" />
<path d="M463.7,321.8 C464.0,319.5 464.2,311.2 465.3,307.7 C466.3,304.2 468.6,303.0 470.0,300.6 C471.4,298.2 472.2,295.3 473.9,293.2 C475.6,291.2 475.6,289.1 480.2,288.5 C484.8,287.9 492.6,289.1 501.4,289.6 C510.2,290.2 522.3,291.3 532.8,292.0 C543.3,292.6 558.1,292.9 564.2,293.6 C570.4,294.2 568.4,295.0 569.7,295.9 C571.0,296.8 571.7,298.5 572.1,299.0" stroke="#5a5a5a" stroke-width="1.1" fill="none" />
<path d="M481.0,292.8 C482.3,293.9 484.1,297.5 488.8,299.8 C493.6,302.2 503.2,305.7 509.3,307.1 C515.3,308.4 520.2,308.6 525.0,307.7 C529.7,306.8 533.6,303.8 537.5,301.7 C541.4,299.6 545.1,296.5 548.5,295.1 C551.9,293.8 556.4,293.8 557.9,293.6" stroke="#5a5a5a" stroke-width="0.85" fill="none" />
<path d="M463.7,321.8 C464.8,322.2 466.9,322.8 470.0,324.2 C473.1,325.5 477.3,328.0 482.6,330.0 C487.8,331.9 494.9,334.6 501.4,335.9 C507.9,337.3 518.4,337.5 521.8,337.8" stroke="#5a5a5a" stroke-width="1.1" fill="none" />
<path d="M482.6,330.0 C482.7,331.2 482.6,336.0 483.3,337.5 C484.1,339.0 486.6,338.8 487.3,339.1" stroke="#5a5a5a" stroke-width="0.8" fill="none" />
<path d="M470.0,345.4 C471.6,344.6 476.5,341.7 479.4,340.7 C482.3,339.6 483.6,339.2 487.3,339.1 C490.9,339.0 495.9,339.9 501.4,339.9 C506.9,339.9 517.1,339.2 520.2,339.1" stroke="#5a5a5a" stroke-width="0.85" fill="none" />
<path d="M543.8,330.0 C544.3,327.8 545.3,320.8 546.6,317.1 C548.0,313.4 549.0,310.3 552.0,307.7 C554.9,305.1 559.8,303.0 564.2,301.4 C568.6,299.8 575.1,297.9 578.3,297.9 C581.5,297.9 582.2,299.5 583.4,301.4 C584.6,303.3 585.2,307.9 585.6,309.3" stroke="#5a5a5a" stroke-width="1.1" fill="none" />
<path d="M585.6,309.3 C584.6,310.4 583.5,313.7 579.9,315.8 C576.4,318.0 569.4,320.0 564.2,322.1 C559.0,324.2 551.9,327.1 548.5,328.4 C545.1,329.7 544.6,329.7 543.8,330.0" stroke="#5a5a5a" stroke-width="0.9" fill="none" />
<path d="M553.2,322.1 C553.6,320.6 553.7,315.2 555.6,312.7 C557.4,310.2 560.7,308.7 564.2,307.1 C567.7,305.4 574.2,302.9 576.8,303.0 C579.3,303.1 579.2,306.1 579.4,307.7 C579.7,309.3 580.9,310.8 578.3,312.4 C575.8,314.0 568.4,315.8 564.2,317.4 C560.0,319.0 555.1,321.3 553.2,322.1 C551.4,322.9 552.8,323.7 553.2,322.1Z" stroke="#5a5a5a" stroke-width="1.1" fill="none" />
<path d="M555.6,320.6 C556.0,319.5 556.4,315.8 557.9,314.0 C559.5,312.1 562.1,310.9 565.0,309.6 C567.9,308.3 573.6,306.2 575.5,306.1 C577.5,306.1 576.7,308.4 576.8,309.3 C576.9,310.1 578.2,310.5 576.1,311.5 C574.0,312.4 567.6,313.7 564.2,315.2 C560.8,316.7 557.0,319.7 555.6,320.6 C554.1,321.4 555.2,321.7 555.6,320.6Z" stroke="#5a5a5a" stroke-width="0.8" fill="none" />
<path d="M540.7,332.8 C541.1,331.0 541.7,325.6 543.0,321.8 C544.3,318.0 546.0,313.1 548.5,310.0 C551.0,307.0 556.4,304.4 557.9,303.3" stroke="#5a5a5a" stroke-width="0.85" fill="none" />
<path d="M585.6,309.3 C587.2,308.9 591.3,307.4 595.6,307.1 C599.9,306.7 605.6,307.0 611.3,307.4 C617.0,307.7 626.9,308.9 630.0,309.3" stroke="#5a5a5a" stroke-width="1.1" fill="none" />
<path d="M586.2,312.7 C588.3,312.3 591.5,310.5 598.8,310.5 C606.1,310.5 624.8,312.3 630.0,312.7" stroke="#5a5a5a" stroke-width="0.85" fill="none" />
<path d="M543.8,330.0 C546.2,330.3 553.5,331.5 557.9,332.0 C562.4,332.5 564.2,332.7 570.5,333.1 C576.8,333.6 585.7,334.1 595.6,334.7 C605.5,335.3 624.3,336.4 630.0,336.7" stroke="#5a5a5a" stroke-width="1.1" fill="none" />
<path d="M540.7,332.8 C543.5,333.3 551.4,335.1 557.9,335.9 C564.5,336.8 567.9,337.0 579.9,337.8 C591.9,338.7 621.7,340.4 630.0,341.0" stroke="#5a5a5a" stroke-width="1.1" fill="none" />
<path d="M542.2,339.1 C545.9,339.6 555.3,341.4 564.2,342.2 C573.1,343.0 584.6,343.1 595.6,343.8 C606.6,344.5 624.3,345.8 630.0,346.2" stroke="#5a5a5a" stroke-width="0.85" fill="none" />
<path d="M572.1,325.0 C573.9,324.4 579.1,323.1 583.1,321.8 C587.0,320.5 591.9,318.3 595.6,317.1 C599.3,315.9 603.5,315.1 605.0,314.7" stroke="#5a5a5a" stroke-width="0.8" fill="none" />
<path d="M598.8,327.3 C600.8,326.4 606.6,323.5 611.3,321.8 C616.0,320.1 624.4,317.9 627.0,317.1" stroke="#5a5a5a" stroke-width="0.8" fill="none" />
<path d="M579.9,329.7 C582.5,329.9 590.4,330.5 595.6,330.9 C600.8,331.3 608.7,331.8 611.3,332.0" stroke="#5a5a5a" stroke-width="0.8" fill="none" />
<path d="M521.0,323.7 L542.2,320.6 L539.1,348.5 L525.3,351.6Z" stroke="#666" stroke-width="0.8" fill="#b9b9b9" />
<path d="M526.5,325.0 L528.4,350.1" stroke="#e6e6e6" stroke-width="1.6" fill="none" />
<path d="M535.2,323.4 L534.7,348.5" stroke="#8c8c8c" stroke-width="1.2" fill="none" />
<path d="M521.0,323.7 C521.3,324.8 521.9,329.1 522.6,330.5 C523.3,331.8 524.6,331.8 525.0,332.0" stroke="#666" stroke-width="1.4" fill="none" />
<path d="M539.1,332.8 C538.9,334.9 538.7,341.2 537.8,345.4 C536.9,349.6 535.0,353.7 533.6,357.9 C532.2,362.1 530.3,368.4 529.7,370.5" stroke="#5a5a5a" stroke-width="1.1" fill="none" />
<path d="M543.8,335.9 C543.6,338.0 543.3,344.3 542.5,348.5 C541.8,352.7 540.2,357.1 539.1,361.1 C538.0,365.0 536.5,370.2 535.9,372.1" stroke="#5a5a5a" stroke-width="1.1" fill="none" />
<path d="M570.5,345.4 C571.0,347.5 573.4,354.8 573.6,357.9 C573.9,361.1 572.3,363.2 572.1,364.2" stroke="#5a5a5a" stroke-width="0.85" fill="none" />
<path d="M575.2,343.8 C576.0,346.2 579.4,353.5 579.9,357.9 C580.4,362.4 578.6,368.4 578.3,370.5" stroke="#5a5a5a" stroke-width="0.85" fill="none" />
<path d="M578.3,371.3 C581.2,371.4 590.1,371.1 595.6,372.1 C601.1,373.0 605.6,374.4 611.3,376.8 C617.0,379.2 626.9,384.9 630.0,386.5" stroke="#5a5a5a" stroke-width="1.1" fill="none" />
<path d="M570.5,389.3 C573.6,388.3 583.1,383.6 589.3,383.1 C595.6,382.5 601.4,383.8 608.2,386.2 C615.0,388.5 626.4,395.4 630.0,397.2" stroke="#5a5a5a" stroke-width="0.9" fill="none" />
<path d="M525.0,365.8 L539.1,361.9 L541.4,376.8 L528.1,379.9Z" stroke="#444" stroke-width="0.8" fill="#858585" />
<path d="M512.4,367.4 L522.6,365.8 L523.4,378.3 L514.0,379.1Z" stroke="#555" stroke-width="0.8" fill="#9d9d9d" />
<path d="M509.3,370.5 C509.4,372.1 508.7,377.8 510.0,379.9 C511.3,382.0 513.3,382.7 517.1,383.1 C520.9,383.4 528.4,383.1 532.8,382.3 C537.3,381.5 542.0,379.0 543.8,378.3" stroke="#5a5a5a" stroke-width="0.9" fill="none" />
<circle cx="525.0" cy="390.9" r="4.71" stroke="#5a5a5a" stroke-width="1.1" fill="none"/>
<circle cx="525.0" cy="390.9" r="2.67" stroke="#5a5a5a" stroke-width="1.1" fill="none"/>
<path d="M517.1,386.2 C516.1,386.7 513.4,388.5 510.8,389.3 C508.2,390.1 503.0,390.6 501.4,390.9" stroke="#5a5a5a" stroke-width="0.9" fill="none" />
<path d="M530.5,387.8 C531.4,387.2 533.7,385.2 535.9,384.6 C538.2,384.0 542.5,384.4 543.8,384.3" stroke="#5a5a5a" stroke-width="0.9" fill="none" />
<path d="M506.1,339.1 C506.9,339.7 509.4,341.2 510.8,343.0 C512.3,344.8 514.7,348.6 514.7,350.1 C514.7,351.5 512.0,352.4 510.8,351.6 C509.6,350.9 508.5,347.5 507.7,345.4 C506.9,343.3 506.4,340.1 506.1,339.1" stroke="#5a5a5a" stroke-width="0.8" fill="#bbb" />
<path d="M590.0,309.2 C592.1,308.7 596.0,306.5 602.6,306.5 C609.1,306.4 618.3,307.7 629.3,308.8 C640.2,310.0 657.0,311.9 668.5,313.6 C680.0,315.3 692.7,317.5 698.3,319.0 C704.0,320.6 701.9,321.5 702.4,323.0 C702.9,324.5 704.5,325.9 701.5,328.0 C698.4,330.1 690.5,333.1 684.2,335.5 C677.9,338.0 670.9,341.4 663.8,342.8 C656.7,344.1 650.2,343.8 641.8,343.7 C633.4,343.6 622.2,342.7 613.6,342.1 C604.9,341.6 593.9,340.8 590.0,340.6" stroke="#5a5a5a" stroke-width="1.1" fill="none" />
<path d="M590.0,312.3 C592.1,311.9 596.0,309.8 602.6,309.8 C609.1,309.7 618.8,310.9 629.3,312.0 C639.7,313.1 654.6,314.8 665.4,316.4 C676.1,317.9 688.3,319.9 693.6,321.4 C698.9,322.9 698.7,323.8 697.1,325.5 C695.5,327.2 689.8,329.5 684.2,331.8 C678.7,334.0 670.9,337.6 663.8,339.0 C656.7,340.4 650.2,340.2 641.8,340.2 C633.4,340.2 622.2,339.5 613.6,339.0 C604.9,338.5 593.9,337.7 590.0,337.4" stroke="#5a5a5a" stroke-width="0.85" fill="none" />
<path d="M590.0,344.6 C593.9,344.9 604.9,345.6 613.6,346.1 C622.2,346.6 633.4,347.5 641.8,347.6 C650.2,347.8 656.7,348.1 663.8,346.8 C670.9,345.5 677.8,342.4 684.2,339.8 C690.6,337.2 699.4,332.6 702.4,331.1" stroke="#5a5a5a" stroke-width="1.1" fill="none" />
<path d="M702.4,323.0 C702.6,324.0 703.4,327.9 703.4,329.3 C703.4,330.6 702.6,330.8 702.4,331.1" stroke="#5a5a5a" stroke-width="0.9" fill="none" />
<path d="M610.4,323.9 C612.2,323.0 613.8,318.7 621.4,318.3 C629.0,317.8 652.3,319.8 655.9,321.4 C659.6,323.0 651.0,327.6 643.4,328.0 C635.8,328.4 615.9,324.6 610.4,323.9 C604.9,323.2 608.6,324.9 610.4,323.9Z" stroke="#5a5a5a" stroke-width="0.8" fill="none" />
<path d="M657.5,332.7 C659.9,331.2 665.9,325.5 671.6,323.9 C677.4,322.3 691.0,321.6 692.1,323.3 C693.1,325.0 683.7,332.4 677.9,334.0 C672.2,335.5 660.9,332.9 657.5,332.7 C654.1,332.5 655.2,334.2 657.5,332.7Z" stroke="#5a5a5a" stroke-width="0.8" fill="none" />
<path d="M623.8,313.6 C624.9,313.9 625.5,315.1 630.8,315.9 C636.2,316.7 651.8,317.9 655.9,318.3" stroke="#5a5a5a" stroke-width="0.8" fill="none" />
<path d="M596.3,319.8 L604.1,317.5" stroke="#5a5a5a" stroke-width="0.8" fill="none" />
<path d="M599.4,326.9 C601.3,327.3 604.1,328.2 610.4,329.3 C616.7,330.3 630.0,331.9 637.1,333.2 C644.2,334.5 650.2,336.5 652.8,337.1" stroke="#5a5a5a" stroke-width="0.8" fill="none" />
<path d="M645.0,335.5 C646.8,334.7 652.8,332.4 655.9,330.8 C659.1,329.3 662.5,326.9 663.8,326.1" stroke="#5a5a5a" stroke-width="0.8" fill="none" />
<path d="M665.4,318.3 C667.5,318.5 674.8,319.3 677.9,319.8 C681.1,320.4 683.2,321.1 684.2,321.4" stroke="#5a5a5a" stroke-width="0.8" fill="none" />
<path d="M590.0,331.1 C593.1,331.7 602.0,333.8 608.8,334.7 C615.6,335.7 626.1,336.2 630.8,337.1 C635.5,338.0 636.1,339.5 637.1,339.9" stroke="#5a5a5a" stroke-width="0.8" fill="none" />
<path d="M613.6,347.3 L613.6,368.5 L619.0,371.6 L623.8,367.3 L623.8,351.6" stroke="#5a5a5a" stroke-width="0.9" fill="none" />
<path d="M617.5,352.8 L617.9,366.6 L622.2,363.8 L622.2,352.0" stroke="#5a5a5a" stroke-width="0.8" fill="none" />
<path d="M626.1,348.1 L626.9,355.9 L631.1,355.2 L631.6,348.4" stroke="#5a5a5a" stroke-width="0.8" fill="none" />
<path d="M590.0,363.8 C592.1,364.1 598.6,364.6 602.6,365.4 C606.5,366.2 611.7,368.0 613.6,368.5" stroke="#5a5a5a" stroke-width="0.9" fill="none" />
<path d="M590.0,352.0 C591.8,352.2 597.1,352.4 601.0,352.8 C604.9,353.2 611.5,354.1 613.6,354.4" stroke="#5a5a5a" stroke-width="0.8" fill="none" />
<path d="M674.8,352.8 C674.8,350.7 675.5,344.4 675.7,343.4 C675.9,342.4 676.6,341.7 677.3,341.2 C678.0,340.7 682.4,337.9 684.2,337.4 C686.0,336.9 697.7,335.6 699.3,335.5 C700.9,335.5 702.9,336.7 703.4,337.1 C703.8,337.5 704.3,338.9 704.3,340.2 C704.3,341.6 703.7,351.0 703.4,352.8 C703.0,354.6 700.4,360.9 699.9,361.9 C699.5,362.9 698.8,363.9 698.0,364.4 C697.2,365.0 692.1,368.3 690.5,368.8 C688.9,369.3 680.1,370.7 678.9,370.7 C677.7,370.7 676.4,370.0 676.0,368.5 C675.7,367.0 674.8,354.9 674.8,352.8Z" stroke="#5a5a5a" stroke-width="1.1" fill="none" />
<path d="M679.5,368.5 C678.3,367.7 678.0,358.7 677.9,357.5 C677.9,356.4 678.3,355.2 678.9,354.7 C679.4,354.2 682.8,352.0 684.2,351.6 C685.6,351.1 694.9,349.1 696.1,349.0 C697.3,348.9 698.4,349.9 698.7,350.3 C698.9,350.7 699.1,352.4 699.0,353.4 C698.9,354.5 697.7,362.1 697.4,363.2 C697.1,364.2 696.0,365.4 695.5,365.7 C695.1,366.0 693.4,366.7 692.1,366.9 C690.7,367.2 680.7,369.3 679.5,368.5Z" stroke="#5a5a5a" stroke-width="0.85" fill="none" />
<path d="M681.9,365.4 C681.7,364.0 680.4,359.2 681.1,357.2 C681.7,355.2 683.5,354.5 685.8,353.6 C688.1,352.7 693.4,352.3 694.9,352.0" stroke="#5a5a5a" stroke-width="0.8" fill="none" />
<path d="M651.2,361.0 C651.1,359.7 652.3,358.2 652.8,357.5 C653.3,356.9 656.2,353.6 657.5,353.1 C658.8,352.6 667.0,351.3 668.2,351.2 C669.3,351.2 671.0,352.4 671.3,352.8 C671.7,353.2 672.3,354.7 672.3,356.3 C672.2,357.8 671.0,369.5 670.7,371.0 C670.4,372.5 669.1,374.0 668.5,374.5 C668.0,375.0 665.0,377.1 664.1,377.3 C663.2,377.5 658.6,377.0 657.8,376.7 C657.1,376.3 655.6,374.5 655.0,373.2 C654.5,371.9 651.4,362.3 651.2,361.0Z" stroke="#5a5a5a" stroke-width="1.1" fill="none" />
<path d="M659.1,359.1 C659.3,360.7 660.5,365.6 660.7,368.5 C660.8,371.4 660.0,375.1 659.9,376.4" stroke="#5a5a5a" stroke-width="0.8" fill="none" />
<path d="M663.8,355.9 C664.2,357.5 665.9,362.0 666.2,365.4 C666.4,368.7 665.2,374.3 665.1,376.0" stroke="#5a5a5a" stroke-width="0.8" fill="none" />
<path d="M641.8,359.1 C643.1,358.0 646.0,354.8 649.7,352.8 C653.3,350.8 661.4,347.8 663.8,346.8" stroke="#5a5a5a" stroke-width="0.85" fill="none" />
<path d="M638.7,360.7 C640.0,361.2 644.3,363.0 646.5,363.8 C648.8,364.6 651.1,365.1 652.0,365.4" stroke="#5a5a5a" stroke-width="0.85" fill="none" />
<path d="M671.6,355.9 L675.6,353.6" stroke="#5a5a5a" stroke-width="0.8" fill="none" />
<path d="M670.4,371.6 C671.1,371.6 673.5,371.9 674.8,371.6 C676.0,371.4 677.4,370.6 677.9,370.4" stroke="#5a5a5a" stroke-width="0.8" fill="none" />
<path d="M590.0,368.5 C592.6,369.0 600.5,369.7 605.7,371.6 C610.9,373.6 617.5,377.9 621.4,380.3 C625.3,382.6 627.9,384.9 629.3,385.8" stroke="#5a5a5a" stroke-width="1.1" fill="none" />
<path d="M637.1,359.1 C639.2,360.7 646.0,364.8 649.7,368.5 C653.3,372.2 655.9,376.4 659.1,381.1 C662.2,385.8 665.9,391.5 668.5,396.8 C671.1,402.0 673.2,408.6 674.8,412.5 C676.4,416.3 677.4,418.8 677.9,420.0" stroke="#5a5a5a" stroke-width="1.1" fill="none" />
<path d="M554.1,369.4 L561.2,355.9 L568.9,354.7 L569.5,364.1 L559.4,375.3Z" stroke="#777" stroke-width="0.8" fill="#d4d4d4" />
<path d="M559.4,375.3 L567.7,365.3" stroke="#444" stroke-width="2.2" fill="none" />
<path d="M557.3,377.7 L554.5,381.2 L558.6,382.7 L555.8,386.2 L559.9,387.7 L557.1,391.3 L561.2,392.8 L558.3,396.3 L562.5,397.8 L559.6,401.4 L563.7,402.9 L560.9,406.4 L565.0,407.9 L562.2,411.4 L566.3,412.9 L563.5,416.5 L567.6,418.0 L564.8,421.5 L568.9,423.0 L566.0,426.5" stroke="#5a5a5a" stroke-width="0.9" fill="none" />
<path d="M570.6,367.7 L573.5,371.0 L571.7,373.0 L574.5,376.3 L572.8,378.4 L575.6,381.7 L573.9,383.8 L576.7,387.1 L575.0,389.1 L577.8,392.4 L576.1,394.5 L578.9,397.8 L577.1,399.9 L580.0,403.2 L578.2,405.2 L581.1,408.5 L579.3,410.6 L582.1,413.9 L580.4,415.9 L583.2,419.2" stroke="#5a5a5a" stroke-width="0.9" fill="none" />
<path d="M568.9,423.0 L572.4,432.4 L575.7,443.0" stroke="#5a5a5a" stroke-width="1.1" fill="none" />
<path d="M580.6,415.9 L581.6,432.4 L582.1,444.2" stroke="#5a5a5a" stroke-width="1.1" fill="none" />
<circle cx="578.9" cy="444.9" r="3.06" stroke="#5a5a5a" stroke-width="1.1" fill="none"/>
<circle cx="578.9" cy="444.9" r="1.41" stroke="#5a5a5a" stroke-width="0.8" fill="none"/>
<path d="M574.7,370.7 C577.1,370.8 584.6,370.7 588.9,371.2 C593.2,371.7 594.8,371.6 600.7,373.6 C606.5,375.6 617.5,379.8 624.2,383.2 C630.9,386.6 636.4,390.9 640.7,393.8 C645.0,396.8 648.4,399.7 650.0,400.9" stroke="#5a5a5a" stroke-width="1.1" fill="none" />
<path d="M578.3,392.6 C580.0,392.4 585.3,391.5 588.9,391.5 C592.4,391.4 597.7,392.2 599.5,392.4" stroke="#5a5a5a" stroke-width="1.1" fill="none" />
<path d="M530.0,357.1 C532.0,356.5 537.9,354.7 541.8,353.5 C545.7,352.4 551.6,350.6 553.6,350.0" stroke="#333" stroke-width="1.4" fill="none" />
<path d="M557.7,354.7 C556.6,356.3 553.5,360.6 551.2,364.1 C548.9,367.7 546.5,371.8 544.1,375.9 C541.8,380.0 539.4,384.9 537.1,388.9 C534.7,392.8 531.2,397.7 530.0,399.5" stroke="#5a5a5a" stroke-width="1.1" fill="none" />
<path d="M553.6,377.1 C552.6,378.5 549.6,382.0 547.7,385.3 C545.7,388.7 543.2,393.6 541.8,397.1 C540.4,400.6 539.8,405.0 539.4,406.5" stroke="#5a5a5a" stroke-width="1.1" fill="none" />
<path d="M568.9,354.7 L570.0,350.0" stroke="#5a5a5a" stroke-width="0.9" fill="none" />
<path d="M572.4,350.0 C572.6,351.2 573.4,355.1 573.8,357.1 C574.2,359.0 574.6,361.0 574.7,361.8" stroke="#5a5a5a" stroke-width="0.9" fill="none" />
<path d="M577.1,352.4 C580.2,352.6 590.1,353.1 595.9,353.5 C601.8,353.9 609.7,354.5 612.4,354.7" stroke="#5a5a5a" stroke-width="0.9" fill="none" />
<path d="M577.1,363.0 C580.2,363.2 590.1,363.5 595.9,364.1 C601.8,364.7 609.7,366.1 612.4,366.5" stroke="#5a5a5a" stroke-width="0.9" fill="none" />
<path d="M530.0,365.3 L539.4,363.0 L541.2,373.6 L537.1,380.6 L530.0,381.8Z" stroke="#444" stroke-width="0.6" fill="#6f6f6f" />
<path d="M530.0,408.9 C532.4,409.0 539.2,409.1 544.1,409.5 C549.0,409.9 555.9,410.2 559.4,411.2 C563.0,412.3 563.8,414.0 565.3,415.9 C566.9,417.9 568.9,421.2 568.9,423.0 C568.9,424.8 567.9,426.2 565.3,426.5 C562.8,426.9 557.3,425.6 553.6,425.4 C549.8,425.2 546.1,424.2 543.0,425.4 C539.8,426.5 536.9,430.9 534.7,432.4 C532.6,434.0 530.8,434.4 530.0,434.8" stroke="#5a5a5a" stroke-width="1.1" fill="none" />
<path d="M530.0,437.1 C532.9,437.7 541.8,439.3 547.7,440.7 C553.6,442.1 560.0,443.8 565.3,445.4 C570.6,447.0 574.4,448.3 579.5,450.1 C584.6,451.9 591.6,454.2 595.9,456.0 C600.3,457.8 603.6,459.0 605.4,460.7 C607.1,462.4 607.3,464.6 606.5,466.0 C605.8,467.4 601.6,468.4 600.7,468.9" stroke="#5a5a5a" stroke-width="1.1" fill="none" />
<path d="M530.0,444.2 C532.9,445.2 541.8,448.1 547.7,450.1 C553.6,452.1 559.4,453.8 565.3,456.0 C571.2,458.1 577.9,460.7 583.0,463.1 C588.1,465.4 593.8,468.8 595.9,470.0" stroke="#5a5a5a" stroke-width="1.1" fill="none" />
<circle cx="537.1" cy="441.9" r="2.59" stroke="#5a5a5a" stroke-width="0.9" fill="none"/>
<circle cx="544.7" cy="444.2" r="2.59" stroke="#5a5a5a" stroke-width="0.9" fill="none"/>
<circle cx="591.2" cy="450.1" r="2.83" stroke="#5a5a5a" stroke-width="0.9" fill="none"/>
<circle cx="585.3" cy="460.7" r="2.83" stroke="#5a5a5a" stroke-width="0.9" fill="none"/>
<path d="M530.0,451.3 C532.4,452.1 539.0,454.0 544.1,456.0 C549.2,457.9 555.5,460.7 560.6,463.1 C565.7,465.4 572.4,468.8 574.7,470.0" stroke="#5a5a5a" stroke-width="0.9" fill="none" />
<path d="M530.0,454.2 C532.2,455.0 538.2,457.0 543.0,458.9 C547.7,460.9 554.3,464.2 558.3,466.0 C562.2,467.8 565.1,469.3 566.5,470.0" stroke="#5a5a5a" stroke-width="0.9" fill="none" />
<path d="M547.7,427.7 L547.7,439.5" stroke="#5a5a5a" stroke-width="0.9" fill="none" />
<path d="M551.8,428.3 L551.8,441.3" stroke="#5a5a5a" stroke-width="0.9" fill="none" />
<path d="M555.3,428.9 L556.1,441.9" stroke="#777" stroke-width="1.6" fill="none" />
<path d="M558.9,430.1 L559.4,443.0" stroke="#5a5a5a" stroke-width="0.9" fill="none" />
<path d="M674.7,443.2 C675.1,445.8 677.4,453.6 677.0,458.9 C676.7,464.1 676.1,467.4 672.7,474.6 C669.4,481.8 662.9,494.9 657.0,502.1 C651.1,509.3 643.9,514.0 637.4,517.8 C630.8,521.5 624.3,523.9 617.8,524.6 C611.2,525.4 604.0,523.6 598.1,522.1 C592.2,520.6 589.0,519.8 582.4,515.8 C575.9,511.8 564.8,504.7 558.9,498.1 C553.0,491.6 549.1,480.1 547.1,476.5" stroke="#5a5a5a" stroke-width="1.05" fill="none" />
<path d="M652.1,443.2 C652.7,446.8 656.3,457.9 655.4,464.8 C654.6,471.6 650.9,478.8 647.2,484.4 C643.5,490.0 639.7,494.2 633.5,498.1 C627.2,502.1 617.4,507.0 609.9,507.9 C602.4,508.9 595.5,507.3 588.3,504.0 C581.1,500.8 572.6,494.5 566.7,488.3 C560.8,482.1 555.3,470.3 553.0,466.7" stroke="#5a5a5a" stroke-width="1.1" fill="none" />
<path d="M650.1,444.4 C650.6,447.8 653.9,458.3 653.1,464.8 C652.3,471.3 648.8,478.1 645.2,483.4 C641.7,488.7 637.8,492.9 631.9,496.6 C626.0,500.3 617.0,504.7 609.9,505.6 C602.8,506.4 596.2,504.8 589.3,501.7 C582.4,498.5 574.3,492.6 568.7,486.8 C563.1,480.9 558.1,470.1 555.9,466.7" stroke="#5a5a5a" stroke-width="0.85" fill="none" />
<path d="M558.9,458.9 C560.2,462.2 562.5,472.6 566.7,478.5 C571.0,484.4 578.5,490.6 584.4,494.2 C590.3,497.8 596.5,499.3 602.1,500.1 C607.6,500.9 615.1,499.3 617.8,499.1" stroke="#5a5a5a" stroke-width="0.8" fill="none" />
<path d="M500.0,433.4 C506.5,436.4 526.2,445.7 539.3,451.4 C552.3,457.1 570.0,463.9 578.5,467.7 C587.0,471.5 586.0,473.3 590.3,474.2 C594.5,475.1 600.4,474.6 604.0,473.0 C607.7,471.4 610.9,466.1 612.3,464.8" stroke="#5a5a5a" stroke-width="0.9" fill="none" />
<path d="M500.0,436.9 C506.5,439.9 526.2,449.3 539.3,455.0 C552.3,460.6 569.8,467.4 578.5,471.1 C587.2,474.7 586.7,476.2 591.3,476.9 C595.8,477.7 602.1,477.3 606.0,475.6 C609.9,473.9 613.3,468.2 614.8,466.7" stroke="#5a5a5a" stroke-width="0.9" fill="none" />
<path d="M533.4,436.3 C537.6,437.3 551.4,440.1 558.9,442.2 C566.4,444.3 571.0,446.3 578.5,449.1 C586.0,451.8 599.2,456.3 604.0,458.9 C608.9,461.5 607.9,463.2 607.6,464.8 C607.2,466.3 606.9,468.3 602.1,468.3 C597.2,468.3 587.3,467.0 578.5,464.8 C569.7,462.5 556.6,457.6 549.1,455.0 C541.5,452.3 536.0,450.0 533.4,449.1" stroke="#5a5a5a" stroke-width="0.9" fill="none" />
<circle cx="537.3" cy="441.6" r="2.75" stroke="#5a5a5a" stroke-width="0.8" fill="none"/>
<circle cx="544.7" cy="444.0" r="2.75" stroke="#5a5a5a" stroke-width="0.8" fill="none"/>
<circle cx="585.6" cy="460.1" r="2.94" stroke="#5a5a5a" stroke-width="0.8" fill="none"/>
<circle cx="591.5" cy="450.0" r="2.75" stroke="#5a5a5a" stroke-width="0.8" fill="none"/>
<circle cx="578.5" cy="445.5" r="3.14" stroke="#5a5a5a" stroke-width="0.9" fill="none"/>
<path d="M503.9,412.2 C507.2,411.6 516.7,408.9 523.6,408.8 C530.4,408.8 538.3,410.6 545.1,411.8 C552.0,413.0 560.8,414.5 564.8,416.1 C568.8,417.7 569.1,420.0 569.1,421.6 C569.1,423.2 569.0,425.1 564.8,425.9 C560.5,426.8 548.7,425.1 543.6,426.7 C538.4,428.3 535.4,434.2 533.8,435.7" stroke="#5a5a5a" stroke-width="1.1" fill="none" />
<path d="M503.9,412.2 C503.3,413.4 500.3,416.7 500.0,419.6 C499.7,422.5 500.0,427.2 502.0,429.4 C503.9,431.7 506.5,432.3 511.8,433.4 C517.1,434.4 530.1,435.3 533.8,435.7" stroke="#5a5a5a" stroke-width="0.9" fill="none" />
<circle cx="508.8" cy="423.2" r="1.96" stroke="#5a5a5a" stroke-width="0.8" fill="none"/>
<path d="M522.0,405.9 L524.3,405.9 L524.7,415.7 L522.0,415.7Z" stroke="#5a5a5a" stroke-width="0.7" fill="#aaa" />
<path d="M520.4,415.7 L526.3,415.7 L525.1,422.0 L523.2,424.7 L521.6,422.0Z" stroke="#5a5a5a" stroke-width="0.7" fill="#999" />
<path d="M517.7,419.2 L529.4,420.0" stroke="#5a5a5a" stroke-width="0.9" fill="none" />
<path d="M549.1,429.4 L549.5,439.3" stroke="#5a5a5a" stroke-width="0.8" fill="none" />
<path d="M554.0,429.4 L555.0,441.2" stroke="#5a5a5a" stroke-width="0.8" fill="none" />
<path d="M557.9,430.4 L558.9,442.2" stroke="#777" stroke-width="1.5" fill="none" />
<path d="M565.8,400.0 L570.7,417.7 L576.9,444.2" stroke="#5a5a5a" stroke-width="0.9" fill="none" />
<path d="M578.9,400.0 L581.5,419.6 L582.8,440.2" stroke="#5a5a5a" stroke-width="0.9" fill="none" />
<circle cx="578.5" cy="445.5" r="1.57" stroke="#5a5a5a" stroke-width="0.8" fill="none"/>
<path d="M511.8,449.1 C513.1,448.6 516.7,444.8 519.6,446.1 C522.6,447.4 526.2,453.5 529.4,456.9 C532.7,460.4 536.2,465.3 539.3,466.7 C542.3,468.2 546.0,464.7 547.5,465.8 C549.0,466.8 549.7,471.0 548.3,473.0 C546.9,475.0 541.2,478.1 539.3,477.7 C537.3,477.3 538.8,473.1 536.5,470.7 C534.2,468.2 528.7,465.1 525.5,462.8 C522.4,460.5 520.0,459.2 517.7,456.9 C515.4,454.6 512.8,450.4 511.8,449.1" stroke="#5a5a5a" stroke-width="0.9" fill="none" />
<path d="M517.7,451.4 L521.6,458.9 L526.5,456.9" stroke="#5a5a5a" stroke-width="0.8" fill="none" />
<path d="M500.0,458.9 C501.0,458.6 504.3,458.6 505.9,456.9 C507.5,455.3 509.2,450.4 509.8,449.1" stroke="#5a5a5a" stroke-width="0.9" fill="none" />
<path d="M500.0,445.1 C501.3,445.5 505.9,446.5 507.9,447.1 C509.8,447.8 511.1,448.7 511.8,449.1" stroke="#5a5a5a" stroke-width="0.9" fill="none" />
<path d="M656.5,411.8 C657.2,413.3 659.1,417.8 660.6,420.6 C662.1,423.5 661.0,425.7 665.3,428.9 C669.6,432.1 680.2,436.3 686.5,439.7 C692.8,443.2 698.9,448.2 703.0,449.6 C707.1,451.0 709.3,449.1 711.3,448.0 C713.3,446.9 714.8,444.7 715.0,443.0 C715.2,441.4 714.8,441.6 712.4,438.1 C710.0,434.5 703.2,425.9 700.7,421.8 C698.1,417.7 698.7,417.7 697.1,413.6 C695.6,409.5 692.6,401.2 691.2,397.3 C689.9,393.4 689.3,391.4 688.9,390.3" stroke="#5a5a5a" stroke-width="1.1" fill="none" />
<path d="M658.3,413.8 C660.2,414.6 666.1,416.9 670.0,418.3 C674.0,419.7 678.3,422.0 681.8,422.1 C685.3,422.1 688.8,420.1 691.2,418.9 C693.6,417.7 695.4,415.4 696.2,414.7" stroke="#5a5a5a" stroke-width="0.9" fill="none" />
<path d="M681.8,422.1 C682.0,423.0 682.6,426.1 683.0,427.7 C683.4,429.3 682.6,429.5 684.4,431.5 C686.2,433.4 690.9,437.2 693.6,439.5 C696.3,441.8 698.3,444.2 700.7,445.4 C703.0,446.5 705.8,446.7 707.7,446.5 C709.7,446.3 711.6,444.6 712.4,444.2" stroke="#5a5a5a" stroke-width="0.9" fill="none" />
<path d="M686.5,431.2 C688.1,430.6 693.7,428.9 695.9,427.7 C698.1,426.5 699.1,424.8 699.7,424.2" stroke="#5a5a5a" stroke-width="0.9" fill="none" />
<path d="M654.7,377.1 C657.1,379.6 665.5,387.7 668.9,392.4 C672.2,397.1 673.0,400.8 674.7,405.3 C676.5,409.8 678.7,417.1 679.5,419.5" stroke="#5a5a5a" stroke-width="0.9" fill="none" />
<path d="M663.6,395.3 L670.0,391.4 L671.5,385.3 L675.0,381.8 L677.1,377.1 L680.9,374.7 L685.3,376.1 L691.2,372.6 L695.9,374.7 L698.3,380.8 L691.5,386.5 L688.4,390.3 L690.1,399.7 L688.9,406.7 L685.3,401.8 L681.8,400.9 L679.5,397.3 L677.1,395.4 L669.1,400.9 L665.3,398.9Z" stroke="#5a5a5a" stroke-width="0.9" fill="none" />
<ellipse cx="690.3" cy="381.8" rx="2.12" ry="0.94" transform="rotate(-30 690.3 381.8)" stroke="#5a5a5a" stroke-width="0.8" fill="#aaa"/>
<ellipse cx="673.8" cy="393.1" rx="1.88" ry="0.82" transform="rotate(-30 673.8 393.1)" stroke="#5a5a5a" stroke-width="0.8" fill="#aaa"/>
<ellipse cx="690.6" cy="387.9" rx="1.41" ry="0.59" transform="rotate(-30 690.6 387.9)" stroke="#5a5a5a" stroke-width="0.7" fill="none"/>
<path d="M670.6,374.7 C671.3,374.3 673.1,373.1 674.7,372.4 C676.4,371.6 679.7,370.4 680.6,370.0" stroke="#5a5a5a" stroke-width="0.8" fill="none" />
<path d="M413.8,425.9 C414.9,425.7 417.5,424.5 420.4,424.8 C423.3,425.1 428.0,427.0 431.4,427.9 C434.8,428.9 438.2,430.5 440.8,430.8 C443.4,431.1 446.1,430.0 447.1,429.8" stroke="#5a5a5a" stroke-width="0.9" fill="none" />
<path d="M412.6,430.6 C413.9,430.5 417.3,429.4 420.4,429.8 C423.6,430.3 429.6,432.7 431.4,433.3" stroke="#5a5a5a" stroke-width="0.9" fill="none" />
<ellipse cx="413.2" cy="428.3" rx="1.88" ry="2.67" transform="rotate(-10 413.2 428.3)" stroke="#5a5a5a" stroke-width="0.9" fill="none"/>
<path d="M431.4,433.3 L436.4,437.7 L437.1,445.8 L441.1,445.8 L441.8,439.6 L447.1,438.0 L452.1,436.4 L453.7,441.1 L452.1,445.8 L456.8,447.4 L458.4,441.1 L462.8,439.6" stroke="#5a5a5a" stroke-width="0.9" fill="none" />
<path d="M422.0,418.8 C423.0,419.6 425.6,422.2 428.3,423.6 C430.9,424.9 436.1,426.2 437.7,426.7" stroke="#5a5a5a" stroke-width="0.9" fill="none" />
<path d="M463.1,437.7 L470.3,435.8 L471.4,447.1 L464.1,447.9Z" stroke="#555" stroke-width="0.8" fill="#a8a8a8" />
<path d="M465.2,439.3 L469.1,438.5" stroke="#666" stroke-width="0.7" fill="none" />
<path d="M465.6,442.4 L469.6,441.6" stroke="#666" stroke-width="0.7" fill="none" />
<path d="M465.9,445.2 L470.0,444.4" stroke="#666" stroke-width="0.7" fill="none" />
<path d="M471.4,448.7 C473.1,449.3 477.9,451.2 481.6,452.6 C485.4,454.0 490.0,455.5 494.2,456.8 C498.4,458.2 504.1,460.7 506.8,460.6 C509.4,460.6 510.0,458.0 510.2,456.5 C510.5,455.1 510.0,453.3 508.3,451.8 C506.7,450.3 503.9,448.7 500.5,447.4 C497.1,446.2 491.9,444.6 487.9,444.3 C484.0,444.0 478.8,445.3 476.9,445.5" stroke="#5a5a5a" stroke-width="0.9" fill="none" />
<path d="M487.9,444.3 C488.5,444.7 490.0,446.6 491.1,447.1 C492.1,447.6 493.4,446.3 494.2,447.1 C495.0,447.9 495.5,451.0 495.8,451.8" stroke="#5a5a5a" stroke-width="0.8" fill="none" />
<path d="M473.8,431.4 C474.2,433.0 475.6,438.5 476.2,440.8 C476.7,443.2 476.8,444.7 476.9,445.5" stroke="#5a5a5a" stroke-width="0.9" fill="none" />
<path d="M459.7,409.4 C461.2,409.7 466.2,409.7 469.1,411.0 C472.0,412.3 475.3,415.2 476.9,417.3 C478.6,419.4 479.0,421.2 478.8,423.6 C478.6,425.9 477.3,429.5 475.7,431.4 C474.1,433.3 471.2,434.5 469.1,434.9 C466.9,435.3 463.9,433.9 462.8,433.8" stroke="#5a5a5a" stroke-width="0.9" fill="none" />
<path d="M478.5,417.3 C480.1,416.9 485.5,415.0 487.9,414.9 C490.3,414.8 491.9,414.3 493.0,416.5 C494.1,418.7 494.5,424.2 494.5,428.3 C494.5,432.4 493.2,439.0 493.0,441.1" stroke="#5a5a5a" stroke-width="0.9" fill="none" />
<path d="M467.5,422.3 C468.6,421.9 472.4,419.8 473.8,419.8 C475.2,419.7 476.4,421.1 475.7,422.0 C474.9,422.9 470.8,425.1 469.4,425.1 C468.0,425.2 467.8,422.8 467.5,422.3 C467.2,421.8 466.5,422.7 467.5,422.3Z" stroke="#5a5a5a" stroke-width="0.8" fill="none" />
<path d="M481.6,423.6 C482.3,423.3 484.5,421.5 485.6,422.0 C486.6,422.5 487.9,425.1 487.9,426.7 C487.9,428.3 486.6,430.9 485.6,431.4 C484.5,431.9 482.3,430.1 481.6,429.8" stroke="#5a5a5a" stroke-width="0.8" fill="none" />
<path d="M447.1,409.4 C447.9,411.0 450.5,415.4 451.8,418.8 C453.1,422.2 454.4,428.0 455.0,429.8" stroke="#5a5a5a" stroke-width="0.9" fill="none" />
<path d="M451.8,426.7 C452.6,427.5 455.2,430.6 456.5,431.4 C457.8,432.2 459.1,431.4 459.7,431.4" stroke="#5a5a5a" stroke-width="0.8" fill="none" />
<path d="M423.6,409.4 C424.1,410.7 426.7,414.9 426.7,417.3 C426.7,419.6 424.1,422.5 423.6,423.6" stroke="#5a5a5a" stroke-width="0.8" fill="none" />
<path d="M406.3,406.3 C406.8,407.9 407.6,412.8 409.4,415.7 C411.3,418.6 414.9,422.1 417.3,423.6 C419.6,425.0 422.5,424.2 423.6,424.3" stroke="#5a5a5a" stroke-width="0.9" fill="none" />
<path d="M403.1,400.0 C403.7,402.1 404.7,408.6 406.3,412.6 C407.9,416.5 411.5,421.7 412.6,423.6" stroke="#5a5a5a" stroke-width="0.9" fill="none" />
<path d="M494.2,431.4 C499.4,433.6 514.6,440.0 525.6,444.7 C536.6,449.5 554.3,457.2 560.0,459.7" stroke="#5a5a5a" stroke-width="0.9" fill="none" />
<path d="M495.8,435.3 C500.8,437.6 514.9,444.0 525.6,448.7 C536.3,453.4 554.3,461.1 560.0,463.6" stroke="#5a5a5a" stroke-width="0.9" fill="none" />
<path d="M495.0,433.3 C500.1,435.5 514.8,441.9 525.6,446.6 C536.4,451.3 554.3,459.1 560.0,461.6" stroke="#888" stroke-width="0.7" fill="none" />
<path d="M496.6,420.4 C497.7,419.1 501.3,414.5 503.6,412.6 C506.0,410.6 507.0,409.2 510.7,408.6 C514.4,408.1 517.4,408.6 525.6,409.4 C533.8,410.2 554.3,412.7 560.0,413.3" stroke="#5a5a5a" stroke-width="0.9" fill="none" />
<path d="M496.6,420.4 C498.8,421.3 505.1,424.1 509.9,425.9 C514.8,427.7 521.7,430.1 525.6,431.4 C529.5,432.7 530.8,434.3 533.5,433.8 C536.1,433.2 539.0,429.7 541.3,428.3 C543.7,426.8 544.5,425.4 547.6,425.1 C550.7,424.9 557.9,426.4 560.0,426.7" stroke="#5a5a5a" stroke-width="0.9" fill="none" />
<circle cx="509.4" cy="422.8" r="2.2" stroke="#5a5a5a" stroke-width="0.8" fill="none"/>
<path d="M500.5,414.4 L506.8,416.6" stroke="#5a5a5a" stroke-width="0.8" fill="none" />
<path d="M502.8,411.8 L509.1,414.1" stroke="#5a5a5a" stroke-width="0.8" fill="none" />
<path d="M498.6,417.3 L504.9,419.5" stroke="#5a5a5a" stroke-width="0.8" fill="none" />
<path d="M521.2,403.1 L523.7,403.1 L524.0,412.6 L521.2,412.6Z" stroke="#5a5a5a" stroke-width="0.7" fill="#aaa" />
<path d="M520.1,412.6 L524.8,412.6 L524.0,420.4 L522.5,423.6 L521.2,420.4Z" stroke="#5a5a5a" stroke-width="0.7" fill="#999" />
<path d="M517.0,418.5 L528.8,419.5" stroke="#5a5a5a" stroke-width="0.9" fill="none" />
<circle cx="537.4" cy="441.6" r="2.51" stroke="#5a5a5a" stroke-width="0.8" fill="none"/>
<circle cx="543.7" cy="444.0" r="2.51" stroke="#5a5a5a" stroke-width="0.8" fill="none"/>
<path d="M547.6,430.6 L548.4,439.3" stroke="#5a5a5a" stroke-width="0.8" fill="none" />
<path d="M551.5,430.6 L552.6,440.5" stroke="#5a5a5a" stroke-width="0.8" fill="none" />
<path d="M555.4,431.4 L556.7,441.6" stroke="#777" stroke-width="1.6" fill="none" />
<path d="M509.9,449.0 C510.6,446.6 515.1,444.8 517.8,445.5 C520.4,446.3 522.2,449.5 525.6,453.4 C529.0,457.3 534.8,467.0 538.2,469.1 C541.6,471.2 544.4,465.7 546.0,465.9 C547.6,466.2 548.6,468.8 547.9,470.7 C547.2,472.5 543.3,476.7 541.6,477.3 C540.0,477.8 541.4,475.7 538.2,473.8 C535.0,471.9 526.6,468.3 522.5,465.9 C518.3,463.6 515.5,462.5 513.4,459.7 C511.3,456.8 509.2,451.3 509.9,449.0Z" stroke="#5a5a5a" stroke-width="0.9" fill="none" />
<path d="M515.4,451.0 L521.7,461.2 L527.2,458.9" stroke="#5a5a5a" stroke-width="0.8" fill="none" />
<path d="M560.0,469.1 C558.6,470.7 552.0,475.4 551.5,478.5 C551.0,481.6 555.6,485.3 557.0,487.9 C558.4,490.5 559.5,493.2 560.0,494.2" stroke="#5a5a5a" stroke-width="0.9" fill="none" />
<path d="M550.7,462.8 C551.5,463.6 553.9,466.5 555.4,467.5 C557.0,468.6 559.2,468.8 560.0,469.1" stroke="#5a5a5a" stroke-width="0.8" fill="none" />
<path d="M579.0,392.0 C580.8,391.7 585.6,390.2 589.8,390.3 C594.1,390.4 599.6,391.2 604.5,392.8 C609.4,394.3 614.8,396.8 619.3,399.6 C623.7,402.4 627.4,405.8 631.0,409.4 C634.6,413.0 637.9,417.0 640.8,421.2 C643.8,425.5 646.6,430.4 648.7,435.0 C650.8,439.5 652.8,446.4 653.6,448.7" stroke="#5a5a5a" stroke-width="1.1" fill="none" />
<path d="M579.0,393.9 C580.8,393.7 585.6,392.1 589.8,392.3 C594.0,392.4 599.3,393.2 604.0,394.7 C608.8,396.3 614.0,398.9 618.3,401.6 C622.5,404.3 626.1,407.5 629.6,410.9 C633.0,414.3 636.0,418.0 638.9,422.2 C641.7,426.4 644.6,431.5 646.7,435.9 C648.9,440.4 650.8,446.6 651.6,448.7" stroke="#5a5a5a" stroke-width="0.9" fill="none" />
<path d="M619.3,380.0 C621.9,381.3 630.2,385.2 635.0,387.9 C639.7,390.5 645.6,394.4 647.7,395.7" stroke="#5a5a5a" stroke-width="1.1" fill="none" />
<path d="M658.5,413.4 C660.1,416.3 665.7,425.1 668.3,431.0 C670.9,436.9 673.2,445.8 674.2,448.7" stroke="#5a5a5a" stroke-width="1.05" fill="none" />
<path d="M657.5,380.0 C658.7,381.1 662.6,385.1 664.4,386.9 C666.2,388.7 667.7,390.1 668.3,390.8" stroke="#5a5a5a" stroke-width="0.9" fill="none" />
<path d="M656.5,409.4 C657.9,411.4 662.4,418.3 664.4,421.2 C666.4,424.2 665.7,424.8 668.3,427.1 C670.9,429.4 678.1,433.6 680.0,435.0" stroke="#5a5a5a" stroke-width="0.9" fill="none" />
<path d="M658.5,413.4 C660.1,414.2 664.7,416.6 668.3,418.3 C671.9,419.9 678.1,422.4 680.0,423.2" stroke="#5a5a5a" stroke-width="0.9" fill="none" />
<path d="M580.0,419.3 C582.5,419.3 589.8,418.3 594.7,419.5 C599.6,420.6 605.0,423.4 609.4,426.1 C613.9,428.9 618.9,433.8 621.2,435.9 C623.5,438.1 624.0,437.6 623.4,438.9 C622.7,440.2 620.4,442.3 617.3,443.8 C614.2,445.3 608.3,446.7 604.5,447.9 C600.8,449.1 596.4,450.4 594.7,450.9" stroke="#5a5a5a" stroke-width="1.1" fill="none" />
<path d="M592.8,416.5 L604.5,409.4 L612.4,408.5 L619.3,409.4 L627.1,413.4 L630.0,418.8 L633.5,419.3 L635.0,422.2 L638.9,425.3 L636.9,427.3 L638.1,430.0 L635.0,433.0 L631.0,436.9 L626.1,437.5 L623.4,438.9" stroke="#5a5a5a" stroke-width="0.9" fill="none" />
<path d="M631.0,436.9 C631.5,438.6 633.6,443.5 633.6,446.7 C633.6,450.0 632.4,453.8 631.0,456.5 C629.6,459.3 627.4,461.6 625.1,463.4 C622.9,465.2 619.9,466.8 617.3,467.3 C614.7,467.9 610.7,466.7 609.4,466.6" stroke="#5a5a5a" stroke-width="0.9" fill="none" />
<path d="M616.3,444.8 C616.8,446.2 619.0,450.8 619.3,453.6 C619.5,456.4 618.6,459.3 617.8,461.5 C617.0,463.6 614.9,465.5 614.3,466.4" stroke="#5a5a5a" stroke-width="0.9" fill="none" />
<path d="M606.5,448.7 C607.2,450.0 609.6,453.9 610.4,456.5 C611.2,459.2 611.2,463.3 611.4,464.6" stroke="#777" stroke-width="1.6" fill="none" />
<path d="M608.9,448.2 C609.7,449.8 612.4,454.6 613.2,457.5 C613.9,460.4 613.5,464.2 613.6,465.6" stroke="#5a5a5a" stroke-width="0.9" fill="none" />
<ellipse cx="631.5" cy="418.8" rx="1.77" ry="1.18" transform="rotate(30 631.5 418.8)" stroke="#5a5a5a" stroke-width="0.8" fill="none"/>
<ellipse cx="621.2" cy="412.4" rx="1.37" ry="0.79" transform="rotate(20 621.2 412.4)" stroke="#5a5a5a" stroke-width="0.7" fill="#999"/>
<ellipse cx="613.9" cy="411.2" rx="1.37" ry="0.69" transform="rotate(10 613.9 411.2)" stroke="#5a5a5a" stroke-width="0.7" fill="#aaa"/>
<path d="M580.0,448.7 C581.3,449.0 585.2,449.7 587.9,450.7 C590.5,451.6 593.1,453.3 595.7,454.6 C598.3,455.9 601.8,457.0 603.6,458.5 C605.4,460.0 606.3,461.8 606.5,463.4 C606.7,465.1 605.7,467.3 604.5,468.3 C603.4,469.3 602.1,469.8 599.6,469.5 C597.2,469.2 593.1,467.6 589.8,466.6 C586.5,465.5 581.6,463.9 580.0,463.4" stroke="#5a5a5a" stroke-width="0.9" fill="none" />
<circle cx="590.8" cy="450.2" r="2.94" stroke="#5a5a5a" stroke-width="0.9" fill="none"/>
<circle cx="585.4" cy="461.0" r="2.94" stroke="#5a5a5a" stroke-width="0.9" fill="none"/>
<path d="M580.0,468.3 C581.6,468.8 586.5,470.3 589.8,471.3 C593.1,472.2 596.7,474.2 599.6,474.2 C602.6,474.2 605.6,472.6 607.5,471.3 C609.3,470.0 610.1,467.2 610.6,466.4" stroke="#5a5a5a" stroke-width="0.9" fill="none" />
<path d="M580.0,472.2 C582.0,473.1 588.2,476.2 591.8,477.2 C595.4,478.1 598.6,478.8 601.6,478.1 C604.5,477.5 608.1,474.2 609.4,473.4" stroke="#5a5a5a" stroke-width="0.9" fill="none" />
<path d="M580.0,476.7 C581.6,477.4 586.5,480.2 589.8,481.1 C593.1,482.0 598.0,481.9 599.6,482.1" stroke="#5a5a5a" stroke-width="0.8" fill="none" />
<path d="M582.0,400.6 L594.7,394.7 L602.6,408.5 L591.8,414.5 L585.9,413.4Z" stroke="#5a5a5a" stroke-width="0.9" fill="none" />
<path d="M596.7,395.7 L608.5,397.7 L610.6,404.5 L602.8,408.5" stroke="#5a5a5a" stroke-width="0.9" fill="none" />
<path d="M609.4,399.6 C610.1,399.9 611.7,400.3 613.4,401.1 C615.0,401.9 618.3,404.0 619.3,404.5" stroke="#5a5a5a" stroke-width="0.8" fill="none" />
<path d="M592.8,416.3 C594.7,415.0 600.8,410.2 604.5,408.5 C608.3,406.7 612.2,406.0 615.3,405.7 C618.4,405.5 621.9,406.8 623.2,407.0" stroke="#5a5a5a" stroke-width="0.9" fill="none" />
<path d="M594.7,418.5 C596.4,417.2 601.6,412.4 605.0,410.6 C608.5,408.8 612.5,408.0 615.3,407.7 C618.2,407.3 621.1,408.5 622.2,408.7" stroke="#5a5a5a" stroke-width="0.9" fill="none" />
<path d="M596.7,397.7 L598.2,401.1 L599.6,400.1 L601.1,404.5 L602.4,408.5" stroke="#5a5a5a" stroke-width="0.8" fill="none" />
<path d="M580.0,420.2 C580.5,421.7 582.0,426.6 582.9,429.1 C583.9,431.5 585.2,432.7 585.9,435.0 C586.5,437.2 587.2,440.5 586.9,442.8 C586.5,445.1 584.4,447.7 583.9,448.7" stroke="#5a5a5a" stroke-width="0.8" fill="none" />
<path d="M582.0,427.1 C582.6,426.9 585.0,425.5 585.9,426.1 C586.8,426.8 587.4,428.9 587.4,431.0 C587.4,433.2 586.6,436.9 585.9,438.9 C585.2,440.8 583.4,442.2 582.9,442.8" stroke="#5a5a5a" stroke-width="0.8" fill="none" />
<circle cx="654.6" cy="401.1" r="7.85" stroke="#5a5a5a" stroke-width="1.0" fill="#fefefe"/>
<path d="M661.9,396.7 L668.3,391.8 L674.2,389.3 L680.0,385.9" stroke="#5a5a5a" stroke-width="0.9" fill="none" />
<path d="M663.4,402.6 L670.3,397.7 L680.0,393.7" stroke="#5a5a5a" stroke-width="0.9" fill="none" />
<path d="M664.4,396.7 L666.4,401.1" stroke="#5a5a5a" stroke-width="0.8" fill="none" />
<path d="M666.8,394.7 L668.8,399.1" stroke="#5a5a5a" stroke-width="0.8" fill="none" />
<ellipse cx="673.7" cy="392.6" rx="1.96" ry="0.88" transform="rotate(-30 673.7 392.6)" stroke="#5a5a5a" stroke-width="0.7" fill="#aaa"/>
<path d="M657.5,380.0 L668.3,382.9 L672.2,382.0 L674.2,385.9 L671.3,388.8" stroke="#5a5a5a" stroke-width="0.9" fill="none" />
<path d="M674.2,395.7 L680.0,407.5" stroke="#5a5a5a" stroke-width="0.9" fill="none" />
<path d="M425.3,392.1 C425.5,390.9 424.4,386.5 426.0,384.6 C427.6,382.6 431.9,381.8 435.0,380.5 C438.0,379.1 441.8,377.9 444.6,376.3 C447.3,374.7 449.9,372.9 451.4,370.8 C453.0,368.8 453.6,365.8 453.6,364.0 C453.6,362.2 451.8,360.8 451.4,360.1" stroke="#505050" stroke-width="1.2" fill="none" />
<path d="M428.9,393.5 C429.0,392.5 428.3,389.3 429.7,387.6 C431.2,385.9 434.7,384.8 437.7,383.5 C440.7,382.1 444.7,381.1 447.6,379.4 C450.5,377.6 453.4,375.4 455.0,373.0 C456.6,370.7 457.2,367.5 457.2,365.3 C457.3,363.2 455.6,361.0 455.3,360.1" stroke="#505050" stroke-width="1.2" fill="none" />
<path d="M413.0,384.6 C414.7,382.1 418.9,380.7 421.2,381.8 C423.6,383.0 426.3,387.5 427.0,391.4 C427.7,395.3 427.2,402.4 425.3,405.2 C423.5,408.0 418.4,409.6 416.0,408.2 C413.6,406.8 411.6,400.9 411.1,396.9 C410.5,393.0 411.3,387.1 413.0,384.6Z" stroke="#505050" stroke-width="1.2" fill="none" />
<path d="M414.3,388.7 C415.5,388.5 419.4,386.9 421.2,387.3 C423.0,387.8 424.7,390.8 425.3,391.4" stroke="#505050" stroke-width="0.9" fill="none" />
<path d="M413.7,394.2 C414.7,394.1 417.8,393.0 419.8,393.5 C421.9,394.0 425.0,396.4 426.0,396.9" stroke="#505050" stroke-width="0.9" fill="none" />
<path d="M414.3,401.1 C415.3,400.9 418.0,400.1 419.8,400.4 C421.7,400.6 424.4,402.1 425.3,402.4" stroke="#505050" stroke-width="0.9" fill="none" />
<path d="M413.0,354.6 L421.5,353.0 L422.9,361.5 L414.3,363.1Z" stroke="#505050" stroke-width="1.0" fill="#b0b0b0" />
<path d="M415.0,364.0 L421.2,362.9 L422.0,372.2 L416.0,373.9Z" stroke="#505050" stroke-width="1.0" fill="#d0d0d0" />
<circle cx="428.4" cy="369.7" r="3.57" stroke="#505050" stroke-width="1.1" fill="none"/>
<circle cx="440.5" cy="364.2" r="4.12" stroke="#505050" stroke-width="1.1" fill="none"/>
<circle cx="440.5" cy="364.2" r="1.92" stroke="#505050" stroke-width="0.9" fill="#999"/>
<path d="M422.6,357.1 C423.7,356.9 426.9,356.0 429.5,356.0 C432.0,356.0 435.2,356.2 437.7,356.8 C440.2,357.5 443.0,358.4 444.6,359.8 C446.2,361.3 446.9,364.4 447.3,365.3" stroke="#505050" stroke-width="1.1" fill="none" />
<path d="M421.2,375.0 C422.4,375.2 425.3,376.3 428.1,376.3 C430.8,376.3 434.7,375.9 437.7,375.0 C440.7,374.0 444.6,371.5 445.9,370.8" stroke="#505050" stroke-width="1.1" fill="none" />
<path d="M432.2,359.8 C432.4,360.8 433.5,363.5 433.6,365.3 C433.7,367.2 432.9,370.1 432.8,371.1" stroke="#505050" stroke-width="1.0" fill="none" />
<path d="M425.3,361.2 L426.2,365.3" stroke="#505050" stroke-width="1.0" fill="none" />
<path d="M418.3,371.2 C418.5,371.2 419.8,370.6 419.6,371.0 C419.3,371.4 416.9,373.3 416.9,373.7 C416.9,374.2 419.3,373.8 419.8,373.8" stroke="#4d4d4d" stroke-width="1.0" fill="none" />
<path d="M430.7,359.7 C429.9,359.5 426.7,359.3 426.0,358.5 C425.4,357.6 426.2,355.2 426.8,354.4 C427.4,353.6 429.1,353.8 429.6,353.7" stroke="#4d4d4d" stroke-width="1.0" fill="none" />
<path d="M420.8,354.7 C421.5,355.1 424.0,356.4 425.4,357.0 C426.8,357.5 429.1,358.1 428.9,358.0 C428.8,358.0 425.3,356.7 424.6,356.5" stroke="#4d4d4d" stroke-width="1.0" fill="none" />
<path d="M430.4,356.6 C431.1,356.4 434.5,355.1 434.6,355.4 C434.8,355.7 432.5,357.2 431.4,358.3 C430.3,359.5 428.5,361.7 427.9,362.3" stroke="#4d4d4d" stroke-width="1.0" fill="none" />
<path d="M428.8,367.7 C428.5,367.7 428.0,368.3 427.3,367.5 C426.6,366.8 424.3,364.4 424.4,363.2 C424.5,362.1 427.2,361.2 427.8,360.7" stroke="#4d4d4d" stroke-width="1.0" fill="none" />
<path d="M440.7,359.0 C441.4,359.6 443.9,361.6 445.1,362.6 C446.2,363.7 446.9,364.3 447.5,365.1 C448.0,365.9 448.1,366.9 448.2,367.2" stroke="#4d4d4d" stroke-width="1.0" fill="none" />
<path d="M416.7,365.8 C417.3,365.3 418.6,362.8 419.8,363.0 C421.0,363.1 423.2,366.2 423.8,366.6 C424.3,367.0 423.1,365.5 422.9,365.3" stroke="#4d4d4d" stroke-width="1.0" fill="none" />
<path d="M428.7,363.5 C429.5,363.3 433.3,363.2 433.3,362.4 C433.4,361.6 429.3,358.5 428.9,358.6 C428.5,358.7 430.6,362.4 431.0,363.2" stroke="#4d4d4d" stroke-width="1.0" fill="none" />
<path d="M430.3,366.2 C430.4,366.5 431.2,367.9 430.8,368.5 C430.5,369.0 428.6,369.1 428.2,369.5 C427.9,369.9 428.7,370.4 428.7,370.6" stroke="#4d4d4d" stroke-width="1.0" fill="none" />
<path d="M418.9,358.0 C418.6,358.6 417.9,361.2 417.4,362.0 C417.0,362.8 416.6,363.3 416.0,362.9 C415.5,362.4 414.5,359.8 414.2,359.2" stroke="#4d4d4d" stroke-width="1.0" fill="none" />
<path d="M414.7,374.3 C415.1,374.1 416.5,373.1 417.3,373.2 C418.0,373.3 418.1,373.8 419.0,374.8 C419.9,375.8 422.1,378.4 422.7,379.1" stroke="#4d4d4d" stroke-width="1.0" fill="none" />
<path d="M427.1,378.8 C427.8,378.8 430.1,379.0 431.4,379.1 C432.7,379.1 434.6,379.4 435.0,379.0 C435.4,378.6 434.0,377.0 433.8,376.6" stroke="#4d4d4d" stroke-width="1.0" fill="none" />
<path d="M444.2,357.8 C443.5,358.3 440.4,360.2 440.2,360.6 C439.9,361.1 441.8,361.2 442.7,360.5 C443.7,359.8 445.3,357.0 445.9,356.3" stroke="#4d4d4d" stroke-width="1.0" fill="none" />
<path d="M421.7,361.0 C421.6,360.5 421.7,358.7 420.9,358.0 C420.1,357.2 417.0,355.9 416.9,356.4 C416.9,356.9 420.0,360.2 420.6,361.0" stroke="#4d4d4d" stroke-width="1.0" fill="none" />
<path d="M439.4,365.8 C439.1,366.5 437.5,369.1 437.1,370.1 C436.8,371.2 438.1,372.3 437.4,372.3 C436.7,372.2 433.7,370.0 433.0,369.6" stroke="#4d4d4d" stroke-width="1.0" fill="none" />
<path d="M442.8,373.9 C443.4,374.0 445.9,374.5 446.4,374.8 C446.8,375.1 445.3,375.8 445.7,375.6 C446.1,375.4 448.2,374.1 448.7,373.8" stroke="#4d4d4d" stroke-width="1.0" fill="none" />
<path d="M431.7,360.7 C432.2,359.9 433.5,356.2 434.2,356.1 C435.0,356.0 436.4,359.5 436.0,360.3 C435.5,361.2 432.3,361.1 431.5,361.2" stroke="#4d4d4d" stroke-width="1.0" fill="none" />
<path d="M435.7,375.3 C435.9,374.9 436.5,372.7 436.5,373.0 C436.5,373.4 435.1,377.2 435.6,377.3 C436.1,377.5 438.8,374.5 439.4,373.9" stroke="#4d4d4d" stroke-width="1.0" fill="none" />
<path d="M415.7,356.0 C415.2,356.0 412.9,355.1 412.3,355.6 C411.7,356.0 412.0,359.0 412.3,359.0 C412.5,359.0 413.5,356.1 413.7,355.5" stroke="#4d4d4d" stroke-width="1.0" fill="none" />
<path d="M431.9,361.9 C431.9,361.5 432.4,360.2 431.8,359.3 C431.3,358.4 429.4,356.5 428.7,356.3 C428.0,356.2 427.8,358.0 427.6,358.3" stroke="#4d4d4d" stroke-width="1.0" fill="none" />
<path d="M432.3,354.8 C432.6,355.4 433.5,357.3 434.3,358.3 C435.0,359.4 437.2,360.6 436.8,361.0 C436.5,361.4 433.0,360.8 432.2,360.7" stroke="#4d4d4d" stroke-width="1.0" fill="none" />
<path d="M414.6,373.1 C414.2,373.4 412.7,374.4 412.3,375.1 C411.9,375.7 412.3,377.3 412.3,376.9 C412.3,376.5 412.3,373.3 412.3,372.6" stroke="#4d4d4d" stroke-width="1.0" fill="none" />
<path d="M454.2,384.6 C454.6,385.3 455.1,388.0 456.9,388.7 C458.8,389.4 462.4,389.4 465.2,388.7 C467.9,388.0 471.6,385.9 473.4,384.6 C475.3,383.2 475.7,381.1 476.2,380.5" stroke="#505050" stroke-width="1.1" fill="none" />
<path d="M444.6,384.6 C445.7,384.8 449.4,384.8 451.4,385.9 C453.5,387.1 455.1,390.1 456.9,391.4 C458.8,392.8 461.5,393.7 462.4,394.2" stroke="#505050" stroke-width="1.0" fill="none" />
<path d="M455.9,381.6 C455.3,382.3 453.1,385.5 452.0,385.7 C450.9,385.9 449.6,383.3 449.4,382.6 C449.1,381.8 450.4,381.5 450.6,381.3" stroke="#4d4d4d" stroke-width="1.0" fill="none" />
<path d="M454.2,383.2 C454.7,383.0 456.5,381.4 456.9,381.7 C457.4,382.1 456.9,384.1 456.9,385.3 C456.9,386.5 456.9,388.2 456.9,388.8" stroke="#4d4d4d" stroke-width="1.0" fill="none" />
<path d="M449.7,379.9 C450.2,380.1 452.6,380.8 452.9,380.7 C453.1,380.5 451.1,379.2 451.3,379.1 C451.5,378.9 453.7,379.6 454.2,379.8" stroke="#4d4d4d" stroke-width="1.0" fill="none" />
<path d="M455.4,392.9 C455.7,393.0 456.7,393.2 456.9,393.4 C457.2,393.7 457.3,393.8 456.9,394.4 C456.6,395.0 455.3,396.5 454.9,396.9" stroke="#4d4d4d" stroke-width="1.0" fill="none" />
<path d="M439.9,393.0 C440.6,393.2 443.6,393.6 443.7,394.3 C443.8,394.9 441.0,396.9 440.7,396.9 C440.5,396.9 441.9,394.8 442.1,394.3" stroke="#4d4d4d" stroke-width="1.0" fill="none" />
<path d="M433.4,388.6 C433.2,389.2 432.4,391.5 432.2,392.1 C432.0,392.7 432.3,392.0 432.3,392.2 C432.3,392.5 432.2,393.3 432.2,393.6" stroke="#4d4d4d" stroke-width="1.0" fill="none" />
<path d="M454.9,384.6 C454.7,384.7 454.3,385.0 453.8,385.2 C453.4,385.5 452.4,386.0 452.2,386.0 C451.9,386.1 452.5,385.6 452.5,385.5" stroke="#4d4d4d" stroke-width="1.0" fill="none" />
<path d="M448.9,388.5 C448.3,389.2 446.2,392.0 445.5,392.6 C444.7,393.2 444.6,391.5 444.3,392.0 C443.9,392.5 443.6,395.0 443.5,395.6" stroke="#4d4d4d" stroke-width="1.0" fill="none" />
<path d="M455.8,388.2 C455.6,387.7 454.7,385.9 454.9,384.9 C455.1,383.9 456.6,382.8 456.9,382.2 C457.3,381.5 456.9,381.2 456.9,380.9" stroke="#4d4d4d" stroke-width="1.0" fill="none" />
<path d="M440.3,385.5 C439.9,384.8 438.2,381.9 437.8,381.6 C437.4,381.4 437.8,384.1 438.1,384.1 C438.3,384.1 439.1,382.0 439.3,381.6" stroke="#4d4d4d" stroke-width="1.0" fill="none" />
<path d="M432.2,402.4 C432.7,401.5 432.9,398.2 435.0,396.9 C437.0,395.7 440.9,394.9 444.6,394.9 C448.2,394.9 453.7,395.2 456.9,396.9 C460.1,398.7 462.6,402.0 463.8,405.2 C465.0,408.4 464.8,412.7 464.1,416.2 C463.4,419.6 461.8,423.5 459.7,425.8 C457.6,428.1 452.8,429.2 451.4,429.9" stroke="#505050" stroke-width="1.1" fill="none" />
<path d="M425.3,416.2 C426.0,415.3 428.1,412.1 429.5,410.7 C430.8,409.3 432.9,408.4 433.6,407.9" stroke="#444" stroke-width="1.6" fill="none" />
<path d="M426.7,418.9 C427.4,418.2 429.8,415.5 431.1,414.8 C432.4,414.1 433.9,414.8 434.4,414.8" stroke="#505050" stroke-width="1.0" fill="none" />
<path d="M461.5,428.2 C461.9,427.7 463.4,425.6 463.8,425.0 C464.2,424.4 463.8,425.0 463.8,424.4 C463.8,423.9 463.8,422.1 463.8,421.6" stroke="#444" stroke-width="1.0" fill="none" />
<path d="M439.4,411.6 C439.0,411.5 438.2,411.8 437.2,411.3 C436.3,410.7 433.9,408.7 433.6,408.1 C433.2,407.4 434.9,407.6 435.2,407.5" stroke="#444" stroke-width="1.0" fill="none" />
<path d="M449.1,421.1 C448.9,420.6 447.8,418.2 448.0,417.7 C448.2,417.3 449.6,418.2 450.2,418.4 C450.7,418.7 451.2,419.2 451.4,419.4" stroke="#444" stroke-width="1.0" fill="none" />
<path d="M462.9,408.9 C463.1,408.7 463.7,407.9 463.8,407.9 C464.0,407.9 464.0,409.5 463.8,409.1 C463.6,408.8 462.6,406.5 462.4,405.9" stroke="#444" stroke-width="1.0" fill="none" />
<path d="M447.9,420.6 C448.0,420.5 448.3,420.7 448.6,420.2 C448.9,419.7 449.9,418.4 449.7,417.8 C449.5,417.1 447.6,416.6 447.2,416.4" stroke="#444" stroke-width="1.0" fill="none" />
<path d="M458.2,403.4 C457.7,402.9 456.4,401.1 455.3,400.3 C454.2,399.5 452.2,398.4 451.7,398.6 C451.2,398.7 452.2,400.6 452.3,401.0" stroke="#444" stroke-width="1.0" fill="none" />
<path d="M443.6,409.1 C443.3,408.9 441.9,407.8 442.0,407.6 C442.0,407.4 444.0,408.4 444.1,408.0 C444.1,407.6 442.5,405.5 442.2,405.0" stroke="#444" stroke-width="1.0" fill="none" />
<path d="M457.3,420.3 C457.7,419.9 459.3,418.0 459.8,418.2 C460.3,418.4 460.0,420.4 460.2,421.5 C460.3,422.6 460.7,424.3 460.9,424.9" stroke="#444" stroke-width="1.0" fill="none" />
<path d="M438.6,429.1 C438.1,429.0 436.1,428.3 435.2,428.4 C434.4,428.6 433.6,429.7 433.6,429.9 C433.5,430.2 434.8,429.9 435.0,429.9" stroke="#444" stroke-width="1.0" fill="none" />
<path d="M457.9,428.2 C458.0,428.5 457.8,429.8 458.2,429.9 C458.6,430.0 459.2,429.1 460.1,428.7 C461.1,428.4 463.2,427.9 463.8,427.8" stroke="#444" stroke-width="1.0" fill="none" />
<path d="M439.4,399.4 C439.4,399.1 438.7,396.9 439.2,397.1 C439.7,397.3 442.3,400.5 442.5,400.6 C442.7,400.6 440.7,398.0 440.3,397.5" stroke="#444" stroke-width="1.0" fill="none" />
<path d="M449.6,402.5 C449.6,402.9 450.2,404.6 449.9,404.9 C449.6,405.2 447.8,404.5 448.0,404.3 C448.2,404.2 450.6,404.0 451.1,403.9" stroke="#444" stroke-width="1.0" fill="none" />
<path d="M443.9,426.4 C444.3,426.9 445.7,429.0 446.4,429.4 C447.0,429.8 447.3,428.6 447.8,428.7 C448.3,428.8 449.0,429.7 449.3,429.9" stroke="#444" stroke-width="1.0" fill="none" />
<path d="M452.9,404.8 C452.6,404.7 451.3,404.1 451.3,404.1 C451.4,404.1 453.0,404.1 453.4,404.5 C453.8,405.0 453.7,406.6 453.8,407.1" stroke="#444" stroke-width="1.0" fill="none" />
<path d="M436.9,417.8 C436.6,417.8 435.4,418.5 435.6,418.2 C435.8,418.0 437.1,417.1 438.2,416.3 C439.2,415.4 441.0,413.6 441.6,413.0" stroke="#444" stroke-width="1.0" fill="none" />
<path d="M450.6,414.8 C450.2,414.9 448.9,415.3 448.5,415.3 C448.2,415.3 448.1,415.6 448.3,414.9 C448.5,414.2 449.7,411.7 450.0,411.1" stroke="#444" stroke-width="1.0" fill="none" />
<path d="M445.0,422.8 C444.5,423.3 443.1,425.0 442.2,425.7 C441.4,426.4 440.7,426.9 439.9,427.1 C439.1,427.2 437.9,426.7 437.4,426.7" stroke="#444" stroke-width="1.0" fill="none" />
<path d="M446.4,399.6 C446.6,399.6 447.4,399.5 447.9,399.5 C448.4,399.5 449.0,399.7 449.3,399.8 C449.7,399.9 449.7,400.0 449.8,400.0" stroke="#444" stroke-width="1.0" fill="none" />
<path d="M442.6,426.6 C442.1,427.1 439.5,429.0 439.4,429.5 C439.3,430.0 441.4,429.4 442.2,429.5 C443.0,429.5 444.0,429.8 444.3,429.9" stroke="#444" stroke-width="1.0" fill="none" />
<path d="M451.9,406.6 C451.6,406.4 451.0,405.0 450.5,405.4 C450.0,405.8 449.4,408.5 449.0,408.9 C448.5,409.4 447.9,408.2 447.7,408.1" stroke="#444" stroke-width="1.0" fill="none" />
<path d="M446.3,423.9 C446.2,423.9 446.4,424.5 446.1,424.3 C445.8,424.1 445.1,423.2 444.2,422.6 C443.4,421.9 441.6,420.8 441.0,420.4" stroke="#444" stroke-width="1.0" fill="none" />
<path d="M441.6,425.0 C441.6,424.5 441.6,423.0 441.6,422.0 C441.5,421.1 441.3,419.7 441.3,419.1 C441.3,418.6 441.7,418.8 441.8,418.7" stroke="#444" stroke-width="1.0" fill="none" />
<path d="M459.5,405.5 C460.0,405.2 461.5,403.7 462.2,403.5 C462.9,403.4 464.1,404.0 463.8,404.6 C463.5,405.1 460.9,406.5 460.3,406.9" stroke="#444" stroke-width="1.0" fill="none" />
<path d="M441.9,408.9 C441.5,409.3 440.2,410.7 439.2,411.5 C438.2,412.2 436.7,412.8 436.0,413.3 C435.4,413.8 435.4,414.5 435.2,414.7" stroke="#444" stroke-width="1.0" fill="none" />
<path d="M442.4,399.5 C443.0,399.7 445.5,399.9 445.6,400.7 C445.7,401.5 443.0,404.2 443.1,404.4 C443.2,404.6 445.7,402.3 446.3,401.9" stroke="#444" stroke-width="1.0" fill="none" />
<path d="M434.2,417.1 C434.1,417.4 433.7,418.3 433.6,418.9 C433.5,419.4 433.5,419.9 433.6,420.5 C433.7,421.1 434.0,422.2 434.1,422.6" stroke="#444" stroke-width="1.0" fill="none" />
<path d="M431.8,421.8 C431.4,422.2 430.4,424.0 429.7,424.4 C429.0,424.9 428.5,424.4 427.7,424.4 C426.9,424.4 425.4,424.4 425.0,424.4" stroke="#4d4d4d" stroke-width="1.0" fill="none" />
<path d="M425.6,419.6 C425.9,419.9 426.9,420.6 427.1,421.3 C427.3,422.0 426.2,423.8 426.7,423.7 C427.2,423.7 429.4,421.6 429.9,421.2" stroke="#4d4d4d" stroke-width="1.0" fill="none" />
<path d="M429.6,423.7 C429.9,423.7 431.2,423.2 431.2,423.4 C431.3,423.5 430.6,424.2 429.9,424.4 C429.3,424.6 427.7,424.4 427.2,424.4" stroke="#4d4d4d" stroke-width="1.0" fill="none" />
<path d="M433.2,410.5 C433.0,410.3 432.2,409.6 432.1,409.2 C431.9,408.9 431.9,408.0 432.4,408.4 C432.8,408.7 434.5,410.7 435.0,411.2" stroke="#4d4d4d" stroke-width="1.0" fill="none" />
<path d="M427.4,422.7 C427.0,422.2 424.9,420.1 424.6,420.0 C424.3,419.9 425.2,421.3 425.7,422.0 C426.2,422.7 427.4,424.0 427.8,424.4" stroke="#4d4d4d" stroke-width="1.0" fill="none" />
<path d="M433.4,412.3 C433.7,412.8 435.1,414.7 435.0,415.1 C434.8,415.6 433.1,415.5 432.3,415.1 C431.4,414.7 430.4,413.1 430.0,412.7" stroke="#4d4d4d" stroke-width="1.0" fill="none" />
<path d="M414.3,427.4 L435.0,430.2 L436.6,440.9 L440.5,443.9 L441.3,438.4 L448.7,437.1 L451.4,445.3 L456.9,446.7 L458.6,438.4 L462.4,437.1" stroke="#505050" stroke-width="1.1" fill="none" />
<path d="M462.4,405.2 C464.3,404.7 470.6,401.7 473.4,402.4 C476.2,403.1 478.7,406.1 479.2,409.3 C479.7,412.6 478.7,419.4 476.4,421.9 C474.2,424.5 467.3,424.2 465.5,424.7" stroke="#505050" stroke-width="1.1" fill="none" />
<path d="M476.4,421.9 C478.7,421.0 486.9,416.0 489.9,416.4 C492.9,416.9 493.8,420.2 494.3,424.7 C494.8,429.2 493.2,440.5 492.9,443.7" stroke="#505050" stroke-width="1.1" fill="none" />
<path d="M467.9,396.9 C469.3,396.5 473.4,394.2 476.2,394.2 C478.9,394.2 482.6,395.6 484.4,396.9 C486.2,398.3 486.7,401.5 487.2,402.4" stroke="#505050" stroke-width="1.0" fill="none" />
<path d="M480.3,416.2 C481.0,415.9 483.4,414.3 484.4,414.8 C485.4,415.3 486.5,417.5 486.5,418.9 C486.5,420.3 485.3,422.5 484.4,423.0 C483.5,423.6 481.6,422.5 481.0,422.4" stroke="#505050" stroke-width="1.0" fill="none" />
<path d="M462.4,427.2 C463.6,427.6 467.2,429.7 469.3,429.9 C471.4,430.1 473.7,427.9 474.8,428.5 C475.9,429.2 476.2,432.0 476.2,434.0 C476.2,436.1 475.0,439.8 474.8,440.9" stroke="#505050" stroke-width="1.0" fill="none" />
<path d="M467.9,418.9 C469.1,418.8 473.4,417.8 474.8,418.2 C476.2,418.7 475.9,421.1 476.2,421.7" stroke="#505050" stroke-width="1.0" fill="none" />
<path d="M473.6,406.7 C474.1,406.4 475.3,404.9 476.1,404.7 C477.0,404.5 478.9,405.1 478.8,405.7 C478.7,406.2 476.0,407.6 475.5,407.9" stroke="#4d4d4d" stroke-width="1.0" fill="none" />
<path d="M470.5,396.5 C470.4,396.6 470.5,396.8 469.9,397.1 C469.4,397.4 467.3,398.2 467.3,398.5 C467.2,398.7 469.2,398.5 469.6,398.5" stroke="#4d4d4d" stroke-width="1.0" fill="none" />
<path d="M484.5,401.7 C484.9,401.4 486.6,399.9 486.9,399.5 C487.1,399.1 486.5,398.7 485.9,399.2 C485.2,399.8 483.5,402.1 483.0,402.6" stroke="#4d4d4d" stroke-width="1.0" fill="none" />
<path d="M480.4,393.1 C480.5,393.0 481.3,392.7 481.0,392.5 C480.7,392.2 479.2,391.6 478.8,391.4 C478.4,391.3 478.5,391.4 478.5,391.4" stroke="#4d4d4d" stroke-width="1.0" fill="none" />
<path d="M478.5,399.9 C478.1,400.4 476.8,402.6 475.8,402.6 C474.9,402.7 472.7,401.0 472.6,400.3 C472.4,399.5 474.4,398.6 474.8,398.3" stroke="#4d4d4d" stroke-width="1.0" fill="none" />
<path d="M474.9,400.7 C474.8,400.7 474.5,400.7 474.4,400.6 C474.3,400.6 475.0,400.1 474.5,400.5 C473.9,400.9 471.8,402.4 471.3,402.8" stroke="#4d4d4d" stroke-width="1.0" fill="none" />
<path d="M471.2,392.2 C471.1,392.6 470.5,394.2 470.5,394.5 C470.6,394.8 471.3,394.6 471.5,394.2 C471.6,393.8 471.3,392.5 471.3,392.2" stroke="#4d4d4d" stroke-width="1.0" fill="none" />
<path d="M479.9,397.2 C479.4,396.8 477.8,394.8 476.8,394.6 C475.8,394.4 473.9,395.4 473.9,395.9 C473.9,396.4 476.2,397.4 476.6,397.7" stroke="#4d4d4d" stroke-width="1.0" fill="none" />
<path d="M380.0,347.5 C380.9,348.9 383.9,352.5 385.5,355.7 C387.1,358.9 388.7,363.5 389.6,366.7 C390.5,369.9 390.8,373.6 391.0,375.0" stroke="#505050" stroke-width="1.1" fill="none" />
<path d="M380.0,365.3 C380.9,366.5 383.2,370.7 385.5,372.2 C387.8,373.7 392.4,373.9 393.7,374.3" stroke="#505050" stroke-width="1.1" fill="none" />
<path d="M404.7,346.1 C405.9,346.3 409.8,346.3 411.6,347.5 C413.4,348.6 415.0,352.1 415.7,353.0" stroke="#505050" stroke-width="1.0" fill="none" />
<path d="M393.7,324.1 C394.4,323.7 396.7,321.1 397.9,321.4 C399.0,321.6 400.6,324.4 400.6,325.5 C400.6,326.6 398.3,327.8 397.9,328.2" stroke="#505050" stroke-width="1.0" fill="none" />
<path d="M388.2,320.0 C389.2,321.4 392.1,326.0 393.7,328.2 C395.3,330.5 397.2,332.8 397.9,333.7" stroke="#505050" stroke-width="1.0" fill="none" />
<path d="M492.3,349.4 C491.9,349.5 491.1,349.7 490.3,350.1 C489.5,350.5 487.6,352.1 487.4,351.9 C487.2,351.7 488.8,349.4 489.1,348.9" stroke="#444" stroke-width="1.0" fill="none" />
<path d="M490.8,353.4 C490.9,353.9 491.0,355.9 491.7,356.3 C492.3,356.7 494.0,355.5 494.9,355.7 C495.8,356.0 496.8,357.3 497.1,357.6" stroke="#444" stroke-width="1.0" fill="none" />
<path d="M497.5,347.2 C497.6,347.1 498.5,346.7 498.2,346.8 C497.9,346.8 495.7,346.8 495.7,347.4 C495.7,348.0 497.6,349.9 497.9,350.4" stroke="#444" stroke-width="1.0" fill="none" />
<path d="M483.3,357.6 C482.8,358.0 481.0,359.5 480.2,359.8 C479.5,360.2 479.5,360.3 478.9,359.8 C478.2,359.3 476.8,357.3 476.4,356.8" stroke="#444" stroke-width="1.0" fill="none" />
<path d="M475.0,354.6 C475.0,355.0 474.9,356.4 475.4,356.7 C475.8,357.0 476.9,356.6 477.7,356.2 C478.5,355.8 479.6,354.6 480.0,354.2" stroke="#444" stroke-width="1.0" fill="none" />
<path d="M495.4,350.1 C495.8,349.9 497.8,349.4 498.2,349.3 C498.5,349.2 498.2,349.8 497.7,349.4 C497.1,349.0 495.3,347.2 494.8,346.8" stroke="#444" stroke-width="1.0" fill="none" />
<path d="M487.5,356.1 C487.0,356.0 485.2,355.3 484.5,355.5 C483.9,355.7 483.3,357.5 483.7,357.4 C484.1,357.2 486.4,355.1 486.9,354.7" stroke="#444" stroke-width="1.0" fill="none" />
<path d="M487.5,348.2 C487.8,348.6 488.8,350.5 489.4,351.1 C489.9,351.6 491.0,352.0 490.7,351.6 C490.5,351.3 488.2,349.4 487.7,348.9" stroke="#444" stroke-width="1.0" fill="none" />
<path d="M480.4,347.9 C480.0,348.4 478.6,349.9 478.0,350.9 C477.4,351.8 476.9,352.8 477.0,353.6 C477.1,354.3 478.4,355.1 478.7,355.4" stroke="#444" stroke-width="1.0" fill="none" />
<path d="M496.1,355.9 C496.0,355.9 495.4,356.2 495.1,355.7 C494.8,355.2 495.0,353.1 494.4,352.6 C493.8,352.2 491.9,353.0 491.4,353.1" stroke="#444" stroke-width="1.0" fill="none" />
<path d="M516.2,378.8 C516.7,378.5 519.2,376.8 519.2,376.8 C519.2,376.8 517.0,378.7 516.3,379.0 C515.7,379.2 515.4,378.3 515.2,378.1" stroke="#444" stroke-width="1.0" fill="none" />
<path d="M518.0,368.9 C518.3,368.9 520.1,368.4 520.0,368.8 C519.9,369.3 517.6,371.6 517.2,371.6 C516.8,371.6 517.6,369.2 517.7,368.8" stroke="#444" stroke-width="1.0" fill="none" />
<path d="M518.2,380.2 C518.5,380.4 519.5,381.6 519.8,381.3 C520.1,380.9 520.0,378.4 520.0,378.1 C520.0,377.7 520.0,378.8 520.0,379.0" stroke="#444" stroke-width="1.0" fill="none" />
<path d="M511.9,377.1 C511.7,377.3 510.8,377.9 510.8,378.1 C510.9,378.3 512.4,378.4 512.2,378.3 C512.0,378.2 510.0,377.7 509.5,377.6" stroke="#444" stroke-width="1.0" fill="none" />
<path d="M512.4,379.8 C512.9,380.1 514.8,381.6 515.3,381.6 C515.8,381.5 515.2,380.0 515.5,379.4 C515.7,378.8 516.6,378.1 516.8,377.8" stroke="#444" stroke-width="1.0" fill="none" />
<path d="M520.0,368.7 C520.0,368.1 520.0,366.0 520.0,365.5 C520.0,364.9 520.0,365.4 520.0,365.3 C520.0,365.3 520.0,365.3 520.0,365.3" stroke="#444" stroke-width="1.0" fill="none" />
<path d="M435.0,337.9 C435.4,338.8 436.6,342.0 437.7,343.4 C438.8,344.7 440.7,346.1 441.8,346.1 C443.0,346.1 444.1,343.8 444.6,343.4" stroke="#444" stroke-width="1.3" fill="none" />
<path d="M440.5,347.5 C441.8,347.8 445.9,349.3 448.7,349.5 C451.4,349.8 453.7,348.6 456.9,348.9 C460.1,349.1 466.1,350.6 467.9,350.9" stroke="#505050" stroke-width="1.0" fill="none" />
<text transform="translate(198.4,218.8) scale(0.932,1)" font-size="12.4" fill="#2e2e2e" stroke="#2e2e2e" stroke-width="0.5" text-anchor="start">IGNITION SWITCH</text>
<text transform="translate(217.5,276.7) scale(0.932,1)" font-size="12.4" fill="#2e2e2e" stroke="#2e2e2e" stroke-width="0.5" text-anchor="start">IGNITION COIL</text>
<text transform="translate(220.8,320.9) scale(0.932,1)" font-size="12.4" fill="#2e2e2e" stroke="#2e2e2e" stroke-width="0.5" text-anchor="start">REGULATOR/</text>
<text transform="translate(220.8,335.2) scale(0.932,1)" font-size="12.4" fill="#2e2e2e" stroke="#2e2e2e" stroke-width="0.5" text-anchor="start">RECTIFIER</text>
<text transform="translate(538.4,153.5) scale(0.932,1)" font-size="12.4" fill="#2e2e2e" stroke="#2e2e2e" stroke-width="0.5" text-anchor="start">ENGINE STOP SWITCH</text>
<text transform="translate(575.4,194.6) scale(0.932,1)" font-size="12.4" fill="#2e2e2e" stroke="#2e2e2e" stroke-width="0.5" text-anchor="start">STARTER SWITCH</text>
<text transform="translate(538.4,237.7) scale(0.932,1)" font-size="12.4" fill="#2e2e2e" stroke="#2e2e2e" stroke-width="0.5" text-anchor="start">FUSE BOX:</text>
<text transform="translate(538.4,252.0) scale(0.932,1)" font-size="12.4" fill="#2e2e2e" stroke="#2e2e2e" stroke-width="0.5" text-anchor="start">- 25 A (MAIN)</text>
<text transform="translate(538.4,266.4) scale(0.932,1)" font-size="12.4" fill="#2e2e2e" stroke="#2e2e2e" stroke-width="0.5" text-anchor="start">- 10 A (FI)</text>
<text transform="translate(538.4,280.6) scale(0.932,1)" font-size="12.4" fill="#2e2e2e" stroke="#2e2e2e" stroke-width="0.5" text-anchor="start">- DIODE</text>
<text transform="translate(723.8,299.6) scale(0.932,1)" font-size="12.4" fill="#2e2e2e" stroke="#2e2e2e" stroke-width="0.5" text-anchor="start">BATTERY</text>
<text transform="translate(722.0,353.9) scale(0.932,1)" font-size="12.4" fill="#2e2e2e" stroke="#2e2e2e" stroke-width="0.5" text-anchor="start">STARTER RELAY</text>
<text transform="translate(259.5,467.4) scale(0.932,1)" font-size="12.4" fill="#2e2e2e" stroke="#2e2e2e" stroke-width="0.5" text-anchor="start">STARTER MOTOR</text>
<text transform="translate(385.1,508.2) scale(0.932,1)" font-size="12.4" fill="#2e2e2e" stroke="#2e2e2e" stroke-width="0.5" text-anchor="start">SIDESTAND</text>
<text transform="translate(385.1,522.3) scale(0.932,1)" font-size="12.4" fill="#2e2e2e" stroke="#2e2e2e" stroke-width="0.5" text-anchor="start">SWITCH</text>
<text transform="translate(492.8,508.2) scale(0.932,1)" font-size="12.4" fill="#2e2e2e" stroke="#2e2e2e" stroke-width="0.5" text-anchor="start">NEUTRAL</text>
<text transform="translate(492.8,522.3) scale(0.932,1)" font-size="12.4" fill="#2e2e2e" stroke="#2e2e2e" stroke-width="0.5" text-anchor="start">SWITCH</text>
<line x1="299.2" y1="220.6" x2="391.1" y2="258.0" stroke="#2f2f2f" stroke-width="1.6"/>
<polygon points="397.6,260.6 388.1,260.2 390.5,254.2" fill="#2f2f2f"/>
<line x1="296.1" y1="281.8" x2="422.9" y2="328.2" stroke="#2f2f2f" stroke-width="1.6"/>
<polygon points="429.5,330.6 419.9,330.5 422.1,324.5" fill="#2f2f2f"/>
<line x1="302.5" y1="322.7" x2="435.6" y2="351.3" stroke="#2f2f2f" stroke-width="1.6"/>
<polygon points="442.4,352.8 432.9,354.0 434.3,347.8" fill="#2f2f2f"/>
<line x1="566.5" y1="160.1" x2="474.6" y2="204.7" stroke="#2f2f2f" stroke-width="1.6"/>
<polygon points="468.3,207.8 475.0,201.0 477.8,206.7" fill="#2f2f2f"/>
<line x1="570.3" y1="193.8" x2="478.8" y2="220.4" stroke="#2f2f2f" stroke-width="1.6"/>
<polygon points="472.1,222.4 479.8,216.8 481.6,223.0" fill="#2f2f2f"/>
<line x1="549.4" y1="285.6" x2="492.2" y2="346.4" stroke="#2f2f2f" stroke-width="1.6"/>
<polygon points="487.4,351.5 491.2,342.8 495.9,347.1" fill="#2f2f2f"/>
<line x1="719.4" y1="300.3" x2="518.4" y2="360.7" stroke="#2f2f2f" stroke-width="1.6"/>
<polygon points="511.7,362.7 519.4,357.0 521.2,363.2" fill="#2f2f2f"/>
<line x1="717.9" y1="349.8" x2="574.8" y2="364.1" stroke="#2f2f2f" stroke-width="1.6"/>
<polygon points="567.8,364.8 576.4,360.7 577.1,367.1" fill="#2f2f2f"/>
<line x1="315.4" y1="456.4" x2="442.7" y2="389.0" stroke="#2f2f2f" stroke-width="1.6"/>
<polygon points="448.9,385.7 442.4,392.7 439.4,387.1" fill="#2f2f2f"/>
<line x1="417.5" y1="493.1" x2="460.4" y2="453.3" stroke="#2f2f2f" stroke-width="1.6"/>
<polygon points="465.5,448.5 461.1,457.0 456.7,452.3" fill="#2f2f2f"/>
<line x1="515.8" y1="493.1" x2="476.9" y2="407.8" stroke="#2f2f2f" stroke-width="1.6"/>
<polygon points="474.0,401.4 480.6,408.3 474.8,410.9" fill="#2f2f2f"/>
<text transform="translate(360.2,608.4) scale(0.94,1)" font-size="12.4" fill="#2e2e2e" stroke="#2e2e2e" stroke-width="0.5" text-anchor="start">MAIN FUSE 25 A</text>
<path d="M291.2,733.0 L291.2,664.0" stroke="#4a4a4a" stroke-width="1.15" fill="none" />
<path d="M291.2,645.0 L291.2,622.7 L394.6,622.7" stroke="#4a4a4a" stroke-width="1.15" fill="none" />
<text transform="translate(291.2,660.3) scale(0.94,1)" font-size="12.4" fill="#2e2e2e" stroke="#2e2e2e" stroke-width="0.5" text-anchor="middle">R</text>
<circle cx="397.4" cy="622.7" r="2.85" stroke="#4a4a4a" stroke-width="1.1" fill="none"/>
<circle cx="416.8" cy="622.7" r="2.85" stroke="#4a4a4a" stroke-width="1.1" fill="none"/>
<path d="M400.2,622.7 q3.4,3.2 6.9,0 t6.9,0" stroke="#4a4a4a" stroke-width="1.1" fill="none" />
<line x1="419.6" y1="622.7" x2="472.3" y2="622.7" stroke="#4a4a4a" stroke-width="1.1"/>
<text transform="translate(478.0,627.2) scale(0.94,1)" font-size="12.4" fill="#2e2e2e" stroke="#2e2e2e" stroke-width="0.5" text-anchor="start">R/Y</text>
<path d="M503.0,622.7 L549.6,622.7 L549.6,646.6" stroke="#4a4a4a" stroke-width="1.15" fill="none" />
<path d="M562.0,646.6 L562.0,622.7 L602.4,622.7" stroke="#4a4a4a" stroke-width="1.15" fill="none" />
<text transform="translate(605.8,627.2) scale(0.94,1)" font-size="12.4" fill="#2e2e2e" stroke="#2e2e2e" stroke-width="0.5" text-anchor="start">Bl/W</text>
<line x1="635.0" y1="622.7" x2="675.6" y2="622.7" stroke="#4a4a4a" stroke-width="1.1"/>
<rect x="662.2" y="605.3" width="51.3" height="30.1" rx="0" stroke="#4a4a4a" stroke-width="1.1" fill="none"/>
<circle cx="678.3" cy="622.7" r="2.8" stroke="#4a4a4a" stroke-width="1.1" fill="none"/>
<circle cx="697.4" cy="622.7" r="2.8" stroke="#4a4a4a" stroke-width="1.1" fill="none"/>
<line x1="680.5" y1="621.4" x2="700.0" y2="612.5" stroke="#4a4a4a" stroke-width="1.1"/>
<path d="M688,618.6 l5,1.2" stroke="#4a4a4a" stroke-width="0.8" fill="none" />
<line x1="700.0" y1="622.7" x2="762.8" y2="622.7" stroke="#4a4a4a" stroke-width="1.1"/>
<text transform="translate(661.7,655.0) scale(0.94,1)" font-size="12.4" fill="#2e2e2e" stroke="#2e2e2e" stroke-width="0.5" text-anchor="start">IGNITION</text>
<text transform="translate(661.7,669.0) scale(0.94,1)" font-size="12.4" fill="#2e2e2e" stroke="#2e2e2e" stroke-width="0.5" text-anchor="start">SWITCH</text>
<path d="M762.8,622.7 L762.8,829.5" stroke="#4a4a4a" stroke-width="1.15" fill="none" />
<path d="M762.8,845.0 L762.8,907.9 L727.8,907.9" stroke="#4a4a4a" stroke-width="1.15" fill="none" />
<text transform="translate(763.5,841.3) scale(0.94,1)" font-size="12.4" fill="#2e2e2e" stroke="#2e2e2e" stroke-width="0.5" text-anchor="middle">Bl/Y</text>
<rect x="518.2" y="646.6" width="72.8" height="20.4" rx="0" stroke="#4a4a4a" stroke-width="1.1" fill="none"/>
<path d="M518.2,656.9 L543.8,656.9 L543.8,651.2 L565.4,651.2 L565.4,656.9 L591.0,656.9" stroke="#4a4a4a" stroke-width="1.15" fill="none" />
<path d="M581.2,659.2 l1.8,-1.6" stroke="#222" stroke-width="1.6" fill="none" />
<rect x="503.0" y="667.0" width="103.3" height="46.8" rx="0" stroke="#4a4a4a" stroke-width="1.1" fill="none"/>
<text transform="translate(515.0,685.7) scale(0.94,1)" font-size="12.4" fill="#2e2e2e" stroke="#2e2e2e" stroke-width="0.5" text-anchor="start">REGULATOR/</text>
<text transform="translate(515.0,699.7) scale(0.94,1)" font-size="12.4" fill="#2e2e2e" stroke="#2e2e2e" stroke-width="0.5" text-anchor="start">RECTIFIER</text>
<path d="M240.0,733.0 L240.0,701.0 L201.7,701.0 L201.7,775.0" stroke="#4a4a4a" stroke-width="1.15" fill="none" />
<text transform="translate(201.7,788.5) scale(0.94,1)" font-size="12.4" fill="#2e2e2e" stroke="#2e2e2e" stroke-width="0.5" text-anchor="middle">G</text>
<path d="M201.7,793.0 L201.7,912.7 L214.2,927.1" stroke="#4a4a4a" stroke-width="1.15" fill="none" />
<rect x="234.3" y="733.0" width="10.7" height="11.4" rx="0" stroke="#4a4a4a" stroke-width="1.1" fill="none"/>
<rect x="286.7" y="733.0" width="10.2" height="11.4" rx="0" stroke="#4a4a4a" stroke-width="1.1" fill="none"/>
<rect x="226.7" y="744.4" width="77.8" height="48.5" rx="0" stroke="#4a4a4a" stroke-width="1.1" fill="none"/>
<circle cx="239.9" cy="757.1" r="6.4" stroke="#4a4a4a" stroke-width="1.3" fill="none"/>
<rect x="235.2" y="755.5" width="9.4" height="3.2" rx="1.6" fill="#999" stroke="#4a4a4a" stroke-width="1.1"/>
<circle cx="291.9" cy="757.2" r="6.4" stroke="#4a4a4a" stroke-width="1.3" fill="none"/>
<path d="M287.2,757.2 h9.4 M291.9,752.5 v9.4" stroke="#4a4a4a" stroke-width="3.6" fill="none" style="stroke-linecap:butt"/>
<path d="M288.2,757.2 h7.4 M291.9,753.5 v7.4" stroke="#fff" stroke-width="1.6" fill="none" style="stroke-linecap:butt"/>
<text transform="translate(238.5,781.6) scale(0.94,1)" font-size="12.4" fill="#2e2e2e" stroke="#2e2e2e" stroke-width="0.5" text-anchor="start">BATTERY</text>
<path d="M292.5,733.0 L305.0,701.0 L325.4,701.0 L325.4,714.5" stroke="#4a4a4a" stroke-width="1.15" fill="none" />
<text transform="translate(325.4,728.2) scale(0.94,1)" font-size="12.4" fill="#2e2e2e" stroke="#2e2e2e" stroke-width="0.5" text-anchor="middle">R</text>
<path d="M325.4,732.5 L325.4,812.5 L378.5,812.5 L378.5,795.4" stroke="#4a4a4a" stroke-width="1.15" fill="none" />
<text transform="translate(352.5,682.4) scale(0.94,1)" font-size="12.4" fill="#2e2e2e" stroke="#2e2e2e" stroke-width="0.5" text-anchor="start">STARTER RELAY</text>
<rect x="367.5" y="690.8" width="68.9" height="104.6" rx="0" stroke="#4a4a4a" stroke-width="1.1" fill="none"/>
<line x1="367.5" y1="765.6" x2="436.4" y2="765.6" stroke="#4a4a4a" stroke-width="1.1"/>
<path d="M367.5,777.8 L395.6,777.8 L395.6,784.8 L412.6,784.8 L412.6,777.8 L436.4,777.8" stroke="#4a4a4a" stroke-width="1.15" fill="none" />
<path d="M377.5,765.4 L377.5,696.8 L394.9,696.8 L394.9,708.2" stroke="#4a4a4a" stroke-width="1.15" fill="none" />
<path d="M426.1,765.4 L426.1,696.8 L411.8,696.8 L411.8,704.4" stroke="#4a4a4a" stroke-width="1.15" fill="none" />
<rect x="384.7" y="704.6" width="3.5" height="53.6" rx="0" stroke="#4a4a4a" stroke-width="0.9" fill="none"/>
<path d="M384.7,724.8 L382.7,724.8 L382.7,737.3 L384.7,737.3" stroke="#4a4a4a" stroke-width="0.9" fill="none" />
<circle cx="395.2" cy="711.8" r="3.5" stroke="#4a4a4a" stroke-width="1.1" fill="none"/>
<circle cx="395.2" cy="752.0" r="3.5" stroke="#4a4a4a" stroke-width="1.1" fill="none"/>
<line x1="395.2" y1="755.6" x2="395.2" y2="765.4" stroke="#4a4a4a" stroke-width="1.1"/>
<path d="M411.8,704.4 C408.5,705.5 406.3,707.5 406.6,710.5 C406.6,714.7 417.2,715.7 416.2,711.9 C415.2,709.1 406.6,712.7 406.6,717.2 C406.6,721.5 417.2,722.5 416.2,718.6 C415.2,715.9 406.6,719.5 406.6,724.0 C406.6,728.2 417.2,729.2 416.2,725.4 C415.2,722.6 406.6,726.2 406.6,730.8 C406.6,735.0 417.2,736.0 416.2,732.1 C415.2,729.4 406.6,733.0 406.6,737.5 C406.6,741.7 417.2,742.7 416.2,738.9 C415.2,736.1 406.6,739.7 406.6,744.2 C406.6,748.5 417.2,749.5 416.2,745.6 C415.2,742.9 406.6,746.5 406.6,751.0 C406.8,754.2 409.5,755.8 412.8,757 L412.8,765.4" stroke="#4a4a4a" stroke-width="1.0" fill="none" />
<path d="M395.6,795.4 L395.6,826.0 L254.3,826.0 L254.3,853.5" stroke="#4a4a4a" stroke-width="1.15" fill="none" />
<text transform="translate(254.5,865.8) scale(0.94,1)" font-size="12.4" fill="#2e2e2e" stroke="#2e2e2e" stroke-width="0.5" text-anchor="middle">R/W</text>
<line x1="254.3" y1="870.0" x2="254.3" y2="917.8" stroke="#4a4a4a" stroke-width="1.1"/>
<line x1="412.8" y1="795.4" x2="412.8" y2="831.5" stroke="#4a4a4a" stroke-width="1.1"/>
<text transform="translate(413.8,846.8) scale(0.94,1)" font-size="12.4" fill="#2e2e2e" stroke="#2e2e2e" stroke-width="0.5" text-anchor="middle">Bl/Y</text>
<line x1="412.8" y1="850.5" x2="412.8" y2="872.5" stroke="#4a4a4a" stroke-width="1.1"/>
<circle cx="412.8" cy="861.0" r="2.3" stroke="#222" stroke-width="0.5" fill="#222"/>
<text transform="translate(413.8,888.4) scale(0.94,1)" font-size="12.4" fill="#2e2e2e" stroke="#2e2e2e" stroke-width="0.5" text-anchor="middle">Bl/Y</text>
<path d="M412.8,892.0 L412.8,907.9 L449.2,907.9" stroke="#4a4a4a" stroke-width="1.15" fill="none" />
<path d="M426.2,795.4 L426.2,827.3 L445.5,827.3" stroke="#4a4a4a" stroke-width="1.15" fill="none" />
<text transform="translate(454.4,831.7) scale(0.94,1)" font-size="12.4" fill="#2e2e2e" stroke="#2e2e2e" stroke-width="0.5" text-anchor="start">G/W</text>
<line x1="483.8" y1="827.3" x2="524.6" y2="827.3" stroke="#4a4a4a" stroke-width="1.1"/>
<circle cx="505.5" cy="827.3" r="2.2" stroke="#222" stroke-width="0.5" fill="#222"/>
<text transform="translate(531.5,831.7) scale(0.94,1)" font-size="12.4" fill="#2e2e2e" stroke="#2e2e2e" stroke-width="0.5" text-anchor="start">G/W</text>
<line x1="562.4" y1="827.3" x2="582.6" y2="827.3" stroke="#4a4a4a" stroke-width="1.1"/>
<path d="M505.5,827.3 L505.5,770.4 L524.6,770.4" stroke="#4a4a4a" stroke-width="1.15" fill="none" />
<text transform="translate(531.5,774.8) scale(0.94,1)" font-size="12.4" fill="#2e2e2e" stroke="#2e2e2e" stroke-width="0.5" text-anchor="start">G/W</text>
<line x1="562.4" y1="770.4" x2="608.8" y2="770.4" stroke="#4a4a4a" stroke-width="1.1"/>
<path d="M608.8,765.4 L608.8,775.6 L618.6,770.4 Z" stroke="#4a4a4a" stroke-width="1.0" fill="none" />
<line x1="619.0" y1="762.2" x2="619.0" y2="778.8" stroke="#4a4a4a" stroke-width="1.1"/>
<line x1="619.0" y1="770.4" x2="643.3" y2="770.4" stroke="#4a4a4a" stroke-width="1.1"/>
<text transform="translate(595.6,756.4) scale(0.94,1)" font-size="12.4" fill="#2e2e2e" stroke="#2e2e2e" stroke-width="0.5" text-anchor="start">DIODE</text>
<text transform="translate(649.7,774.8) scale(0.94,1)" font-size="12.4" fill="#2e2e2e" stroke="#2e2e2e" stroke-width="0.5" text-anchor="start">Lg/R</text>
<line x1="680.0" y1="770.4" x2="692.6" y2="770.4" stroke="#4a4a4a" stroke-width="1.1"/>
<circle cx="712.7" cy="769.9" r="20.1" stroke="#4a4a4a" stroke-width="1.3" fill="none"/>
<circle cx="712.7" cy="769.9" r="14.3" stroke="#4a4a4a" stroke-width="1.0" fill="none"/>
<line x1="708.3" y1="756.3" x2="706.5" y2="750.8" stroke="#888" stroke-width="0.7"/>
<line x1="717.1" y1="756.3" x2="718.9" y2="750.8" stroke="#888" stroke-width="0.7"/>
<line x1="720.3" y1="757.8" x2="723.4" y2="752.9" stroke="#888" stroke-width="0.7"/>
<line x1="725.7" y1="763.9" x2="730.9" y2="761.4" stroke="#888" stroke-width="0.7"/>
<text transform="translate(683.9,722.7) scale(0.94,1)" font-size="12.4" fill="#2e2e2e" stroke="#2e2e2e" stroke-width="0.5" text-anchor="start">NEUTRAL</text>
<text transform="translate(683.9,736.7) scale(0.94,1)" font-size="12.4" fill="#2e2e2e" stroke="#2e2e2e" stroke-width="0.5" text-anchor="start">SWITCH</text>
<line x1="713.1" y1="790.0" x2="713.1" y2="828.2" stroke="#4a4a4a" stroke-width="1.1"/>
<line x1="702.8" y1="828.2" x2="724.5" y2="828.2" stroke="#4a4a4a" stroke-width="1.1"/>
<line x1="706.9" y1="832.3" x2="720.3" y2="832.3" stroke="#4a4a4a" stroke-width="1.1"/>
<line x1="710.6" y1="836.3" x2="716.6" y2="836.3" stroke="#4a4a4a" stroke-width="1.1"/>
<circle cx="601.2" cy="827.3" r="19.9" stroke="#4a4a4a" stroke-width="1.1" fill="none"/>
<circle cx="585.4" cy="827.3" r="2.9" stroke="#4a4a4a" stroke-width="1.1" fill="#fff"/>
<circle cx="611.9" cy="814.5" r="2.9" stroke="#4a4a4a" stroke-width="1.1" fill="#fff"/>
<circle cx="611.9" cy="838.8" r="2.9" stroke="#4a4a4a" stroke-width="1.1" fill="#fff"/>
<line x1="588.0" y1="826.1" x2="609.3" y2="815.8" stroke="#4a4a4a" stroke-width="1.1"/>
<path d="M614.6,812.9 L676.8,812.9 L676.8,830.8" stroke="#4a4a4a" stroke-width="1.15" fill="none" />
<text transform="translate(676.6,843.5) scale(0.94,1)" font-size="12.4" fill="#2e2e2e" stroke="#2e2e2e" stroke-width="0.5" text-anchor="middle">G</text>
<line x1="676.8" y1="847.6" x2="676.8" y2="868.2" stroke="#4a4a4a" stroke-width="1.1"/>
<line x1="666.8" y1="868.2" x2="688.4" y2="868.2" stroke="#4a4a4a" stroke-width="1.1"/>
<line x1="670.9" y1="872.3" x2="684.3" y2="872.3" stroke="#4a4a4a" stroke-width="1.1"/>
<line x1="674.6" y1="876.3" x2="680.6" y2="876.3" stroke="#4a4a4a" stroke-width="1.1"/>
<text transform="translate(619.8,805.0) scale(0.94,1)" font-size="12.4" fill="#2e2e2e" stroke="#2e2e2e" stroke-width="0.5" text-anchor="start">Up</text>
<text transform="translate(620.0,856.9) scale(0.94,1)" font-size="12.4" fill="#2e2e2e" stroke="#2e2e2e" stroke-width="0.5" text-anchor="start">Down</text>
<text transform="translate(514.8,856.3) scale(0.94,1)" font-size="12.4" fill="#2e2e2e" stroke="#2e2e2e" stroke-width="0.5" text-anchor="start">SIDESTAND</text>
<text transform="translate(514.8,869.9) scale(0.94,1)" font-size="12.4" fill="#2e2e2e" stroke="#2e2e2e" stroke-width="0.5" text-anchor="start">SWITCH</text>
<rect x="441.3" y="889.0" width="41.1" height="31.1" rx="0" stroke="#4a4a4a" stroke-width="1.1" fill="none"/>
<circle cx="451.8" cy="907.9" r="2.5" stroke="#4a4a4a" stroke-width="1.1" fill="#fff"/>
<circle cx="472.2" cy="907.9" r="2.5" stroke="#4a4a4a" stroke-width="1.1" fill="#fff"/>
<path d="M458.7,894.6 L458.7,881.1 L465.8,881.1 L465.8,894.6 L472.2,894.6 L472.2,901.5 L452.3,901.5 L452.3,894.6 L458.7,894.6" stroke="#4a4a4a" stroke-width="1.15" fill="none" />
<line x1="474.8" y1="907.9" x2="499.5" y2="907.9" stroke="#4a4a4a" stroke-width="1.1"/>
<text transform="translate(505.9,912.3) scale(0.94,1)" font-size="12.4" fill="#2e2e2e" stroke="#2e2e2e" stroke-width="0.5" text-anchor="start">Bl/Bu</text>
<line x1="539.8" y1="907.9" x2="578.5" y2="907.9" stroke="#4a4a4a" stroke-width="1.1"/>
<text transform="translate(435.0,939.3) scale(0.94,1)" font-size="12.4" fill="#2e2e2e" stroke="#2e2e2e" stroke-width="0.5" text-anchor="start">STARTER</text>
<text transform="translate(435.0,953.3) scale(0.94,1)" font-size="12.4" fill="#2e2e2e" stroke="#2e2e2e" stroke-width="0.5" text-anchor="start">SWITCH</text>
<rect x="564.6" y="890.8" width="51.0" height="30.6" rx="0" stroke="#4a4a4a" stroke-width="1.1" fill="none"/>
<circle cx="581.2" cy="907.9" r="2.8" stroke="#4a4a4a" stroke-width="1.1" fill="#fff"/>
<circle cx="599.8" cy="907.9" r="2.8" stroke="#4a4a4a" stroke-width="1.1" fill="#fff"/>
<line x1="583.4" y1="906.6" x2="601.6" y2="897.9" stroke="#4a4a4a" stroke-width="1.1"/>
<path d="M590.5,903.8 l5,1.2" stroke="#4a4a4a" stroke-width="0.8" fill="none" />
<line x1="602.5" y1="907.9" x2="638.6" y2="907.9" stroke="#4a4a4a" stroke-width="1.1"/>
<text transform="translate(643.7,912.3) scale(0.94,1)" font-size="12.4" fill="#2e2e2e" stroke="#2e2e2e" stroke-width="0.5" text-anchor="start">Bl/W</text>
<line x1="672.3" y1="907.9" x2="704.0" y2="907.9" stroke="#4a4a4a" stroke-width="1.1"/>
<circle cx="706.8" cy="907.9" r="2.85" stroke="#4a4a4a" stroke-width="1.1" fill="none"/>
<circle cx="725.1" cy="907.9" r="2.85" stroke="#4a4a4a" stroke-width="1.1" fill="none"/>
<path d="M709.6,907.9 q3.2,3.2 6.3,0 t6.3,0" stroke="#4a4a4a" stroke-width="1.1" fill="none" />
<text transform="translate(549.8,935.0) scale(0.94,1)" font-size="12.4" fill="#2e2e2e" stroke="#2e2e2e" stroke-width="0.5" text-anchor="start">ENGINE STOP</text>
<text transform="translate(549.8,948.7) scale(0.94,1)" font-size="12.4" fill="#2e2e2e" stroke="#2e2e2e" stroke-width="0.5" text-anchor="start">SWITCH</text>
<text transform="translate(693.2,930.3) scale(0.94,1)" font-size="12.4" fill="#2e2e2e" stroke="#2e2e2e" stroke-width="0.5" text-anchor="start">FI FUSE</text>
<text transform="translate(693.2,944.9) scale(0.94,1)" font-size="12.4" fill="#2e2e2e" stroke="#2e2e2e" stroke-width="0.5" text-anchor="start">10 A</text>
<rect x="247.9" y="917.4" width="14.1" height="13.2" rx="0" stroke="#4a4a4a" stroke-width="1.1" fill="none"/>
<circle cx="254.6" cy="923.8" r="4.7" stroke="#4a4a4a" stroke-width="0.9" fill="none"/>
<path d="M251.3,920.5 l6.6,6.6 M257.9,920.5 l-6.6,6.6" stroke="#4a4a4a" stroke-width="0.9" fill="none" />
<path d="M244.6,936.6 L244.6,931.0 L265.0,931.0 L265.0,936.6" stroke="#4a4a4a" stroke-width="1.15" fill="none" />
<circle cx="254.9" cy="960.6" r="26.0" stroke="#4a4a4a" stroke-width="1.1" fill="none"/>
<path d="M214.2,927.1 L212.2,929.8 L217,925 Z" stroke="#4a4a4a" stroke-width="1.0" fill="none" />
<path d="M217,925 L226.5,932.6 A7.3,7.3 0 1 1 221,941.5 L212.2,929.8 Z" stroke="#4a4a4a" stroke-width="1.1" fill="#fff" />
<circle cx="228.4" cy="940.1" r="3.6" stroke="#4a4a4a" stroke-width="1.1" fill="none"/>
<path d="M242.8,972 V948 H246.6 L254.8,967 L263,948 H266.8 V972 H263.4 V954 L256,972 H253.6 L246.2,954 V972 Z" stroke="#666" stroke-width="0.95" fill="none" />
<line x1="254.8" y1="986.4" x2="254.8" y2="1002.0" stroke="#4a4a4a" stroke-width="1.1"/>
<line x1="244.4" y1="1002.0" x2="265.4" y2="1002.0" stroke="#4a4a4a" stroke-width="1.1"/>
<line x1="248.4" y1="1006.1" x2="261.4" y2="1006.1" stroke="#4a4a4a" stroke-width="1.1"/>
<line x1="252.0" y1="1010.1" x2="257.8" y2="1010.1" stroke="#4a4a4a" stroke-width="1.1"/>
<text transform="translate(289.0,958.6) scale(0.94,1)" font-size="12.4" fill="#2e2e2e" stroke="#2e2e2e" stroke-width="0.5" text-anchor="start">STARTER</text>
<text transform="translate(289.0,972.2) scale(0.94,1)" font-size="12.4" fill="#2e2e2e" stroke="#2e2e2e" stroke-width="0.5" text-anchor="start">MOTOR</text>
<text transform="translate(780.0,904.3) scale(0.94,1)" font-size="12.2" fill="#2e2e2e" stroke="#2e2e2e" stroke-width="0.5" text-anchor="start">Bl: Black</text>
<text transform="translate(780.0,918.6) scale(0.94,1)" font-size="12.2" fill="#2e2e2e" stroke="#2e2e2e" stroke-width="0.5" text-anchor="start">Y: Yellow</text>
<text transform="translate(780.0,933.0) scale(0.94,1)" font-size="12.2" fill="#2e2e2e" stroke="#2e2e2e" stroke-width="0.5" text-anchor="start">G: Green</text>
<text transform="translate(780.0,947.3) scale(0.94,1)" font-size="12.2" fill="#2e2e2e" stroke="#2e2e2e" stroke-width="0.5" text-anchor="start">R: Red</text>
<text transform="translate(780.0,961.6) scale(0.94,1)" font-size="12.2" fill="#2e2e2e" stroke="#2e2e2e" stroke-width="0.5" text-anchor="start">W: White</text>
<text transform="translate(780.0,975.9) scale(0.94,1)" font-size="12.2" fill="#2e2e2e" stroke="#2e2e2e" stroke-width="0.5" text-anchor="start">Bu: Blue</text>
<text transform="translate(780.0,990.3) scale(0.94,1)" font-size="12.2" fill="#2e2e2e" stroke="#2e2e2e" stroke-width="0.5" text-anchor="start">Lg: Light Green</text>
</g>
</svg>
</body></html>
